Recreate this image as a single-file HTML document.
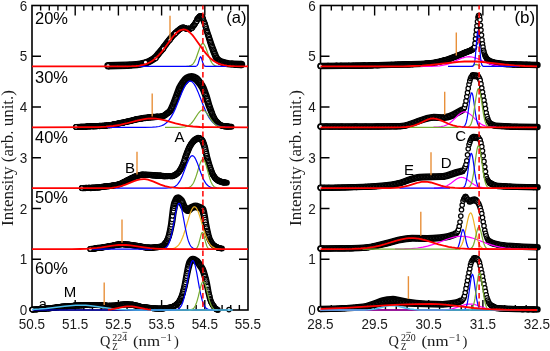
<!DOCTYPE html>
<html><head><meta charset="utf-8"><style>
html,body{margin:0;padding:0;background:#fff;width:550px;height:351px;overflow:hidden}
svg{display:block;will-change:transform}
</style></head><body>
<svg width="550" height="351" viewBox="0 0 550 351">
<rect width="550" height="351" fill="#fff"/>
<rect x="32.0" y="5.5" width="216.0" height="304.5" fill="none" stroke="#000" stroke-width="1.6"/>
<path d="M40.64 5.5v5M40.64 310.0v-5M49.28 5.5v5M49.28 310.0v-5M57.92 5.5v5M57.92 310.0v-5M66.56 5.5v5M66.56 310.0v-5M75.20 5.5v10M75.20 310.0v-10M83.84 5.5v5M83.84 310.0v-5M92.48 5.5v5M92.48 310.0v-5M101.12 5.5v5M101.12 310.0v-5M109.76 5.5v5M109.76 310.0v-5M118.40 5.5v10M118.40 310.0v-10M127.04 5.5v5M127.04 310.0v-5M135.68 5.5v5M135.68 310.0v-5M144.32 5.5v5M144.32 310.0v-5M152.96 5.5v5M152.96 310.0v-5M161.60 5.5v10M161.60 310.0v-10M170.24 5.5v5M170.24 310.0v-5M178.88 5.5v5M178.88 310.0v-5M187.52 5.5v5M187.52 310.0v-5M196.16 5.5v5M196.16 310.0v-5M204.80 5.5v10M204.80 310.0v-10M213.44 5.5v5M213.44 310.0v-5M222.08 5.5v5M222.08 310.0v-5M230.72 5.5v5M230.72 310.0v-5M239.36 5.5v5M239.36 310.0v-5M32.0 259.25h9M248.0 259.25h-9M32.0 208.50h9M248.0 208.50h-9M32.0 157.75h9M248.0 157.75h-9M32.0 107.00h9M248.0 107.00h-9M32.0 56.25h9M248.0 56.25h-9" stroke="#000" stroke-width="1.4" fill="none"/>
<rect x="320.5" y="5.5" width="216.5" height="304.5" fill="none" stroke="#000" stroke-width="1.6"/>
<path d="M331.32 5.5v5M331.32 310.0v-5M342.15 5.5v5M342.15 310.0v-5M352.98 5.5v5M352.98 310.0v-5M363.80 5.5v5M363.80 310.0v-5M374.62 5.5v10M374.62 310.0v-10M385.45 5.5v5M385.45 310.0v-5M396.27 5.5v5M396.27 310.0v-5M407.10 5.5v5M407.10 310.0v-5M417.93 5.5v5M417.93 310.0v-5M428.75 5.5v10M428.75 310.0v-10M439.57 5.5v5M439.57 310.0v-5M450.40 5.5v5M450.40 310.0v-5M461.23 5.5v5M461.23 310.0v-5M472.05 5.5v5M472.05 310.0v-5M482.88 5.5v10M482.88 310.0v-10M493.70 5.5v5M493.70 310.0v-5M504.52 5.5v5M504.52 310.0v-5M515.35 5.5v5M515.35 310.0v-5M526.17 5.5v5M526.17 310.0v-5M320.5 259.25h9M537.0 259.25h-9M320.5 208.50h9M537.0 208.50h-9M320.5 157.75h9M537.0 157.75h-9M320.5 107.00h9M537.0 107.00h-9M320.5 56.25h9M537.0 56.25h-9" stroke="#000" stroke-width="1.4" fill="none"/>
<text x="38.8" y="308.6" font-family="Liberation Sans, sans-serif" font-size="14.5" fill="#000">a</text>
<polygon points="107.9,62.1 126.4,61.6 136.1,61 139.8,60.4 144.1,59.5 146.2,58.8 148.5,57.7 151.8,55.7 153.9,53.8 159.8,46.7 166.5,38.1 171.1,32.8 174.2,29.7 178.8,26.2 180.1,25.4 181.8,24.8 183.8,24.6 185.2,24.9 187.4,25.8 189.8,25.7 189.2,25.9 190.8,24.4 191.5,23.5 193.4,20.5 195.3,17.2 196.7,15.3 197.4,14.5 198.5,13.7 199.4,13.3 200.5,13.1 201.6,13.3 203.1,14.1 204.5,15.6 205,16.3 205.7,17.7 207.4,22.1 210.5,32 215.2,45.8 217.2,51.1 219,55.2 219.6,56.4 221.1,57.7 222.6,58.5 224.3,59.1 227,59.8 229.4,60.2 233.3,60.5 241.5,60.8 241.5,68.2 236.3,68 229.9,67.6 227.2,67.2 224.4,66.7 221.4,65.8 219.1,64.9 216.9,63.5 215,61.9 213.9,60.6 213.1,59.3 210.3,52.3 208.5,47.3 205.9,38.7 201.4,23.2 200.1,19.5 199.4,18.6 199.9,18.8 200.5,18.9 201.1,18.8 201.6,18.6 200.2,20.3 198.6,23.5 196.5,26.9 195.6,28.2 193.9,30 192.3,31.3 191,31.8 188.6,32 186.5,31.9 185.2,31.6 183.2,30.8 182.4,31.2 181.2,32.1 177.9,34.9 175.2,37.8 170.6,43.5 164.7,51.6 158.9,58.8 156.2,61.4 152.2,63.9 149.4,65.3 146.7,66.3 142,67.5 137.4,68.2 133.5,68.6 127.4,68.9 108.1,69.5" fill="#000"/>
<circle cx="108.00" cy="65.80" r="3.69" fill="#000"/><circle cx="241.50" cy="64.50" r="3.67" fill="#000"/>
<g fill="#fff" stroke="#000" stroke-width="1.25"><circle cx="108" cy="65.7" r="2.2"/><circle cx="108.5" cy="65.7" r="2.2"/><circle cx="108.9" cy="65.8" r="2.2"/><circle cx="109.2" cy="66.2" r="2.2"/><circle cx="109.7" cy="65.9" r="2.2"/><circle cx="110.1" cy="65.7" r="2.2"/><circle cx="110.7" cy="65.6" r="2.2"/><circle cx="111.4" cy="65.6" r="2.2"/><circle cx="111.5" cy="66.2" r="2.2"/><circle cx="112" cy="65.9" r="2.2"/><circle cx="112.6" cy="65.7" r="2.2"/><circle cx="113" cy="65.6" r="2.2"/><circle cx="113.4" cy="65.4" r="2.2"/><circle cx="113.7" cy="65.7" r="2.2"/><circle cx="114.3" cy="65.9" r="2.2"/><circle cx="114.9" cy="65.5" r="2.2"/><circle cx="115" cy="65.6" r="2.2"/><circle cx="115.6" cy="65.6" r="2.2"/><circle cx="115.8" cy="65.7" r="2.2"/><circle cx="116.4" cy="65.1" r="2.2"/><circle cx="116.7" cy="65.5" r="2.2"/><circle cx="117.4" cy="65.3" r="2.2"/><circle cx="117.7" cy="65.8" r="2.2"/><circle cx="118.4" cy="65.3" r="2.2"/><circle cx="118.8" cy="65.7" r="2.2"/><circle cx="119.2" cy="66" r="2.2"/><circle cx="119.3" cy="65.4" r="2.2"/><circle cx="120.1" cy="65.3" r="2.2"/><circle cx="120.6" cy="65.5" r="2.2"/><circle cx="121.1" cy="65.5" r="2.2"/><circle cx="121.3" cy="65.2" r="2.2"/><circle cx="121.9" cy="65.6" r="2.2"/><circle cx="122.3" cy="66" r="2.2"/><circle cx="122.7" cy="65.3" r="2.2"/><circle cx="123.5" cy="65.3" r="2.2"/><circle cx="123.6" cy="65.1" r="2.2"/><circle cx="124.2" cy="65.5" r="2.2"/><circle cx="124.8" cy="65" r="2.2"/><circle cx="125" cy="65" r="2.2"/><circle cx="125.5" cy="65.7" r="2.2"/><circle cx="126" cy="65" r="2.2"/><circle cx="126.5" cy="65.6" r="2.2"/><circle cx="126.7" cy="65.7" r="2.2"/><circle cx="127.4" cy="65.3" r="2.2"/><circle cx="128" cy="65.4" r="2.2"/><circle cx="128" cy="65.8" r="2.2"/><circle cx="128.8" cy="65.1" r="2.2"/><circle cx="129.2" cy="65" r="2.2"/><circle cx="129.5" cy="64.7" r="2.2"/><circle cx="130.4" cy="65.1" r="2.2"/><circle cx="130.6" cy="65.5" r="2.2"/><circle cx="130.8" cy="65.4" r="2.2"/><circle cx="131.4" cy="64.8" r="2.2"/><circle cx="131.9" cy="64.8" r="2.2"/><circle cx="132.3" cy="64.8" r="2.2"/><circle cx="132.9" cy="65" r="2.2"/><circle cx="133.2" cy="64.9" r="2.2"/><circle cx="133.8" cy="65" r="2.2"/><circle cx="134.3" cy="65" r="2.2"/><circle cx="134.4" cy="64.7" r="2.2"/><circle cx="135" cy="64.8" r="2.2"/><circle cx="135.4" cy="64.8" r="2.2"/><circle cx="135.9" cy="64.7" r="2.2"/><circle cx="136.2" cy="64.8" r="2.2"/><circle cx="136.7" cy="65.2" r="2.2"/><circle cx="137.2" cy="64.7" r="2.2"/><circle cx="137.8" cy="64.5" r="2.2"/><circle cx="138.3" cy="63.9" r="2.2"/><circle cx="138.4" cy="64.5" r="2.2"/><circle cx="138.9" cy="63.7" r="2.2"/><circle cx="139.6" cy="63.8" r="2.2"/><circle cx="139.7" cy="64.4" r="2.2"/><circle cx="140.3" cy="64.3" r="2.2"/><circle cx="140.8" cy="63.9" r="2.2"/><circle cx="141.5" cy="63.4" r="2.2"/><circle cx="141.9" cy="63.7" r="2.2"/><circle cx="142.2" cy="63.5" r="2.2"/><circle cx="142.6" cy="63.8" r="2.2"/><circle cx="143.1" cy="64.2" r="2.2"/><circle cx="143.8" cy="63.4" r="2.2"/><circle cx="143.9" cy="63" r="2.2"/><circle cx="144.4" cy="62.8" r="2.2"/><circle cx="145" cy="63" r="2.2"/><circle cx="145.3" cy="62.8" r="2.2"/><circle cx="145.8" cy="62.4" r="2.2"/><circle cx="146.1" cy="62.7" r="2.2"/><circle cx="146.7" cy="62.1" r="2.2"/><circle cx="147.1" cy="62.7" r="2.2"/><circle cx="147.8" cy="62.5" r="2.2"/><circle cx="148.1" cy="62.3" r="2.2"/><circle cx="148.5" cy="61.6" r="2.2"/><circle cx="149.1" cy="61.7" r="2.2"/><circle cx="149.3" cy="61.3" r="2.2"/><circle cx="150" cy="61" r="2.2"/><circle cx="150.3" cy="60.8" r="2.2"/><circle cx="150.8" cy="60.2" r="2.2"/><circle cx="151" cy="59.9" r="2.2"/><circle cx="151.7" cy="60.3" r="2.2"/><circle cx="151.8" cy="59.8" r="2.2"/><circle cx="152.2" cy="59.6" r="2.2"/><circle cx="153" cy="59.5" r="2.2"/><circle cx="153.3" cy="58.4" r="2.2"/><circle cx="153.9" cy="58.4" r="2.2"/><circle cx="154.7" cy="58.3" r="2.2"/><circle cx="154.7" cy="58" r="2.2"/><circle cx="155.2" cy="57.3" r="2.2"/><circle cx="155.7" cy="57.3" r="2.2"/><circle cx="156.2" cy="56.6" r="2.2"/><circle cx="156.6" cy="55.7" r="2.2"/><circle cx="157" cy="55.2" r="2.2"/><circle cx="157.6" cy="55.2" r="2.2"/><circle cx="158" cy="54.6" r="2.2"/><circle cx="158.2" cy="53.3" r="2.2"/><circle cx="158.8" cy="53.7" r="2.2"/><circle cx="159.3" cy="52.9" r="2.2"/><circle cx="159.6" cy="52.6" r="2.2"/><circle cx="160.2" cy="51.5" r="2.2"/><circle cx="160.5" cy="51" r="2.2"/><circle cx="161.2" cy="50.2" r="2.2"/><circle cx="161.6" cy="50.8" r="2.2"/><circle cx="162" cy="49.4" r="2.2"/><circle cx="162.4" cy="49.4" r="2.2"/><circle cx="162.9" cy="48.1" r="2.2"/><circle cx="163.1" cy="47.8" r="2.2"/><circle cx="163.6" cy="46.6" r="2.2"/><circle cx="164.3" cy="46.4" r="2.2"/><circle cx="164.4" cy="46.2" r="2.2"/><circle cx="165.3" cy="44.9" r="2.2"/><circle cx="165.3" cy="45" r="2.2"/><circle cx="166.2" cy="44.2" r="2.2"/><circle cx="166.4" cy="43.1" r="2.2"/><circle cx="167.1" cy="42.7" r="2.2"/><circle cx="167.4" cy="42.1" r="2.2"/><circle cx="167.6" cy="41.7" r="2.2"/><circle cx="168.5" cy="40.9" r="2.2"/><circle cx="169" cy="40.3" r="2.2"/><circle cx="169.2" cy="39.9" r="2.2"/><circle cx="169.6" cy="39.2" r="2.2"/><circle cx="170.1" cy="38.5" r="2.2"/><circle cx="170.4" cy="38.4" r="2.2"/><circle cx="171.2" cy="38.1" r="2.2"/><circle cx="171.4" cy="36.8" r="2.2"/><circle cx="171.9" cy="36.8" r="2.2"/><circle cx="172.2" cy="36" r="2.2"/><circle cx="172.7" cy="35.4" r="2.2"/><circle cx="173.1" cy="35.4" r="2.2"/><circle cx="173.9" cy="34.5" r="2.2"/><circle cx="174.1" cy="34.6" r="2.2"/><circle cx="174.7" cy="33.5" r="2.2"/><circle cx="175.1" cy="33.4" r="2.2"/><circle cx="175.4" cy="32.7" r="2.2"/><circle cx="175.9" cy="32.2" r="2.2"/><circle cx="176.3" cy="32.2" r="2.2"/><circle cx="176.9" cy="31.6" r="2.2"/><circle cx="177.2" cy="31.4" r="2.2"/><circle cx="177.7" cy="30.9" r="2.2"/><circle cx="178" cy="30.2" r="2.2"/><circle cx="178.5" cy="30.1" r="2.2"/><circle cx="179.3" cy="29.8" r="2.2"/><circle cx="179.4" cy="29.7" r="2.2"/><circle cx="179.8" cy="28.8" r="2.2"/><circle cx="180.5" cy="28.8" r="2.2"/><circle cx="181.1" cy="28" r="2.2"/><circle cx="181.1" cy="28.4" r="2.2"/><circle cx="181.8" cy="27.7" r="2.2"/><circle cx="182.2" cy="27.3" r="2.2"/><circle cx="182.4" cy="27.7" r="2.2"/><circle cx="183.3" cy="28" r="2.2"/><circle cx="183.6" cy="27.3" r="2.2"/><circle cx="184.1" cy="27.5" r="2.2"/><circle cx="184.4" cy="27.7" r="2.2"/><circle cx="185" cy="27.8" r="2.2"/><circle cx="185.3" cy="28.4" r="2.2"/><circle cx="185.8" cy="28.3" r="2.2"/><circle cx="186.1" cy="28.5" r="2.2"/><circle cx="186.6" cy="29" r="2.2"/><circle cx="187.4" cy="28.7" r="2.2"/><circle cx="187.6" cy="29" r="2.2"/><circle cx="188.1" cy="28.6" r="2.2"/><circle cx="188.5" cy="28.5" r="2.2"/><circle cx="188.9" cy="28.3" r="2.2"/><circle cx="189.4" cy="29.4" r="2.2"/><circle cx="190" cy="28.7" r="2.2"/><circle cx="190.3" cy="28.8" r="2.2"/><circle cx="190.8" cy="28.5" r="2.2"/><circle cx="191.3" cy="28.3" r="2.2"/><circle cx="191.9" cy="27.8" r="2.2"/><circle cx="192.3" cy="28" r="2.2"/><circle cx="192.7" cy="26.6" r="2.2"/><circle cx="193" cy="26" r="2.2"/><circle cx="193.3" cy="25.6" r="2.2"/><circle cx="194.1" cy="24.9" r="2.2"/><circle cx="194.5" cy="24.8" r="2.2"/><circle cx="194.8" cy="24.1" r="2.2"/><circle cx="195.4" cy="22.9" r="2.2"/><circle cx="195.9" cy="22" r="2.2"/><circle cx="196.3" cy="21.5" r="2.2"/><circle cx="196.8" cy="21.2" r="2.2"/><circle cx="197" cy="19.1" r="2.2"/><circle cx="197.8" cy="19.3" r="2.2"/><circle cx="197.8" cy="18.1" r="2.2"/><circle cx="198.6" cy="18.1" r="2.2"/><circle cx="199" cy="16.9" r="2.2"/><circle cx="199.5" cy="16.6" r="2.2"/><circle cx="200.1" cy="15.8" r="2.2"/><circle cx="200.5" cy="15.7" r="2.2"/><circle cx="200.5" cy="16.4" r="2.2"/><circle cx="200.9" cy="16.5" r="2.2"/><circle cx="201.7" cy="16.6" r="2.2"/><circle cx="201.9" cy="16.9" r="2.2"/><circle cx="202.5" cy="17.2" r="2.2"/><circle cx="203.1" cy="18.6" r="2.2"/><circle cx="203.2" cy="19.8" r="2.2"/><circle cx="203.5" cy="21.1" r="2.2"/><circle cx="204.3" cy="22.3" r="2.2"/><circle cx="204.8" cy="23.5" r="2.2"/><circle cx="205.2" cy="25.3" r="2.2"/><circle cx="205.7" cy="26.9" r="2.2"/><circle cx="206" cy="28.8" r="2.2"/><circle cx="206.3" cy="30.5" r="2.2"/><circle cx="207" cy="31.3" r="2.2"/><circle cx="207.3" cy="32.6" r="2.2"/><circle cx="207.7" cy="34.2" r="2.2"/><circle cx="208.4" cy="35.5" r="2.2"/><circle cx="208.8" cy="36.8" r="2.2"/><circle cx="209.3" cy="38.5" r="2.2"/><circle cx="209.6" cy="39.6" r="2.2"/><circle cx="210.1" cy="41.4" r="2.2"/><circle cx="210.5" cy="42.6" r="2.2"/><circle cx="210.9" cy="44.1" r="2.2"/><circle cx="211.5" cy="45.4" r="2.2"/><circle cx="211.8" cy="46.6" r="2.2"/><circle cx="212.5" cy="47.8" r="2.2"/><circle cx="212.9" cy="49.3" r="2.2"/><circle cx="213.6" cy="50.4" r="2.2"/><circle cx="213.5" cy="51.8" r="2.2"/><circle cx="214.3" cy="52.9" r="2.2"/><circle cx="214.6" cy="53.5" r="2.2"/><circle cx="215.1" cy="55.1" r="2.2"/><circle cx="215.3" cy="55.8" r="2.2"/><circle cx="215.9" cy="57" r="2.2"/><circle cx="216.6" cy="57.9" r="2.2"/><circle cx="216.9" cy="58.1" r="2.2"/><circle cx="217.4" cy="59.2" r="2.2"/><circle cx="217.8" cy="59.6" r="2.2"/><circle cx="218.4" cy="59.9" r="2.2"/><circle cx="218.7" cy="60.2" r="2.2"/><circle cx="218.8" cy="60.6" r="2.2"/><circle cx="219.5" cy="60.7" r="2.2"/><circle cx="219.8" cy="61.2" r="2.2"/><circle cx="220" cy="61.4" r="2.2"/><circle cx="220.9" cy="61.8" r="2.2"/><circle cx="221.6" cy="61.6" r="2.2"/><circle cx="221.9" cy="62.2" r="2.2"/><circle cx="222.1" cy="62.3" r="2.2"/><circle cx="222.6" cy="62.4" r="2.2"/><circle cx="223.4" cy="62.5" r="2.2"/><circle cx="223.7" cy="62.9" r="2.2"/><circle cx="224.1" cy="62.3" r="2.2"/><circle cx="224.5" cy="63.1" r="2.2"/><circle cx="225" cy="63.1" r="2.2"/><circle cx="225.6" cy="63.3" r="2.2"/><circle cx="226" cy="63.4" r="2.2"/><circle cx="226.4" cy="63.2" r="2.2"/><circle cx="226.6" cy="63.4" r="2.2"/><circle cx="227.3" cy="63.7" r="2.2"/><circle cx="227.6" cy="63.7" r="2.2"/><circle cx="228.3" cy="63.7" r="2.2"/><circle cx="228.4" cy="63.3" r="2.2"/><circle cx="229" cy="64" r="2.2"/><circle cx="229.5" cy="64.2" r="2.2"/><circle cx="229.8" cy="64.2" r="2.2"/><circle cx="230.7" cy="64" r="2.2"/><circle cx="231.1" cy="63.5" r="2.2"/><circle cx="231.2" cy="64.3" r="2.2"/><circle cx="231.9" cy="64" r="2.2"/><circle cx="232.3" cy="63.3" r="2.2"/><circle cx="232.3" cy="64.2" r="2.2"/><circle cx="233.1" cy="63.7" r="2.2"/><circle cx="233.5" cy="63.8" r="2.2"/><circle cx="234" cy="64" r="2.2"/><circle cx="234.3" cy="64.6" r="2.2"/><circle cx="234.9" cy="64.2" r="2.2"/><circle cx="235.3" cy="64.4" r="2.2"/><circle cx="236" cy="64.9" r="2.2"/><circle cx="236.3" cy="64.8" r="2.2"/><circle cx="236.7" cy="64.3" r="2.2"/><circle cx="237.4" cy="64.3" r="2.2"/><circle cx="237.5" cy="64" r="2.2"/><circle cx="238" cy="64.2" r="2.2"/><circle cx="238.2" cy="64.6" r="2.2"/><circle cx="108.0" cy="65.8" r="2.2"/><circle cx="155.9" cy="58.3" r="2.2"/><circle cx="163.4" cy="48.9" r="2.2"/><circle cx="170" cy="40" r="2.2"/><circle cx="175.5" cy="33.6" r="2.2"/><circle cx="145.5" cy="62.3" r="2.2"/></g>
<circle cx="239.0" cy="64.5" r="2.9" fill="#000"/>
<polyline points="186.5,66.3 189,66.1 190.5,65.7 192,64.8 193,63.8 193.5,63.2 194.5,61.6 196,58.4 199.5,48.5 200.5,46.1 201.5,44.4 202,43.8 202.5,43.5 203,43.5 203.5,43.8 204,44.2 205,45.9 206,48.2 209.5,58.1 211,61.4 212,63 212.5,63.7 213.5,64.7 215,65.6 216.5,66.1 219,66.3" stroke="#77ac30" stroke-width="1.2" fill="none"/>
<polyline points="138.5,66.4 195.5,66.3 196.5,66 197,65.6 197.5,64.9 198,63.9 198.5,62.4 199.5,58.9 200,57.5 200.5,56.9 201,57.2 201.5,58.3 203,63.3 203.5,64.6 204,65.4 204.5,65.9 205,66.2 206,66.4 207,66.4 227,66.4" stroke="#0000ff" stroke-width="1.2" fill="none"/>
<polyline points="32,66.4 126,66.3 131.5,66.2 136,66 139.5,65.6 143,64.9 146.5,63.9 149.5,62.5 152.5,60.8 155.5,58.4 158.5,55.5 161.5,52.1 164.5,48.2 171.5,38.5 173.5,36 175.5,33.8 177.5,32 179.5,30.6 180.5,30.1 181.5,29.8 182.5,29.6 183.5,29.5 185,29.7 186,30 187,30.4 189,31.8 191,33.6 192.5,35.2 194.5,37.7 202.5,49 204.5,51.7 206.5,54.1 209,56.9 211,58.8 213,60.4 215.5,62 218,63.3 221,64.4 224,65.2 227,65.7 230.5,66 234.5,66.2 248,66.4" stroke="#ff0000" stroke-width="1.8" fill="none"/>
<line x1="170" y1="15.8" x2="170" y2="39.3" stroke="#e8903a" stroke-width="1.4"/>
<polygon points="75.9,123.9 97.8,123 104.3,122.6 108.4,122.2 112,121.7 116.4,120.8 125.8,118.7 135.8,116.3 140.5,115.3 145.6,114.6 158.9,113.4 162.3,112.9 163.3,112.2 166.7,109.6 167.4,108.8 167.8,108.2 170.7,101.5 176.2,86.6 177.9,83.4 179.8,80.5 182.5,77.1 183.6,76 184.5,75.3 186.4,74.3 188.3,73.6 189.8,73.2 191.6,73.1 193.3,73.3 195.2,73.8 197.7,75 198.8,75.7 199.9,76.8 201.1,78.2 203.4,81.2 205.1,83.8 206.5,86.4 208,90.4 209.8,95.5 212.3,104.5 215.3,112.9 216.8,116.5 218.4,119 219.9,120.6 222.1,122.7 225.6,123.3 231.5,123.7 231.5,129.7 224.7,129.3 222.5,129 220.4,128.5 218.9,127.9 217.8,127.1 214.4,123.9 213,122.2 211.5,120.1 209.5,116 205.7,106.8 202.7,97.8 201.7,95 200.5,91.8 199.3,89.3 197.3,86.2 194.1,82.4 193.7,82.1 192.7,81.7 191.4,81.3 190,81.7 189,82.1 188.7,82.4 185.9,85.6 183.9,88.6 182.5,91.4 176.7,105.4 174.3,110.5 173,112.7 171.9,113.9 170.5,115 166.6,117.9 164.7,118.9 163.4,119.3 160.6,119.7 147.8,120.8 141.5,121.6 137.2,122.5 127.2,124.8 117.4,126.9 112.8,127.7 109.1,128.3 105,128.7 98.4,129.1 76.1,129.9" fill="#000"/>
<circle cx="76.00" cy="126.90" r="3.01" fill="#000"/><circle cx="231.50" cy="126.70" r="3.01" fill="#000"/>
<g fill="#fff" stroke="#000" stroke-width="1.25"><circle cx="76.1" cy="127" r="2.2"/><circle cx="76.5" cy="127.1" r="2.2"/><circle cx="76.8" cy="126.8" r="2.2"/><circle cx="77.2" cy="127.1" r="2.2"/><circle cx="77.6" cy="126.9" r="2.2"/><circle cx="77.9" cy="126.8" r="2.2"/><circle cx="78.2" cy="126.9" r="2.2"/><circle cx="78.9" cy="127" r="2.2"/><circle cx="79.2" cy="126.7" r="2.2"/><circle cx="79.6" cy="126.7" r="2.2"/><circle cx="79.8" cy="126.7" r="2.2"/><circle cx="80.4" cy="126.8" r="2.2"/><circle cx="80.7" cy="126.6" r="2.2"/><circle cx="81.1" cy="126.9" r="2.2"/><circle cx="81.4" cy="126.6" r="2.2"/><circle cx="82" cy="126.8" r="2.2"/><circle cx="82.5" cy="126.5" r="2.2"/><circle cx="82.8" cy="126.8" r="2.2"/><circle cx="83.1" cy="126.7" r="2.2"/><circle cx="83.6" cy="126.6" r="2.2"/><circle cx="84.1" cy="127" r="2.2"/><circle cx="84.1" cy="126.7" r="2.2"/><circle cx="84.8" cy="127" r="2.2"/><circle cx="85.3" cy="126.8" r="2.2"/><circle cx="85.7" cy="126.4" r="2.2"/><circle cx="86.2" cy="126.5" r="2.2"/><circle cx="86.5" cy="126.6" r="2.2"/><circle cx="86.8" cy="126.5" r="2.2"/><circle cx="87.2" cy="126.5" r="2.2"/><circle cx="87.7" cy="126.4" r="2.2"/><circle cx="87.9" cy="126.1" r="2.2"/><circle cx="88.4" cy="126.4" r="2.2"/><circle cx="88.9" cy="126" r="2.2"/><circle cx="89.4" cy="126.5" r="2.2"/><circle cx="89.6" cy="126.3" r="2.2"/><circle cx="90" cy="126.3" r="2.2"/><circle cx="90.4" cy="126.3" r="2.2"/><circle cx="90.9" cy="126.4" r="2.2"/><circle cx="91.2" cy="126.1" r="2.2"/><circle cx="91.7" cy="126" r="2.2"/><circle cx="91.9" cy="126.1" r="2.2"/><circle cx="92.4" cy="125.9" r="2.2"/><circle cx="92.8" cy="126.1" r="2.2"/><circle cx="93.3" cy="126.6" r="2.2"/><circle cx="93.7" cy="126" r="2.2"/><circle cx="93.8" cy="126.4" r="2.2"/><circle cx="94.3" cy="125.9" r="2.2"/><circle cx="94.8" cy="126.3" r="2.2"/><circle cx="95.1" cy="126.1" r="2.2"/><circle cx="95.4" cy="126.1" r="2.2"/><circle cx="96.1" cy="126.3" r="2.2"/><circle cx="96.4" cy="126.5" r="2.2"/><circle cx="96.8" cy="126.1" r="2.2"/><circle cx="97.2" cy="126.1" r="2.2"/><circle cx="97.7" cy="125.9" r="2.2"/><circle cx="98" cy="126.2" r="2.2"/><circle cx="98.5" cy="126" r="2.2"/><circle cx="98.7" cy="126.2" r="2.2"/><circle cx="99.1" cy="126" r="2.2"/><circle cx="99.6" cy="126.3" r="2.2"/><circle cx="99.9" cy="125.5" r="2.2"/><circle cx="100.5" cy="125.9" r="2.2"/><circle cx="100.8" cy="126.1" r="2.2"/><circle cx="101.1" cy="125.8" r="2.2"/><circle cx="101.6" cy="125.7" r="2.2"/><circle cx="102" cy="125.8" r="2.2"/><circle cx="102.5" cy="125.5" r="2.2"/><circle cx="102.7" cy="125.8" r="2.2"/><circle cx="103.2" cy="126.2" r="2.2"/><circle cx="103.7" cy="125.9" r="2.2"/><circle cx="104.2" cy="125.5" r="2.2"/><circle cx="104.6" cy="125.5" r="2.2"/><circle cx="104.8" cy="125.5" r="2.2"/><circle cx="105.2" cy="125.8" r="2.2"/><circle cx="105.8" cy="125.4" r="2.2"/><circle cx="106" cy="125.4" r="2.2"/><circle cx="106.3" cy="125.7" r="2.2"/><circle cx="106.8" cy="125.6" r="2.2"/><circle cx="107.2" cy="125.4" r="2.2"/><circle cx="107.5" cy="125.2" r="2.2"/><circle cx="107.8" cy="125" r="2.2"/><circle cx="108.3" cy="125.2" r="2.2"/><circle cx="108.9" cy="124.8" r="2.2"/><circle cx="109.1" cy="125.3" r="2.2"/><circle cx="109.6" cy="125" r="2.2"/><circle cx="110" cy="125.2" r="2.2"/><circle cx="110.5" cy="125.4" r="2.2"/><circle cx="110.8" cy="125.2" r="2.2"/><circle cx="111.2" cy="124.7" r="2.2"/><circle cx="111.5" cy="125" r="2.2"/><circle cx="112" cy="125" r="2.2"/><circle cx="112.3" cy="124.5" r="2.2"/><circle cx="112.9" cy="124.4" r="2.2"/><circle cx="113.2" cy="124.5" r="2.2"/><circle cx="113.5" cy="124.2" r="2.2"/><circle cx="114" cy="124.7" r="2.2"/><circle cx="114.4" cy="123.8" r="2.2"/><circle cx="114.9" cy="124" r="2.2"/><circle cx="115" cy="124.1" r="2.2"/><circle cx="115.5" cy="124" r="2.2"/><circle cx="116" cy="124" r="2.2"/><circle cx="116.7" cy="124" r="2.2"/><circle cx="116.9" cy="123.8" r="2.2"/><circle cx="117.2" cy="124" r="2.2"/><circle cx="117.7" cy="123.2" r="2.2"/><circle cx="118.2" cy="123.6" r="2.2"/><circle cx="118.4" cy="123.3" r="2.2"/><circle cx="118.8" cy="123.4" r="2.2"/><circle cx="119.3" cy="123.4" r="2.2"/><circle cx="119.6" cy="123.1" r="2.2"/><circle cx="120.1" cy="123" r="2.2"/><circle cx="120.3" cy="123.2" r="2.2"/><circle cx="121" cy="123" r="2.2"/><circle cx="121.4" cy="122.8" r="2.2"/><circle cx="121.7" cy="123.2" r="2.2"/><circle cx="122.1" cy="123.2" r="2.2"/><circle cx="122.2" cy="122.3" r="2.2"/><circle cx="122.9" cy="122.6" r="2.2"/><circle cx="123.2" cy="123" r="2.2"/><circle cx="123.6" cy="122.5" r="2.2"/><circle cx="124.1" cy="122.3" r="2.2"/><circle cx="124.4" cy="122.2" r="2.2"/><circle cx="124.6" cy="122" r="2.2"/><circle cx="125.2" cy="122" r="2.2"/><circle cx="125.5" cy="121.9" r="2.2"/><circle cx="126" cy="122" r="2.2"/><circle cx="126.3" cy="121.7" r="2.2"/><circle cx="126.8" cy="121.6" r="2.2"/><circle cx="127" cy="121.4" r="2.2"/><circle cx="127.7" cy="121.5" r="2.2"/><circle cx="128" cy="121.3" r="2.2"/><circle cx="128.5" cy="121.3" r="2.2"/><circle cx="129" cy="121.5" r="2.2"/><circle cx="129.2" cy="121.2" r="2.2"/><circle cx="129.4" cy="121.2" r="2.2"/><circle cx="129.9" cy="121" r="2.2"/><circle cx="130.3" cy="120.9" r="2.2"/><circle cx="130.7" cy="120.7" r="2.2"/><circle cx="131.2" cy="120.6" r="2.2"/><circle cx="131.4" cy="120.7" r="2.2"/><circle cx="132" cy="120.2" r="2.2"/><circle cx="132.2" cy="120.6" r="2.2"/><circle cx="132.8" cy="120.3" r="2.2"/><circle cx="133.2" cy="120" r="2.2"/><circle cx="133.6" cy="120" r="2.2"/><circle cx="134" cy="119.8" r="2.2"/><circle cx="134.3" cy="119.9" r="2.2"/><circle cx="134.7" cy="119.6" r="2.2"/><circle cx="135" cy="119.9" r="2.2"/><circle cx="135.6" cy="119.4" r="2.2"/><circle cx="136.2" cy="119" r="2.2"/><circle cx="136.6" cy="119.3" r="2.2"/><circle cx="136.9" cy="118.9" r="2.2"/><circle cx="137.3" cy="119.2" r="2.2"/><circle cx="137.5" cy="119.3" r="2.2"/><circle cx="138.1" cy="119.2" r="2.2"/><circle cx="138.4" cy="118.7" r="2.2"/><circle cx="138.8" cy="118.7" r="2.2"/><circle cx="139.2" cy="119.2" r="2.2"/><circle cx="139.6" cy="118.8" r="2.2"/><circle cx="140" cy="118.6" r="2.2"/><circle cx="140.4" cy="118.8" r="2.2"/><circle cx="140.7" cy="119" r="2.2"/><circle cx="141.2" cy="118.7" r="2.2"/><circle cx="141.8" cy="118.4" r="2.2"/><circle cx="142" cy="118.4" r="2.2"/><circle cx="142.4" cy="118.4" r="2.2"/><circle cx="142.9" cy="118.1" r="2.2"/><circle cx="143.3" cy="117.9" r="2.2"/><circle cx="143.5" cy="118.1" r="2.2"/><circle cx="144" cy="117.8" r="2.2"/><circle cx="144.5" cy="118" r="2.2"/><circle cx="144.8" cy="117.9" r="2.2"/><circle cx="145.2" cy="118.3" r="2.2"/><circle cx="145.8" cy="117.7" r="2.2"/><circle cx="145.9" cy="117.8" r="2.2"/><circle cx="146.4" cy="117.7" r="2.2"/><circle cx="146.7" cy="117.8" r="2.2"/><circle cx="147.3" cy="117.9" r="2.2"/><circle cx="147.4" cy="117.5" r="2.2"/><circle cx="147.9" cy="117.4" r="2.2"/><circle cx="148.3" cy="117.2" r="2.2"/><circle cx="148.9" cy="117.3" r="2.2"/><circle cx="149.3" cy="117.6" r="2.2"/><circle cx="149.7" cy="117.4" r="2.2"/><circle cx="149.8" cy="117.2" r="2.2"/><circle cx="150.5" cy="117.3" r="2.2"/><circle cx="150.8" cy="117.3" r="2.2"/><circle cx="151.1" cy="117.4" r="2.2"/><circle cx="151.7" cy="117.1" r="2.2"/><circle cx="151.9" cy="117.1" r="2.2"/><circle cx="152.2" cy="116.8" r="2.2"/><circle cx="152.8" cy="116.9" r="2.2"/><circle cx="153.1" cy="117.4" r="2.2"/><circle cx="153.5" cy="116.6" r="2.2"/><circle cx="154" cy="116.9" r="2.2"/><circle cx="154.4" cy="117" r="2.2"/><circle cx="155" cy="116.9" r="2.2"/><circle cx="155.2" cy="116.8" r="2.2"/><circle cx="155.4" cy="116.9" r="2.2"/><circle cx="155.9" cy="116.9" r="2.2"/><circle cx="156.3" cy="116.8" r="2.2"/><circle cx="156.7" cy="116.4" r="2.2"/><circle cx="157.2" cy="116.7" r="2.2"/><circle cx="157.5" cy="116.6" r="2.2"/><circle cx="157.8" cy="116.6" r="2.2"/><circle cx="158.5" cy="116.7" r="2.2"/><circle cx="158.8" cy="116.8" r="2.2"/><circle cx="159.2" cy="116.8" r="2.2"/><circle cx="159.6" cy="116.5" r="2.2"/><circle cx="160.1" cy="116.7" r="2.2"/><circle cx="160.4" cy="116.7" r="2.2"/><circle cx="160.9" cy="116.6" r="2.2"/><circle cx="161.2" cy="116.6" r="2.2"/><circle cx="161.6" cy="116.3" r="2.2"/><circle cx="162" cy="116.2" r="2.2"/><circle cx="162.3" cy="116.3" r="2.2"/><circle cx="162.8" cy="115.8" r="2.2"/><circle cx="163.2" cy="116" r="2.2"/><circle cx="163.6" cy="115.7" r="2.2"/><circle cx="163.9" cy="115.6" r="2.2"/><circle cx="164.6" cy="115.1" r="2.2"/><circle cx="164.8" cy="115" r="2.2"/><circle cx="165.1" cy="114.9" r="2.2"/><circle cx="165.4" cy="114.8" r="2.2"/><circle cx="166" cy="114.5" r="2.2"/><circle cx="166.4" cy="114" r="2.2"/><circle cx="166.7" cy="113.6" r="2.2"/><circle cx="167.2" cy="113.2" r="2.2"/><circle cx="167.5" cy="113.1" r="2.2"/><circle cx="168.1" cy="112.7" r="2.2"/><circle cx="168.3" cy="112.6" r="2.2"/><circle cx="168.8" cy="112.5" r="2.2"/><circle cx="169.3" cy="111.8" r="2.2"/><circle cx="169.9" cy="111.1" r="2.2"/><circle cx="169.9" cy="110.8" r="2.2"/><circle cx="170.4" cy="110.2" r="2.2"/><circle cx="170.7" cy="109.6" r="2.2"/><circle cx="171.3" cy="109.3" r="2.2"/><circle cx="171.5" cy="108.3" r="2.2"/><circle cx="172" cy="107.1" r="2.2"/><circle cx="172.4" cy="106.6" r="2.2"/><circle cx="172.7" cy="105.8" r="2.2"/><circle cx="173.1" cy="104.6" r="2.2"/><circle cx="173.6" cy="103.6" r="2.2"/><circle cx="173.8" cy="102.7" r="2.2"/><circle cx="174.3" cy="101.9" r="2.2"/><circle cx="174.8" cy="100.9" r="2.2"/><circle cx="175.2" cy="100" r="2.2"/><circle cx="175.6" cy="98.9" r="2.2"/><circle cx="175.8" cy="97.9" r="2.2"/><circle cx="176.4" cy="96.9" r="2.2"/><circle cx="176.9" cy="95.7" r="2.2"/><circle cx="177.3" cy="94.3" r="2.2"/><circle cx="177.6" cy="93.5" r="2.2"/><circle cx="177.9" cy="92.6" r="2.2"/><circle cx="178.5" cy="91.4" r="2.2"/><circle cx="178.7" cy="90.6" r="2.2"/><circle cx="179.1" cy="89.4" r="2.2"/><circle cx="179.5" cy="88.4" r="2.2"/><circle cx="180.1" cy="88" r="2.2"/><circle cx="180.4" cy="87" r="2.2"/><circle cx="180.9" cy="86.2" r="2.2"/><circle cx="181.2" cy="85.7" r="2.2"/><circle cx="181.7" cy="85.1" r="2.2"/><circle cx="181.9" cy="84.3" r="2.2"/><circle cx="182.4" cy="83.2" r="2.2"/><circle cx="183" cy="83" r="2.2"/><circle cx="183.3" cy="82.5" r="2.2"/><circle cx="183.5" cy="81.9" r="2.2"/><circle cx="184" cy="81.7" r="2.2"/><circle cx="184.4" cy="81.4" r="2.2"/><circle cx="184.9" cy="80.5" r="2.2"/><circle cx="185.2" cy="79.9" r="2.2"/><circle cx="185.4" cy="80.1" r="2.2"/><circle cx="186" cy="79.2" r="2.2"/><circle cx="186.4" cy="78.7" r="2.2"/><circle cx="186.8" cy="78.7" r="2.2"/><circle cx="187.3" cy="78.5" r="2.2"/><circle cx="187.6" cy="78.1" r="2.2"/><circle cx="188.1" cy="78.2" r="2.2"/><circle cx="188.3" cy="77.8" r="2.2"/><circle cx="188.9" cy="77.6" r="2.2"/><circle cx="189.4" cy="77.6" r="2.2"/><circle cx="189.7" cy="77.6" r="2.2"/><circle cx="190" cy="77.3" r="2.2"/><circle cx="190.4" cy="77.4" r="2.2"/><circle cx="191" cy="77.2" r="2.2"/><circle cx="191.1" cy="77.8" r="2.2"/><circle cx="191.6" cy="77.1" r="2.2"/><circle cx="192" cy="77.5" r="2.2"/><circle cx="192.5" cy="77.3" r="2.2"/><circle cx="192.8" cy="77.4" r="2.2"/><circle cx="193.2" cy="77.6" r="2.2"/><circle cx="193.6" cy="77.8" r="2.2"/><circle cx="194" cy="78" r="2.2"/><circle cx="194.4" cy="78" r="2.2"/><circle cx="194.7" cy="78" r="2.2"/><circle cx="195.2" cy="78.2" r="2.2"/><circle cx="195.7" cy="78.6" r="2.2"/><circle cx="195.9" cy="78.9" r="2.2"/><circle cx="196.4" cy="79.3" r="2.2"/><circle cx="196.9" cy="79.5" r="2.2"/><circle cx="197.1" cy="80" r="2.2"/><circle cx="197.6" cy="80.6" r="2.2"/><circle cx="197.9" cy="80.8" r="2.2"/><circle cx="198.5" cy="81" r="2.2"/><circle cx="199" cy="81.5" r="2.2"/><circle cx="199.4" cy="82" r="2.2"/><circle cx="199.6" cy="83.1" r="2.2"/><circle cx="200.1" cy="83.1" r="2.2"/><circle cx="200.4" cy="84" r="2.2"/><circle cx="200.8" cy="84.5" r="2.2"/><circle cx="201.4" cy="85.3" r="2.2"/><circle cx="201.5" cy="85.8" r="2.2"/><circle cx="202.1" cy="86.2" r="2.2"/><circle cx="202.4" cy="86.9" r="2.2"/><circle cx="202.9" cy="87.7" r="2.2"/><circle cx="203.2" cy="88.6" r="2.2"/><circle cx="203.5" cy="89.3" r="2.2"/><circle cx="204" cy="90.4" r="2.2"/><circle cx="204.5" cy="91.8" r="2.2"/><circle cx="204.8" cy="92.2" r="2.2"/><circle cx="205.2" cy="93.7" r="2.2"/><circle cx="205.5" cy="94.6" r="2.2"/><circle cx="205.8" cy="95.9" r="2.2"/><circle cx="206.5" cy="97.3" r="2.2"/><circle cx="206.9" cy="98.5" r="2.2"/><circle cx="207.2" cy="100" r="2.2"/><circle cx="207.6" cy="100.9" r="2.2"/><circle cx="208.1" cy="102.8" r="2.2"/><circle cx="208.4" cy="103.8" r="2.2"/><circle cx="208.7" cy="105.2" r="2.2"/><circle cx="209.2" cy="106.3" r="2.2"/><circle cx="209.7" cy="106.8" r="2.2"/><circle cx="209.9" cy="108.3" r="2.2"/><circle cx="210.5" cy="109.5" r="2.2"/><circle cx="210.7" cy="110.8" r="2.2"/><circle cx="211.1" cy="111.6" r="2.2"/><circle cx="211.7" cy="112.6" r="2.2"/><circle cx="212" cy="113.2" r="2.2"/><circle cx="212.3" cy="114.8" r="2.2"/><circle cx="212.8" cy="115.8" r="2.2"/><circle cx="213.3" cy="116.4" r="2.2"/><circle cx="213.7" cy="117.2" r="2.2"/><circle cx="214" cy="117.7" r="2.2"/><circle cx="214.4" cy="118.9" r="2.2"/><circle cx="214.9" cy="119.9" r="2.2"/><circle cx="215.1" cy="120" r="2.2"/><circle cx="215.6" cy="120.7" r="2.2"/><circle cx="216" cy="121.1" r="2.2"/><circle cx="216.3" cy="121.2" r="2.2"/><circle cx="216.8" cy="122.2" r="2.2"/><circle cx="217.2" cy="122.1" r="2.2"/><circle cx="217.6" cy="122.7" r="2.2"/><circle cx="217.9" cy="123.2" r="2.2"/><circle cx="218.4" cy="123.7" r="2.2"/><circle cx="218.9" cy="123.9" r="2.2"/><circle cx="219.2" cy="124.3" r="2.2"/><circle cx="219.7" cy="124.4" r="2.2"/><circle cx="220.1" cy="124.6" r="2.2"/><circle cx="220.5" cy="125.2" r="2.2"/><circle cx="221" cy="125.3" r="2.2"/><circle cx="221.1" cy="125.3" r="2.2"/><circle cx="221.7" cy="125.4" r="2.2"/><circle cx="222" cy="125.7" r="2.2"/><circle cx="222.6" cy="125.5" r="2.2"/><circle cx="223" cy="125.7" r="2.2"/><circle cx="223" cy="125.7" r="2.2"/><circle cx="223.5" cy="126.1" r="2.2"/><circle cx="224.1" cy="126.2" r="2.2"/><circle cx="224.5" cy="126.6" r="2.2"/><circle cx="224.9" cy="125.9" r="2.2"/><circle cx="225.2" cy="126.2" r="2.2"/><circle cx="225.6" cy="126.5" r="2.2"/><circle cx="226.1" cy="126.3" r="2.2"/><circle cx="226.4" cy="126.3" r="2.2"/><circle cx="226.9" cy="126.8" r="2.2"/><circle cx="227" cy="126.4" r="2.2"/><circle cx="227.7" cy="126.3" r="2.2"/><circle cx="227.9" cy="126.3" r="2.2"/><circle cx="228.5" cy="126.6" r="2.2"/><circle cx="228.8" cy="126.6" r="2.2"/><circle cx="76.0" cy="126.9" r="2.2"/></g>
<circle cx="229.0" cy="126.6" r="2.9" fill="#000"/>
<polyline points="107,127.3 144.5,127.3 152.5,127.2 156,126.9 159,126.5 161.5,125.8 163.5,124.9 165.5,123.6 167.5,121.8 169.5,119.4 171.5,116.4 173.5,112.7 175.5,108.4 182,92.3 183.5,88.9 184.5,86.9 186,84.3 187.5,82.5 188.5,81.6 189,81.4 190,81.1 191,81.2 191.5,81.4 192.5,82.2 194,83.9 195.5,86.4 196.5,88.5 198,91.9 203.5,106 206,111.8 207.5,114.8 209,117.4 210,119 211.5,120.9 213,122.5 215,124.2 216.5,125 218.5,125.9 220.5,126.5 223,126.9 226,127.1 229.5,127.2" stroke="#0000ff" stroke-width="1.2" fill="none"/>
<polyline points="165,127.3 177.5,127.3 181.5,127.2 183.5,127 185,126.8 186.5,126.4 187.5,126 189,125.2 190,124.5 191,123.6 192,122.5 194,119.9 197.5,114.5 198.5,113 199.5,111.8 200.5,110.9 201,110.5 202,110.1 202.5,110 203,110 204,110.4 205,111.1 206,112.1 207.5,114.2 212,121 214,123.4 215.5,124.7 216.5,125.4 217.5,125.9 219.5,126.6 222,127.1 225,127.2" stroke="#77ac30" stroke-width="1.2" fill="none"/>
<polyline points="32,127.3 88,127.2 98,127.1 106,126.7 113,126 120,124.9 126,123.5 138,120.4 143,119.3 147.5,118.7 152,118.5 156,118.7 160.5,119.4 165,120.4 175.5,123.4 181,124.7 187,125.8 193,126.5 200,127 208.5,127.2 248,127.3" stroke="#ff0000" stroke-width="1.8" fill="none"/>
<line x1="152.2" y1="93.6" x2="152.2" y2="116.4" stroke="#e8903a" stroke-width="1.4"/>
<polygon points="81.8,185 90.4,184.8 98.8,184.3 110.6,182.8 116.6,181.7 118.7,181.2 119.8,180.8 128.2,176.3 134.1,173.6 136.5,172.8 141.4,171.7 143.2,171.5 146.7,171.6 159.8,172.5 164.7,173.1 171.2,173 172.6,172.8 174.2,171.8 176.4,169.9 177.2,168.9 178.3,167 180.3,162.7 183.2,153.8 185.5,147.9 186.9,144.9 189,141.4 191.1,138.7 193.1,137.1 195.6,135.5 197,135 198,134.8 199.2,134.9 200.4,135.1 202.2,136 203.2,136.8 204.5,138.1 205.1,138.8 205.9,140.2 206.7,142.4 208,146.6 210.2,156.6 212.3,164.1 214.7,171.1 215.6,172.9 216.9,175.3 218,176.6 219.1,177.5 220.5,178.2 221.9,178.7 224,179.3 227,179.8 226.6,185.8 224.8,185.6 222.6,185.2 220.2,184.6 218.1,183.8 216.3,182.9 214.5,181.7 213.3,180.7 212.3,179.5 210,175.8 209.2,174.1 208.4,172.1 206,165.3 204.4,160.1 203.4,156 201.8,149.2 200.9,146.1 199.6,142.6 198.2,141.6 198.6,141.6 196.4,143 195.4,144 194.1,145.8 192.5,148.5 189.6,155.3 186.3,165 184.6,168.5 183,171.5 181.4,173.6 179.6,175.4 177,177.4 175,178.5 173.8,178.9 172.5,179.1 164.7,179.3 159,178.7 146.8,177.8 143.8,177.7 142.2,177.8 138.1,178.7 136.5,179.3 130.9,181.8 122.3,186.3 120.7,186.9 118,187.6 111.7,188.7 99.3,190.3 90.7,190.8 81.8,191" fill="#000"/>
<circle cx="81.80" cy="188.00" r="3.00" fill="#000"/><circle cx="226.80" cy="182.79" r="3.04" fill="#000"/>
<g fill="#fff" stroke="#000" stroke-width="1.25"><circle cx="81.9" cy="188.2" r="2.2"/><circle cx="82" cy="187.8" r="2.2"/><circle cx="82.6" cy="187.9" r="2.2"/><circle cx="83" cy="188.4" r="2.2"/><circle cx="83.3" cy="187.8" r="2.2"/><circle cx="83.6" cy="187.8" r="2.2"/><circle cx="84.2" cy="187.9" r="2.2"/><circle cx="84.7" cy="187.8" r="2.2"/><circle cx="85.2" cy="188.2" r="2.2"/><circle cx="85.2" cy="188.3" r="2.2"/><circle cx="86.1" cy="187.8" r="2.2"/><circle cx="86.1" cy="187.6" r="2.2"/><circle cx="86.7" cy="188.2" r="2.2"/><circle cx="87.1" cy="188.1" r="2.2"/><circle cx="87.5" cy="188.1" r="2.2"/><circle cx="87.8" cy="188.1" r="2.2"/><circle cx="88.1" cy="187.7" r="2.2"/><circle cx="88.7" cy="187.8" r="2.2"/><circle cx="88.9" cy="187.6" r="2.2"/><circle cx="89.1" cy="187.6" r="2.2"/><circle cx="90.1" cy="188" r="2.2"/><circle cx="90.3" cy="187.7" r="2.2"/><circle cx="90.8" cy="188.3" r="2.2"/><circle cx="90.9" cy="187.8" r="2.2"/><circle cx="91.5" cy="187.6" r="2.2"/><circle cx="92" cy="187.9" r="2.2"/><circle cx="92.4" cy="188.1" r="2.2"/><circle cx="92.6" cy="187.8" r="2.2"/><circle cx="92.9" cy="187.4" r="2.2"/><circle cx="93.4" cy="187.7" r="2.2"/><circle cx="93.6" cy="187.9" r="2.2"/><circle cx="94" cy="187.5" r="2.2"/><circle cx="94.6" cy="187.5" r="2.2"/><circle cx="94.9" cy="187.8" r="2.2"/><circle cx="95.4" cy="187.6" r="2.2"/><circle cx="95.8" cy="187.3" r="2.2"/><circle cx="96.4" cy="187.5" r="2.2"/><circle cx="96.7" cy="187.4" r="2.2"/><circle cx="97" cy="187.5" r="2.2"/><circle cx="97.5" cy="187.5" r="2.2"/><circle cx="97.7" cy="187.6" r="2.2"/><circle cx="98.2" cy="187.5" r="2.2"/><circle cx="98.7" cy="187" r="2.2"/><circle cx="98.9" cy="187.4" r="2.2"/><circle cx="99.4" cy="187.5" r="2.2"/><circle cx="99.7" cy="187.3" r="2.2"/><circle cx="100.2" cy="187.4" r="2.2"/><circle cx="100.8" cy="187" r="2.2"/><circle cx="100.9" cy="186.9" r="2.2"/><circle cx="101.4" cy="187.2" r="2.2"/><circle cx="101.7" cy="186.8" r="2.2"/><circle cx="102.1" cy="186.5" r="2.2"/><circle cx="102.5" cy="187.1" r="2.2"/><circle cx="103.1" cy="186.7" r="2.2"/><circle cx="103.6" cy="186.8" r="2.2"/><circle cx="103.8" cy="186.5" r="2.2"/><circle cx="104.1" cy="186.4" r="2.2"/><circle cx="104.7" cy="186.4" r="2.2"/><circle cx="105" cy="186.5" r="2.2"/><circle cx="105.5" cy="186.6" r="2.2"/><circle cx="105.8" cy="186" r="2.2"/><circle cx="106.2" cy="186.6" r="2.2"/><circle cx="106.7" cy="186.2" r="2.2"/><circle cx="106.9" cy="186.1" r="2.2"/><circle cx="107.4" cy="186.4" r="2.2"/><circle cx="107.6" cy="186.2" r="2.2"/><circle cx="108.2" cy="185.9" r="2.2"/><circle cx="108.5" cy="186.5" r="2.2"/><circle cx="109" cy="185.9" r="2.2"/><circle cx="109.3" cy="186" r="2.2"/><circle cx="109.8" cy="186" r="2.2"/><circle cx="110.2" cy="186.2" r="2.2"/><circle cx="110.5" cy="185.7" r="2.2"/><circle cx="110.9" cy="186" r="2.2"/><circle cx="111.3" cy="185.6" r="2.2"/><circle cx="111.9" cy="185.9" r="2.2"/><circle cx="112.4" cy="185.4" r="2.2"/><circle cx="112.7" cy="185.4" r="2.2"/><circle cx="113" cy="185.8" r="2.2"/><circle cx="113.5" cy="185.5" r="2.2"/><circle cx="113.6" cy="185.4" r="2.2"/><circle cx="114.3" cy="185.7" r="2.2"/><circle cx="114.5" cy="185.3" r="2.2"/><circle cx="114.7" cy="185" r="2.2"/><circle cx="115.7" cy="185.2" r="2.2"/><circle cx="116" cy="184.7" r="2.2"/><circle cx="116.1" cy="185.1" r="2.2"/><circle cx="116.6" cy="185.1" r="2.2"/><circle cx="117" cy="184.6" r="2.2"/><circle cx="117.4" cy="184.5" r="2.2"/><circle cx="117.7" cy="184.6" r="2.2"/><circle cx="118.1" cy="184.5" r="2.2"/><circle cx="118.6" cy="184.2" r="2.2"/><circle cx="119" cy="184.4" r="2.2"/><circle cx="119.5" cy="183.7" r="2.2"/><circle cx="119.8" cy="184" r="2.2"/><circle cx="120.4" cy="183.8" r="2.2"/><circle cx="120.5" cy="183.7" r="2.2"/><circle cx="121" cy="183.6" r="2.2"/><circle cx="121.2" cy="183.1" r="2.2"/><circle cx="121.7" cy="183.3" r="2.2"/><circle cx="122.3" cy="182.9" r="2.2"/><circle cx="122.5" cy="182.6" r="2.2"/><circle cx="123.1" cy="182.3" r="2.2"/><circle cx="123.4" cy="182.1" r="2.2"/><circle cx="123.7" cy="182.2" r="2.2"/><circle cx="124.2" cy="181.7" r="2.2"/><circle cx="124.5" cy="181.6" r="2.2"/><circle cx="125" cy="181.6" r="2.2"/><circle cx="125.5" cy="181.4" r="2.2"/><circle cx="125.9" cy="181.3" r="2.2"/><circle cx="126.1" cy="180.7" r="2.2"/><circle cx="126.5" cy="180.4" r="2.2"/><circle cx="127" cy="180.6" r="2.2"/><circle cx="127.4" cy="180.2" r="2.2"/><circle cx="127.9" cy="180.2" r="2.2"/><circle cx="128.5" cy="179.8" r="2.2"/><circle cx="128.7" cy="179.8" r="2.2"/><circle cx="129" cy="179.5" r="2.2"/><circle cx="129.4" cy="179.3" r="2.2"/><circle cx="129.7" cy="179.1" r="2.2"/><circle cx="130.1" cy="178.8" r="2.2"/><circle cx="130.5" cy="178.6" r="2.2"/><circle cx="131" cy="178.4" r="2.2"/><circle cx="131.4" cy="178.4" r="2.2"/><circle cx="131.9" cy="177.9" r="2.2"/><circle cx="132.2" cy="178.2" r="2.2"/><circle cx="132.6" cy="177.6" r="2.2"/><circle cx="132.9" cy="177.7" r="2.2"/><circle cx="133.6" cy="177.3" r="2.2"/><circle cx="133.9" cy="177" r="2.2"/><circle cx="134.4" cy="177.3" r="2.2"/><circle cx="134.7" cy="176.7" r="2.2"/><circle cx="135.1" cy="176.3" r="2.2"/><circle cx="135.4" cy="176.3" r="2.2"/><circle cx="135.9" cy="176.2" r="2.2"/><circle cx="136.5" cy="176.5" r="2.2"/><circle cx="136.5" cy="176" r="2.2"/><circle cx="137.1" cy="176" r="2.2"/><circle cx="137.6" cy="175.5" r="2.2"/><circle cx="137.8" cy="175.7" r="2.2"/><circle cx="138.3" cy="175.7" r="2.2"/><circle cx="138.7" cy="175.8" r="2.2"/><circle cx="138.9" cy="175.2" r="2.2"/><circle cx="139.4" cy="175.3" r="2.2"/><circle cx="139.7" cy="175.2" r="2.2"/><circle cx="140.1" cy="174.8" r="2.2"/><circle cx="140.5" cy="174.9" r="2.2"/><circle cx="141" cy="174.8" r="2.2"/><circle cx="141.4" cy="174.3" r="2.2"/><circle cx="141.8" cy="174.8" r="2.2"/><circle cx="142.1" cy="174.8" r="2.2"/><circle cx="142.8" cy="174.6" r="2.2"/><circle cx="143.1" cy="174.3" r="2.2"/><circle cx="143.5" cy="174.9" r="2.2"/><circle cx="143.8" cy="174.7" r="2.2"/><circle cx="144.2" cy="174.8" r="2.2"/><circle cx="144.7" cy="174.9" r="2.2"/><circle cx="145" cy="174.5" r="2.2"/><circle cx="145.2" cy="174.8" r="2.2"/><circle cx="145.9" cy="174.6" r="2.2"/><circle cx="146.5" cy="174.7" r="2.2"/><circle cx="146.4" cy="174.7" r="2.2"/><circle cx="147.1" cy="174.7" r="2.2"/><circle cx="147.4" cy="175" r="2.2"/><circle cx="147.8" cy="174.8" r="2.2"/><circle cx="148.3" cy="174.8" r="2.2"/><circle cx="148.5" cy="174.8" r="2.2"/><circle cx="149" cy="174.9" r="2.2"/><circle cx="149.6" cy="174.7" r="2.2"/><circle cx="149.8" cy="174.8" r="2.2"/><circle cx="150.2" cy="175" r="2.2"/><circle cx="150.6" cy="174.9" r="2.2"/><circle cx="151" cy="175" r="2.2"/><circle cx="151.6" cy="174.9" r="2.2"/><circle cx="151.7" cy="175.5" r="2.2"/><circle cx="152.3" cy="175.4" r="2.2"/><circle cx="152.5" cy="175.2" r="2.2"/><circle cx="153.1" cy="175.2" r="2.2"/><circle cx="153.4" cy="175.6" r="2.2"/><circle cx="153.5" cy="175.3" r="2.2"/><circle cx="154.2" cy="175.2" r="2.2"/><circle cx="154.5" cy="175.3" r="2.2"/><circle cx="155" cy="175.4" r="2.2"/><circle cx="155.6" cy="175.6" r="2.2"/><circle cx="155.7" cy="175.4" r="2.2"/><circle cx="156.1" cy="175.8" r="2.2"/><circle cx="156.7" cy="175.2" r="2.2"/><circle cx="157" cy="175.6" r="2.2"/><circle cx="157.6" cy="175.3" r="2.2"/><circle cx="157.8" cy="175.9" r="2.2"/><circle cx="158.1" cy="175.5" r="2.2"/><circle cx="158.6" cy="175.5" r="2.2"/><circle cx="159.1" cy="175.8" r="2.2"/><circle cx="159.5" cy="175.9" r="2.2"/><circle cx="159.8" cy="175.4" r="2.2"/><circle cx="160.2" cy="175.6" r="2.2"/><circle cx="160.6" cy="175.4" r="2.2"/><circle cx="160.9" cy="175.8" r="2.2"/><circle cx="161.6" cy="175.8" r="2.2"/><circle cx="161.8" cy="175.8" r="2.2"/><circle cx="162.1" cy="175.8" r="2.2"/><circle cx="162.6" cy="175.9" r="2.2"/><circle cx="163.1" cy="175.9" r="2.2"/><circle cx="163.5" cy="176.2" r="2.2"/><circle cx="163.8" cy="176.4" r="2.2"/><circle cx="164.1" cy="175.8" r="2.2"/><circle cx="164.6" cy="176.2" r="2.2"/><circle cx="164.8" cy="176.1" r="2.2"/><circle cx="165.3" cy="176.3" r="2.2"/><circle cx="165.9" cy="176" r="2.2"/><circle cx="166.2" cy="176.2" r="2.2"/><circle cx="166.6" cy="176" r="2.2"/><circle cx="167.1" cy="176.3" r="2.2"/><circle cx="167.5" cy="176.2" r="2.2"/><circle cx="167.8" cy="176.1" r="2.2"/><circle cx="168.4" cy="176.2" r="2.2"/><circle cx="168.7" cy="176.1" r="2.2"/><circle cx="169" cy="175.8" r="2.2"/><circle cx="169.5" cy="176.2" r="2.2"/><circle cx="169.8" cy="176.2" r="2.2"/><circle cx="170.1" cy="176.1" r="2.2"/><circle cx="170.6" cy="176.3" r="2.2"/><circle cx="171" cy="176.3" r="2.2"/><circle cx="171.2" cy="175.8" r="2.2"/><circle cx="171.8" cy="175.9" r="2.2"/><circle cx="172.2" cy="176.3" r="2.2"/><circle cx="172.6" cy="176.3" r="2.2"/><circle cx="172.8" cy="175.7" r="2.2"/><circle cx="173.4" cy="175.5" r="2.2"/><circle cx="173.8" cy="175.5" r="2.2"/><circle cx="174.2" cy="175.4" r="2.2"/><circle cx="174.5" cy="174.9" r="2.2"/><circle cx="175.1" cy="175" r="2.2"/><circle cx="175.3" cy="174.5" r="2.2"/><circle cx="175.8" cy="174.2" r="2.2"/><circle cx="176.3" cy="174.4" r="2.2"/><circle cx="176.5" cy="173.7" r="2.2"/><circle cx="176.9" cy="173.5" r="2.2"/><circle cx="177.5" cy="173.3" r="2.2"/><circle cx="177.8" cy="173" r="2.2"/><circle cx="178.2" cy="172.4" r="2.2"/><circle cx="178.6" cy="172.1" r="2.2"/><circle cx="179.1" cy="171.5" r="2.2"/><circle cx="179.2" cy="171.5" r="2.2"/><circle cx="179.7" cy="170.8" r="2.2"/><circle cx="180.1" cy="169.8" r="2.2"/><circle cx="180.5" cy="169.3" r="2.2"/><circle cx="180.9" cy="168.8" r="2.2"/><circle cx="181.3" cy="168" r="2.2"/><circle cx="181.8" cy="167.4" r="2.2"/><circle cx="182.1" cy="166.5" r="2.2"/><circle cx="182.6" cy="165.3" r="2.2"/><circle cx="183" cy="164.5" r="2.2"/><circle cx="183.3" cy="163.3" r="2.2"/><circle cx="183.8" cy="162.5" r="2.2"/><circle cx="184.4" cy="161.3" r="2.2"/><circle cx="184.6" cy="160.6" r="2.2"/><circle cx="184.9" cy="158.8" r="2.2"/><circle cx="185.4" cy="157.1" r="2.2"/><circle cx="185.7" cy="156.2" r="2.2"/><circle cx="186.2" cy="155.2" r="2.2"/><circle cx="186.7" cy="153.8" r="2.2"/><circle cx="186.9" cy="152.9" r="2.2"/><circle cx="187.4" cy="151.9" r="2.2"/><circle cx="187.9" cy="151.1" r="2.2"/><circle cx="188.1" cy="150" r="2.2"/><circle cx="188.6" cy="148.9" r="2.2"/><circle cx="188.9" cy="148.3" r="2.2"/><circle cx="189.3" cy="147.2" r="2.2"/><circle cx="189.7" cy="146.4" r="2.2"/><circle cx="190.4" cy="145.5" r="2.2"/><circle cx="190.6" cy="145" r="2.2"/><circle cx="190.9" cy="144.6" r="2.2"/><circle cx="191.3" cy="143.5" r="2.2"/><circle cx="191.8" cy="143.2" r="2.2"/><circle cx="192.3" cy="142.8" r="2.2"/><circle cx="192.6" cy="142.1" r="2.2"/><circle cx="193.2" cy="141.7" r="2.2"/><circle cx="193.4" cy="141" r="2.2"/><circle cx="193.9" cy="141.1" r="2.2"/><circle cx="194.2" cy="140.7" r="2.2"/><circle cx="194.7" cy="140.2" r="2.2"/><circle cx="194.9" cy="139.5" r="2.2"/><circle cx="195.4" cy="139.3" r="2.2"/><circle cx="195.8" cy="139.5" r="2.2"/><circle cx="196.2" cy="139.4" r="2.2"/><circle cx="196.4" cy="138.8" r="2.2"/><circle cx="197.1" cy="138.8" r="2.2"/><circle cx="197.4" cy="138.3" r="2.2"/><circle cx="197.8" cy="138.3" r="2.2"/><circle cx="198.2" cy="138.2" r="2.2"/><circle cx="198.6" cy="138.3" r="2.2"/><circle cx="199" cy="137.9" r="2.2"/><circle cx="199.3" cy="138.6" r="2.2"/><circle cx="199.7" cy="138.8" r="2.2"/><circle cx="200.2" cy="138.6" r="2.2"/><circle cx="200.6" cy="138.8" r="2.2"/><circle cx="201" cy="139.4" r="2.2"/><circle cx="201.3" cy="139.6" r="2.2"/><circle cx="201.7" cy="139.6" r="2.2"/><circle cx="202.2" cy="140.7" r="2.2"/><circle cx="202.7" cy="141.2" r="2.2"/><circle cx="202.9" cy="142" r="2.2"/><circle cx="203.6" cy="143.5" r="2.2"/><circle cx="203.9" cy="144.3" r="2.2"/><circle cx="204.2" cy="145.4" r="2.2"/><circle cx="204.7" cy="146.8" r="2.2"/><circle cx="204.9" cy="148" r="2.2"/><circle cx="205.2" cy="149.8" r="2.2"/><circle cx="205.7" cy="151.9" r="2.2"/><circle cx="206.2" cy="153.6" r="2.2"/><circle cx="206.6" cy="155.5" r="2.2"/><circle cx="206.9" cy="157.5" r="2.2"/><circle cx="207.4" cy="158.9" r="2.2"/><circle cx="207.6" cy="160.3" r="2.2"/><circle cx="208.2" cy="161.6" r="2.2"/><circle cx="208.5" cy="162.9" r="2.2"/><circle cx="208.9" cy="164.4" r="2.2"/><circle cx="209.4" cy="165.4" r="2.2"/><circle cx="209.7" cy="167" r="2.2"/><circle cx="210.1" cy="167.6" r="2.2"/><circle cx="210.5" cy="169" r="2.2"/><circle cx="211" cy="169.9" r="2.2"/><circle cx="211.5" cy="171.2" r="2.2"/><circle cx="211.9" cy="172.4" r="2.2"/><circle cx="212.1" cy="173.5" r="2.2"/><circle cx="212.5" cy="173.9" r="2.2"/><circle cx="212.9" cy="174.7" r="2.2"/><circle cx="213.4" cy="175.4" r="2.2"/><circle cx="213.6" cy="176" r="2.2"/><circle cx="214.3" cy="176.6" r="2.2"/><circle cx="214.6" cy="177.4" r="2.2"/><circle cx="214.9" cy="177.6" r="2.2"/><circle cx="215.4" cy="178.5" r="2.2"/><circle cx="215.9" cy="178.9" r="2.2"/><circle cx="216.2" cy="179" r="2.2"/><circle cx="216.7" cy="179.3" r="2.2"/><circle cx="217" cy="179.5" r="2.2"/><circle cx="217.5" cy="180.4" r="2.2"/><circle cx="217.9" cy="180" r="2.2"/><circle cx="218.2" cy="180.8" r="2.2"/><circle cx="218.7" cy="180.8" r="2.2"/><circle cx="219" cy="180.8" r="2.2"/><circle cx="219.4" cy="180.8" r="2.2"/><circle cx="219.7" cy="181.4" r="2.2"/><circle cx="220.2" cy="181.7" r="2.2"/><circle cx="220.7" cy="181.3" r="2.2"/><circle cx="220.9" cy="181.6" r="2.2"/><circle cx="221.5" cy="182" r="2.2"/><circle cx="221.8" cy="181.9" r="2.2"/><circle cx="222.2" cy="182.4" r="2.2"/><circle cx="222.4" cy="181.9" r="2.2"/><circle cx="223" cy="182.3" r="2.2"/><circle cx="223.5" cy="182" r="2.2"/><circle cx="223.7" cy="182.8" r="2.2"/><circle cx="224.2" cy="182.3" r="2.2"/><circle cx="224.4" cy="182.1" r="2.2"/><circle cx="81.8" cy="188.0" r="2.2"/></g>
<circle cx="224.5" cy="182.5" r="2.9" fill="#000"/>
<polyline points="184.8,188.1 186.3,188 187.8,187.8 188.8,187.5 189.8,187.1 191.3,185.9 192.3,184.7 192.8,184 193.8,182.2 195.3,178.6 196.8,174.1 199.3,165.8 200.3,163 201.3,160.9 201.8,160.2 202.3,159.7 202.8,159.4 203.3,159.5 203.8,159.8 204.3,160.5 205.3,162.8 206.3,165.9 208.8,175.2 209.8,178.5 210.8,181.4 211.3,182.5 212.3,184.5 212.8,185.2 213.8,186.4 214.3,186.8 215.3,187.4 216.8,187.9 219.3,188.1" stroke="#77ac30" stroke-width="1.2" fill="none"/>
<polyline points="114.3,188.2 165.8,188.2 168.8,188 170.8,187.8 172.3,187.5 173.8,187 175.3,186.3 176.8,185.1 178.3,183.4 179.8,181.2 180.8,179.3 182.3,176 187.3,162.9 188.8,159.5 189.8,157.8 190.8,156.5 191.3,156.1 191.8,155.8 192.3,155.7 192.8,155.8 193.3,156 193.8,156.4 194.8,157.6 195.8,159.4 197.3,162.9 200.8,172.7 202.3,176.6 203.3,178.9 204.3,180.9 205.8,183.3 206.8,184.5 207.8,185.5 208.8,186.3 210.3,187.1 211.3,187.4 212.8,187.8 214.8,188 216.8,188.1" stroke="#0000ff" stroke-width="1.2" fill="none"/>
<polyline points="32,188.2 98,188.2 106,188.1 111.5,187.8 116.5,187.1 121,186.2 125.5,184.7 134,181.2 137,180.2 139,179.6 140.5,179.3 143.5,179.1 145,179.2 146.5,179.4 148,179.7 150,180.3 153,181.4 160.5,184.6 165,186.1 167,186.6 169.5,187.2 174,187.7 179.5,188.1 187,188.2 248,188.2" stroke="#ff0000" stroke-width="1.8" fill="none"/>
<line x1="137" y1="151.8" x2="137" y2="174.5" stroke="#e8903a" stroke-width="1.4"/>
<polygon points="89.8,246 104.7,244 115.9,241.7 118.6,241.3 121.1,241.1 124.6,241.2 128.8,241.6 137.2,242.7 145.6,244.2 148.6,244.5 151.6,244.5 154.9,244.3 158.5,243.9 160.7,243.4 162.2,242.1 163.8,240.1 165,237.4 166,234.1 167.1,228.9 168,223.7 169.3,212.7 169.9,208 170.7,204 171.3,201.8 173,197.7 173.8,196.4 174.4,195.7 175.4,194.9 177,194.4 178.4,194.3 180,194.8 181.2,195.4 182.7,196.7 184.2,198.3 185.3,200.2 187.2,204.7 188.9,206.6 188.1,206.4 186.9,206.7 188.9,204.8 191,203.7 193.5,202.7 195.5,202.4 197.7,202.8 202.2,204.5 203.9,205.4 205.4,206.7 206.2,208 207.1,211.2 208,215.9 209.1,223.1 210.3,229.1 211.6,234.8 212.6,238 213.5,239.9 214.5,241.6 215,242.3 216.1,243.2 217.5,244.1 218.7,244.7 220.6,245.2 222,245.4 221.9,251.4 218.8,251 217,250.5 215.7,250 212.9,248.5 210.5,246.5 209.1,244.8 207.9,242.9 206.5,240 205.6,237.5 204.2,232.7 203.1,228.2 200.9,217.3 199.8,213 199.2,211.1 199.7,211.8 199.1,211.4 195.4,210.2 193.3,211.1 191.5,212.7 189.7,213.7 188.8,213.9 187.8,214 187,213.9 185.5,213.4 183.6,212.1 181.2,209.5 180,207.6 177.8,203 176.7,202 177.5,202.3 178.4,202.3 179.5,201.9 180.1,201.3 178.6,204.5 178,206.8 176.6,213.7 175.5,221.7 174.6,226.3 173.2,232.6 171.8,237.6 170.1,241.7 168.5,244.3 165.8,247.2 163.7,248.8 161.9,249.5 157.6,250.2 153.4,250.5 149.1,250.6 145,250.3 136.2,248.8 127.8,247.7 124,247.3 121.1,247.3 116.5,247.9 105.9,249.9 90.6,252" fill="#000"/>
<circle cx="90.20" cy="249.00" r="3.00" fill="#000"/><circle cx="221.95" cy="248.40" r="3.01" fill="#000"/>
<g fill="#fff" stroke="#000" stroke-width="1.25"><circle cx="90.4" cy="249" r="2.2"/><circle cx="90.6" cy="248.7" r="2.2"/><circle cx="91.1" cy="248.9" r="2.2"/><circle cx="91.5" cy="249" r="2.2"/><circle cx="91.8" cy="249.2" r="2.2"/><circle cx="92.2" cy="248.9" r="2.2"/><circle cx="92.6" cy="248.8" r="2.2"/><circle cx="92.9" cy="248.9" r="2.2"/><circle cx="93.5" cy="248.8" r="2.2"/><circle cx="93.7" cy="248.9" r="2.2"/><circle cx="94.3" cy="248.7" r="2.2"/><circle cx="94.7" cy="248.4" r="2.2"/><circle cx="95" cy="248.4" r="2.2"/><circle cx="95.3" cy="248.4" r="2.2"/><circle cx="95.8" cy="248.3" r="2.2"/><circle cx="96.2" cy="248.3" r="2.2"/><circle cx="96.7" cy="248" r="2.2"/><circle cx="97" cy="247.7" r="2.2"/><circle cx="97.5" cy="247.9" r="2.2"/><circle cx="97.7" cy="247.6" r="2.2"/><circle cx="98.2" cy="248" r="2.2"/><circle cx="98.4" cy="247.9" r="2.2"/><circle cx="99.1" cy="247.5" r="2.2"/><circle cx="99.4" cy="247.9" r="2.2"/><circle cx="99.8" cy="247.9" r="2.2"/><circle cx="100.3" cy="247.7" r="2.2"/><circle cx="100.7" cy="248" r="2.2"/><circle cx="100.7" cy="248" r="2.2"/><circle cx="101.4" cy="247.3" r="2.2"/><circle cx="101.7" cy="247.7" r="2.2"/><circle cx="102.3" cy="247.5" r="2.2"/><circle cx="102.8" cy="247.4" r="2.2"/><circle cx="102.9" cy="247.5" r="2.2"/><circle cx="103.4" cy="247.1" r="2.2"/><circle cx="103.8" cy="247.1" r="2.2"/><circle cx="104.2" cy="247" r="2.2"/><circle cx="104.7" cy="246.9" r="2.2"/><circle cx="105.1" cy="247" r="2.2"/><circle cx="105.3" cy="246.6" r="2.2"/><circle cx="106" cy="246.7" r="2.2"/><circle cx="106.1" cy="246.9" r="2.2"/><circle cx="106.6" cy="246.7" r="2.2"/><circle cx="107.1" cy="246.7" r="2.2"/><circle cx="107.5" cy="246.2" r="2.2"/><circle cx="107.7" cy="246.4" r="2.2"/><circle cx="108.1" cy="246.3" r="2.2"/><circle cx="108.6" cy="246.4" r="2.2"/><circle cx="109" cy="246.2" r="2.2"/><circle cx="109.5" cy="246.4" r="2.2"/><circle cx="109.7" cy="246.1" r="2.2"/><circle cx="110.2" cy="246" r="2.2"/><circle cx="110.7" cy="245.9" r="2.2"/><circle cx="111.1" cy="246" r="2.2"/><circle cx="111.4" cy="245.7" r="2.2"/><circle cx="112" cy="245.9" r="2.2"/><circle cx="112.2" cy="245.7" r="2.2"/><circle cx="112.7" cy="245.5" r="2.2"/><circle cx="113.1" cy="245.4" r="2.2"/><circle cx="113.6" cy="245.4" r="2.2"/><circle cx="113.6" cy="245.4" r="2.2"/><circle cx="114.3" cy="245.3" r="2.2"/><circle cx="114.6" cy="245.2" r="2.2"/><circle cx="115" cy="245.2" r="2.2"/><circle cx="115.3" cy="245" r="2.2"/><circle cx="115.6" cy="245.1" r="2.2"/><circle cx="116.2" cy="244.8" r="2.2"/><circle cx="116.5" cy="244.3" r="2.2"/><circle cx="117" cy="244.9" r="2.2"/><circle cx="117.3" cy="244.6" r="2.2"/><circle cx="117.9" cy="244.3" r="2.2"/><circle cx="118.2" cy="244.4" r="2.2"/><circle cx="118.6" cy="244.3" r="2.2"/><circle cx="118.9" cy="244.8" r="2.2"/><circle cx="119.3" cy="244.4" r="2.2"/><circle cx="119.7" cy="244" r="2.2"/><circle cx="120.1" cy="244.4" r="2.2"/><circle cx="120.6" cy="244.2" r="2.2"/><circle cx="121" cy="244.6" r="2.2"/><circle cx="121.3" cy="244" r="2.2"/><circle cx="121.8" cy="243.8" r="2.2"/><circle cx="122.1" cy="244.2" r="2.2"/><circle cx="122.6" cy="244.1" r="2.2"/><circle cx="123.2" cy="244.1" r="2.2"/><circle cx="123.5" cy="243.8" r="2.2"/><circle cx="123.8" cy="244.3" r="2.2"/><circle cx="124" cy="244.6" r="2.2"/><circle cx="124.5" cy="243.9" r="2.2"/><circle cx="124.8" cy="244.5" r="2.2"/><circle cx="125.5" cy="244.2" r="2.2"/><circle cx="125.7" cy="244.8" r="2.2"/><circle cx="126.2" cy="244.5" r="2.2"/><circle cx="126.5" cy="244.4" r="2.2"/><circle cx="127" cy="244.7" r="2.2"/><circle cx="127.5" cy="244.6" r="2.2"/><circle cx="127.7" cy="244.4" r="2.2"/><circle cx="128.2" cy="244.8" r="2.2"/><circle cx="128.5" cy="244.6" r="2.2"/><circle cx="129.1" cy="244.4" r="2.2"/><circle cx="129.3" cy="245.2" r="2.2"/><circle cx="129.7" cy="244.7" r="2.2"/><circle cx="130.1" cy="244.7" r="2.2"/><circle cx="130.5" cy="245" r="2.2"/><circle cx="131" cy="244.7" r="2.2"/><circle cx="131.7" cy="244.8" r="2.2"/><circle cx="131.7" cy="245" r="2.2"/><circle cx="132.3" cy="245" r="2.2"/><circle cx="132.6" cy="245.2" r="2.2"/><circle cx="132.9" cy="245.5" r="2.2"/><circle cx="133.4" cy="245.2" r="2.2"/><circle cx="133.8" cy="245.5" r="2.2"/><circle cx="134.1" cy="245.5" r="2.2"/><circle cx="134.8" cy="245.2" r="2.2"/><circle cx="134.8" cy="245.5" r="2.2"/><circle cx="135.4" cy="245.4" r="2.2"/><circle cx="135.8" cy="245.8" r="2.2"/><circle cx="136.1" cy="245.7" r="2.2"/><circle cx="136.6" cy="245.7" r="2.2"/><circle cx="137.1" cy="245.5" r="2.2"/><circle cx="137.4" cy="245.9" r="2.2"/><circle cx="137.8" cy="245.8" r="2.2"/><circle cx="138.3" cy="246.1" r="2.2"/><circle cx="138.4" cy="246" r="2.2"/><circle cx="139.1" cy="246" r="2.2"/><circle cx="139.6" cy="246.4" r="2.2"/><circle cx="139.9" cy="246.4" r="2.2"/><circle cx="140.3" cy="246.2" r="2.2"/><circle cx="140.5" cy="246.6" r="2.2"/><circle cx="141" cy="246.4" r="2.2"/><circle cx="141.3" cy="246.5" r="2.2"/><circle cx="141.7" cy="246.7" r="2.2"/><circle cx="142.3" cy="246.6" r="2.2"/><circle cx="142.5" cy="246.7" r="2.2"/><circle cx="143" cy="246.8" r="2.2"/><circle cx="143.2" cy="247.2" r="2.2"/><circle cx="143.8" cy="247.3" r="2.2"/><circle cx="144.2" cy="247" r="2.2"/><circle cx="144.5" cy="247.4" r="2.2"/><circle cx="144.9" cy="247.2" r="2.2"/><circle cx="145.6" cy="247.3" r="2.2"/><circle cx="145.7" cy="247.5" r="2.2"/><circle cx="146.1" cy="247.4" r="2.2"/><circle cx="146.5" cy="247.9" r="2.2"/><circle cx="147.1" cy="247.5" r="2.2"/><circle cx="147.6" cy="247.2" r="2.2"/><circle cx="147.8" cy="247.8" r="2.2"/><circle cx="148.1" cy="247.5" r="2.2"/><circle cx="148.6" cy="247.5" r="2.2"/><circle cx="149.1" cy="247" r="2.2"/><circle cx="149.3" cy="247.8" r="2.2"/><circle cx="149.9" cy="247.8" r="2.2"/><circle cx="150.3" cy="247.8" r="2.2"/><circle cx="150.6" cy="247.8" r="2.2"/><circle cx="151.1" cy="247.9" r="2.2"/><circle cx="151.5" cy="247.6" r="2.2"/><circle cx="152" cy="247.8" r="2.2"/><circle cx="152.1" cy="247.4" r="2.2"/><circle cx="152.7" cy="247.5" r="2.2"/><circle cx="153" cy="247.7" r="2.2"/><circle cx="153.3" cy="247.6" r="2.2"/><circle cx="153.8" cy="247.2" r="2.2"/><circle cx="154.2" cy="247.5" r="2.2"/><circle cx="154.5" cy="247.4" r="2.2"/><circle cx="154.8" cy="247.2" r="2.2"/><circle cx="155.3" cy="247.4" r="2.2"/><circle cx="155.9" cy="247.2" r="2.2"/><circle cx="156.4" cy="246.9" r="2.2"/><circle cx="156.7" cy="247" r="2.2"/><circle cx="157.1" cy="247.5" r="2.2"/><circle cx="157.3" cy="246.8" r="2.2"/><circle cx="157.8" cy="247.1" r="2.2"/><circle cx="158.2" cy="247.1" r="2.2"/><circle cx="158.5" cy="247.1" r="2.2"/><circle cx="158.9" cy="246.6" r="2.2"/><circle cx="159.4" cy="246.7" r="2.2"/><circle cx="159.8" cy="246.8" r="2.2"/><circle cx="160.1" cy="246.8" r="2.2"/><circle cx="160.6" cy="246.5" r="2.2"/><circle cx="161" cy="246.3" r="2.2"/><circle cx="161.5" cy="246.6" r="2.2"/><circle cx="161.8" cy="246.5" r="2.2"/><circle cx="162.2" cy="246.2" r="2.2"/><circle cx="162.6" cy="245.7" r="2.2"/><circle cx="163" cy="245.6" r="2.2"/><circle cx="163.3" cy="245.2" r="2.2"/><circle cx="163.8" cy="245" r="2.2"/><circle cx="164.3" cy="244.2" r="2.2"/><circle cx="164.7" cy="244.1" r="2.2"/><circle cx="165.1" cy="243.6" r="2.2"/><circle cx="165.2" cy="242.9" r="2.2"/><circle cx="165.8" cy="242.7" r="2.2"/><circle cx="166.2" cy="242.1" r="2.2"/><circle cx="166.6" cy="241.4" r="2.2"/><circle cx="167" cy="240.8" r="2.2"/><circle cx="167.3" cy="239.6" r="2.2"/><circle cx="167.9" cy="239" r="2.2"/><circle cx="168.2" cy="238.1" r="2.2"/><circle cx="168.5" cy="237" r="2.2"/><circle cx="169.1" cy="235.9" r="2.2"/><circle cx="169.5" cy="233.9" r="2.2"/><circle cx="169.7" cy="232.2" r="2.2"/><circle cx="170.3" cy="230.8" r="2.2"/><circle cx="170.5" cy="228.9" r="2.2"/><circle cx="171.1" cy="227.2" r="2.2"/><circle cx="171.4" cy="224.7" r="2.2"/><circle cx="171.7" cy="222" r="2.2"/><circle cx="172.2" cy="219.5" r="2.2"/><circle cx="172.5" cy="215.8" r="2.2"/><circle cx="173" cy="212.5" r="2.2"/><circle cx="173.4" cy="210.9" r="2.2"/><circle cx="173.8" cy="208.2" r="2.2"/><circle cx="174.1" cy="206.2" r="2.2"/><circle cx="174.2" cy="204.4" r="2.2"/><circle cx="175" cy="203.4" r="2.2"/><circle cx="175.2" cy="202" r="2.2"/><circle cx="175.8" cy="201.3" r="2.2"/><circle cx="176.3" cy="199.9" r="2.2"/><circle cx="176.6" cy="199.1" r="2.2"/><circle cx="177" cy="199.1" r="2.2"/><circle cx="177.4" cy="198.7" r="2.2"/><circle cx="177.8" cy="198.4" r="2.2"/><circle cx="178.1" cy="198.4" r="2.2"/><circle cx="178.5" cy="198.6" r="2.2"/><circle cx="178.9" cy="198.6" r="2.2"/><circle cx="179.5" cy="199.4" r="2.2"/><circle cx="179.8" cy="199.6" r="2.2"/><circle cx="180.3" cy="199.9" r="2.2"/><circle cx="180.6" cy="200.3" r="2.2"/><circle cx="181" cy="200.9" r="2.2"/><circle cx="181.4" cy="201.5" r="2.2"/><circle cx="181.8" cy="202.3" r="2.2"/><circle cx="182.3" cy="202.8" r="2.2"/><circle cx="182.6" cy="204.1" r="2.2"/><circle cx="182.9" cy="205.3" r="2.2"/><circle cx="183.3" cy="205.6" r="2.2"/><circle cx="184" cy="206.5" r="2.2"/><circle cx="184.2" cy="207.3" r="2.2"/><circle cx="184.6" cy="207.7" r="2.2"/><circle cx="185.1" cy="208.1" r="2.2"/><circle cx="185.5" cy="208.1" r="2.2"/><circle cx="185.9" cy="209" r="2.2"/><circle cx="186.2" cy="209" r="2.2"/><circle cx="186.8" cy="209.4" r="2.2"/><circle cx="187" cy="210" r="2.2"/><circle cx="187.5" cy="210" r="2.2"/><circle cx="187.8" cy="210.3" r="2.2"/><circle cx="188.1" cy="210.8" r="2.2"/><circle cx="188.5" cy="210.2" r="2.2"/><circle cx="189" cy="210" r="2.2"/><circle cx="189.4" cy="209.3" r="2.2"/><circle cx="189.8" cy="209" r="2.2"/><circle cx="190.1" cy="208.6" r="2.2"/><circle cx="190.5" cy="208.3" r="2.2"/><circle cx="191" cy="207.8" r="2.2"/><circle cx="191.3" cy="207.6" r="2.2"/><circle cx="191.9" cy="207.5" r="2.2"/><circle cx="192.3" cy="207.2" r="2.2"/><circle cx="192.9" cy="206.9" r="2.2"/><circle cx="193.1" cy="206.7" r="2.2"/><circle cx="193.3" cy="206.9" r="2.2"/><circle cx="193.7" cy="206.6" r="2.2"/><circle cx="193.9" cy="206.7" r="2.2"/><circle cx="194.5" cy="206.6" r="2.2"/><circle cx="195" cy="206.3" r="2.2"/><circle cx="195.5" cy="206.4" r="2.2"/><circle cx="195.9" cy="206" r="2.2"/><circle cx="196.3" cy="206.8" r="2.2"/><circle cx="196.6" cy="206.7" r="2.2"/><circle cx="197.1" cy="206.5" r="2.2"/><circle cx="197.5" cy="206.5" r="2.2"/><circle cx="197.7" cy="207" r="2.2"/><circle cx="198.2" cy="206.7" r="2.2"/><circle cx="198.5" cy="207" r="2.2"/><circle cx="199.2" cy="207.5" r="2.2"/><circle cx="199.5" cy="207.5" r="2.2"/><circle cx="199.9" cy="207.6" r="2.2"/><circle cx="200.1" cy="208" r="2.2"/><circle cx="200.6" cy="207.7" r="2.2"/><circle cx="201" cy="208.2" r="2.2"/><circle cx="201.4" cy="208.2" r="2.2"/><circle cx="201.8" cy="208.4" r="2.2"/><circle cx="202.3" cy="209" r="2.2"/><circle cx="202.6" cy="209.2" r="2.2"/><circle cx="203.1" cy="210.8" r="2.2"/><circle cx="203.4" cy="211.8" r="2.2"/><circle cx="203.8" cy="214" r="2.2"/><circle cx="204.2" cy="215.2" r="2.2"/><circle cx="204.6" cy="217.5" r="2.2"/><circle cx="205.1" cy="219.6" r="2.2"/><circle cx="205.4" cy="221.9" r="2.2"/><circle cx="205.8" cy="224.4" r="2.2"/><circle cx="206.2" cy="226.5" r="2.2"/><circle cx="206.5" cy="228" r="2.2"/><circle cx="207.1" cy="230.3" r="2.2"/><circle cx="207.3" cy="231.5" r="2.2"/><circle cx="207.9" cy="233.3" r="2.2"/><circle cx="208.2" cy="234.9" r="2.2"/><circle cx="208.4" cy="236.3" r="2.2"/><circle cx="208.9" cy="237.1" r="2.2"/><circle cx="209.3" cy="238.9" r="2.2"/><circle cx="209.7" cy="239.7" r="2.2"/><circle cx="210.1" cy="240.3" r="2.2"/><circle cx="210.7" cy="241" r="2.2"/><circle cx="211" cy="241.6" r="2.2"/><circle cx="211.4" cy="242.3" r="2.2"/><circle cx="211.8" cy="243.3" r="2.2"/><circle cx="212.2" cy="243.7" r="2.2"/><circle cx="212.5" cy="244" r="2.2"/><circle cx="213" cy="244.5" r="2.2"/><circle cx="213.5" cy="245.3" r="2.2"/><circle cx="213.8" cy="245.2" r="2.2"/><circle cx="214.2" cy="245.5" r="2.2"/><circle cx="214.5" cy="246.2" r="2.2"/><circle cx="215" cy="246.3" r="2.2"/><circle cx="215.4" cy="246.4" r="2.2"/><circle cx="215.8" cy="246.6" r="2.2"/><circle cx="216.1" cy="246.6" r="2.2"/><circle cx="216.7" cy="246.9" r="2.2"/><circle cx="217.2" cy="247.2" r="2.2"/><circle cx="217.4" cy="247.4" r="2.2"/><circle cx="217.8" cy="247.7" r="2.2"/><circle cx="218.2" cy="247.8" r="2.2"/><circle cx="218.3" cy="247.9" r="2.2"/><circle cx="219" cy="248" r="2.2"/><circle cx="219.3" cy="247.8" r="2.2"/><circle cx="90.2" cy="249.0" r="2.2"/></g>
<circle cx="219.5" cy="248.0" r="2.9" fill="#000"/>
<polyline points="167.7,249 170.2,248.9 172.2,248.6 173.7,248.3 175.2,247.7 176.7,246.8 177.7,245.9 178.7,244.8 179.7,243.4 180.7,241.7 181.7,239.6 182.7,237.2 183.7,234.5 185.2,229.9 189.2,216.4 190.2,213.4 191.2,210.8 192.2,208.8 193.2,207.4 193.7,207 194.2,206.8 194.7,206.8 195.2,207 195.7,207.4 196.2,207.9 197.2,209.5 198.2,211.8 199.7,216.1 203.7,229.6 205.2,234.2 207.2,239.4 208.2,241.5 209.2,243.2 210.2,244.6 211.2,245.8 212.2,246.7 213.7,247.6 215.2,248.3 216.7,248.6 218.7,248.9 221.2,249" stroke="#edb120" stroke-width="1.2" fill="none"/>
<polyline points="194.7,249 195.7,248.8 196.2,248.5 196.7,248.1 197.2,247.5 197.7,246.6 198.7,244 201.2,234.4 201.7,233.1 202.2,232.5 202.7,232.5 203.2,233.3 203.7,234.7 205.7,242.6 206.7,245.7 207.2,246.8 207.7,247.6 208.2,248.2 208.7,248.6 209.2,248.8 210.2,249" stroke="#77ac30" stroke-width="1.2" fill="none"/>
<polyline points="92.2,249.1 152.2,249.1" stroke="#0000ff" stroke-width="1.2" fill="none"/>
<polyline points="160.7,249 162.2,248.9 163.7,248.7 164.7,248.4 165.7,247.8 166.7,247 167.7,245.7 168.7,243.8 169.2,242.6 170.2,239.7 171.7,233.8 172.7,228.9 175.7,212.8 176.7,208.3 177.7,205.1 178.2,204 178.7,203.4 179.2,203.3 179.7,203.6 180.2,204.4 180.7,205.6 181.7,209.1 182.7,213.8 185.2,227.3 186.7,234.7 187.7,238.7 188.2,240.4 189.2,243.1 189.7,244.3 190.7,246 191.2,246.7 192.2,247.6 193.2,248.2 194.2,248.6 195.7,248.9 197.2,249" stroke="#0000ff" stroke-width="1.2" fill="none"/>
<polyline points="32,249.1 72,249.1 80,249 86,248.8 91.5,248.4 97,247.9 101.5,247.3 111,245.8 115,245.3 118.5,245 122,244.9 126,245 130.5,245.4 144,247.4 150,248.2 155.5,248.6 161,248.9 167.5,249 177,249.1 248,249.1" stroke="#ff0000" stroke-width="1.8" fill="none"/>
<line x1="122" y1="219.5" x2="122" y2="242.7" stroke="#e8903a" stroke-width="1.4"/>
<polygon points="32,306.7 47.2,305.5 52.1,305 63.7,303.6 77.8,302.4 86.1,302.1 95.5,302 109.1,302.7 112.1,302.7 115.6,302.5 123.7,301.5 127.2,301.3 129.7,301.4 132.4,301.8 141.1,303.7 143.6,304.2 151.5,305.1 156.1,305.5 160.2,305.7 162.9,305.6 167.7,304.9 170.8,304.2 172.6,303.5 173.4,303.1 174.7,302.1 175.9,300.8 176.6,299.8 177.5,298.2 179,294.6 180.1,290.8 181.3,286 184.5,268.4 185.5,264.1 186.4,261.2 186.8,260.3 187.8,258.8 189.3,257.1 190.5,256.2 191.3,255.9 192.4,255.7 193.2,255.7 194.8,256 196.1,256.5 198.5,258.1 199.8,259.1 201.9,261.8 204.4,265.6 205.6,267.6 206.4,269.6 207,271.2 209,278.3 210.2,283.8 211.8,292.8 212.7,296.9 213.3,299.1 214.4,301.9 215.6,304 217.5,306.3 218.3,306.9 218.9,307.2 217,312.7 215.1,311.8 213.1,310.2 211.1,307.8 209.6,305.6 207.9,301.9 206.7,298.5 205.4,293.1 203.2,283 201.9,278.2 200.4,273.3 199.8,271.7 198.9,270.1 195.6,265.3 194.5,264.2 192.6,262.9 193.6,262.8 194.1,262.6 193,264 192.4,265.9 191.1,271 187.6,287.6 185.7,294.3 184.9,296.8 184,298.7 182.9,301 181.8,303 180.8,304.3 179.6,305.7 177.8,307.3 176.2,308.3 174.8,309 172.6,309.8 169,310.7 164,311.3 160.7,311.5 156.5,311.4 151.1,311 142.8,310 139.8,309.5 131.7,307.7 129.2,307.3 127,307.3 123.5,307.5 115.5,308.5 112.3,308.7 108.8,308.6 95.4,308 86.3,308.1 78.1,308.4 64.2,309.4 52.8,310.8 47.7,311.4 32.4,312.5" fill="#000"/>
<circle cx="32.20" cy="309.60" r="2.91" fill="#000"/><circle cx="217.95" cy="309.98" r="2.90" fill="#000"/>
<g fill="#fff" stroke="#000" stroke-width="1.25"><circle cx="32.1" cy="309.2" r="2.2"/><circle cx="32.6" cy="309.6" r="2.2"/><circle cx="33" cy="309.7" r="2.2"/><circle cx="33.3" cy="309.6" r="2.2"/><circle cx="33.8" cy="309.3" r="2.2"/><circle cx="34.2" cy="309.7" r="2.2"/><circle cx="34.5" cy="309.3" r="2.2"/><circle cx="35" cy="309.2" r="2.2"/><circle cx="35.6" cy="309.2" r="2.2"/><circle cx="35.7" cy="309.4" r="2.2"/><circle cx="36.3" cy="309.5" r="2.2"/><circle cx="36.7" cy="309.6" r="2.2"/><circle cx="37.1" cy="309.3" r="2.2"/><circle cx="37.3" cy="309" r="2.2"/><circle cx="38" cy="309.1" r="2.2"/><circle cx="38.2" cy="309" r="2.2"/><circle cx="38.6" cy="309.1" r="2.2"/><circle cx="39" cy="308.8" r="2.2"/><circle cx="39.5" cy="309.1" r="2.2"/><circle cx="39.8" cy="309.2" r="2.2"/><circle cx="40.2" cy="309" r="2.2"/><circle cx="40.7" cy="309.1" r="2.2"/><circle cx="40.9" cy="308.8" r="2.2"/><circle cx="41.3" cy="308.7" r="2.2"/><circle cx="41.9" cy="308.8" r="2.2"/><circle cx="42.3" cy="309.1" r="2.2"/><circle cx="42.7" cy="309.1" r="2.2"/><circle cx="42.9" cy="308.7" r="2.2"/><circle cx="43.5" cy="309" r="2.2"/><circle cx="43.8" cy="308.7" r="2.2"/><circle cx="44.4" cy="309" r="2.2"/><circle cx="44.5" cy="308.8" r="2.2"/><circle cx="45" cy="308.6" r="2.2"/><circle cx="45.4" cy="308.8" r="2.2"/><circle cx="45.6" cy="308.4" r="2.2"/><circle cx="46.1" cy="308.4" r="2.2"/><circle cx="46.7" cy="308.2" r="2.2"/><circle cx="47" cy="308.5" r="2.2"/><circle cx="47.3" cy="308.4" r="2.2"/><circle cx="47.9" cy="308.4" r="2.2"/><circle cx="48.3" cy="308.3" r="2.2"/><circle cx="48.7" cy="308.6" r="2.2"/><circle cx="48.9" cy="308.2" r="2.2"/><circle cx="49.4" cy="308.1" r="2.2"/><circle cx="49.9" cy="308.5" r="2.2"/><circle cx="50.1" cy="308.5" r="2.2"/><circle cx="50.5" cy="308.2" r="2.2"/><circle cx="51.1" cy="307.8" r="2.2"/><circle cx="51.6" cy="307.9" r="2.2"/><circle cx="51.7" cy="308.1" r="2.2"/><circle cx="51.9" cy="308" r="2.2"/><circle cx="52.5" cy="308.2" r="2.2"/><circle cx="52.9" cy="307.6" r="2.2"/><circle cx="53.4" cy="308" r="2.2"/><circle cx="53.9" cy="307.6" r="2.2"/><circle cx="54.2" cy="308" r="2.2"/><circle cx="54.5" cy="307.7" r="2.2"/><circle cx="55" cy="307.8" r="2.2"/><circle cx="55.3" cy="307.4" r="2.2"/><circle cx="55.8" cy="307.2" r="2.2"/><circle cx="56.1" cy="307.2" r="2.2"/><circle cx="56.9" cy="307.3" r="2.2"/><circle cx="57.1" cy="307.1" r="2.2"/><circle cx="57.3" cy="307.5" r="2.2"/><circle cx="57.7" cy="307.5" r="2.2"/><circle cx="58.2" cy="307.2" r="2.2"/><circle cx="58.4" cy="306.9" r="2.2"/><circle cx="58.9" cy="307.1" r="2.2"/><circle cx="59.3" cy="306.9" r="2.2"/><circle cx="59.9" cy="307.3" r="2.2"/><circle cx="60.2" cy="307" r="2.2"/><circle cx="60.5" cy="307" r="2.2"/><circle cx="60.9" cy="306.7" r="2.2"/><circle cx="61.3" cy="306.4" r="2.2"/><circle cx="61.8" cy="306.6" r="2.2"/><circle cx="62.2" cy="306.5" r="2.2"/><circle cx="62.7" cy="306.7" r="2.2"/><circle cx="62.9" cy="306.6" r="2.2"/><circle cx="63.5" cy="306.4" r="2.2"/><circle cx="63.8" cy="306.4" r="2.2"/><circle cx="64.2" cy="306.8" r="2.2"/><circle cx="64.4" cy="306.2" r="2.2"/><circle cx="64.9" cy="306.2" r="2.2"/><circle cx="65.5" cy="306.3" r="2.2"/><circle cx="65.9" cy="306.2" r="2.2"/><circle cx="66.2" cy="306.2" r="2.2"/><circle cx="66.7" cy="306.4" r="2.2"/><circle cx="67" cy="306.6" r="2.2"/><circle cx="67.4" cy="305.8" r="2.2"/><circle cx="67.7" cy="306.2" r="2.2"/><circle cx="68.3" cy="306.1" r="2.2"/><circle cx="68.6" cy="306.1" r="2.2"/><circle cx="69" cy="306" r="2.2"/><circle cx="69.4" cy="306" r="2.2"/><circle cx="69.9" cy="306.2" r="2.2"/><circle cx="70.2" cy="305.9" r="2.2"/><circle cx="70.5" cy="305.9" r="2.2"/><circle cx="71.2" cy="305.9" r="2.2"/><circle cx="71.4" cy="305.9" r="2.2"/><circle cx="71.8" cy="305.8" r="2.2"/><circle cx="72.3" cy="306" r="2.2"/><circle cx="72.7" cy="305.8" r="2.2"/><circle cx="73" cy="305.8" r="2.2"/><circle cx="73.5" cy="305.7" r="2.2"/><circle cx="73.7" cy="305.5" r="2.2"/><circle cx="74.1" cy="305.5" r="2.2"/><circle cx="74.4" cy="305.4" r="2.2"/><circle cx="75.1" cy="305.6" r="2.2"/><circle cx="75.2" cy="305.4" r="2.2"/><circle cx="75.9" cy="305.3" r="2.2"/><circle cx="76.1" cy="305.5" r="2.2"/><circle cx="76.5" cy="305.6" r="2.2"/><circle cx="77" cy="305.1" r="2.2"/><circle cx="77.4" cy="305.8" r="2.2"/><circle cx="77.9" cy="305.4" r="2.2"/><circle cx="78.4" cy="305.4" r="2.2"/><circle cx="78.6" cy="305.6" r="2.2"/><circle cx="79.1" cy="305.4" r="2.2"/><circle cx="79.3" cy="305.2" r="2.2"/><circle cx="79.9" cy="305.7" r="2.2"/><circle cx="80.2" cy="305.1" r="2.2"/><circle cx="80.6" cy="305.2" r="2.2"/><circle cx="81" cy="305.4" r="2.2"/><circle cx="81.4" cy="305" r="2.2"/><circle cx="81.8" cy="305.2" r="2.2"/><circle cx="82.2" cy="305.3" r="2.2"/><circle cx="82.5" cy="305.7" r="2.2"/><circle cx="82.9" cy="305" r="2.2"/><circle cx="83.5" cy="305.2" r="2.2"/><circle cx="83.6" cy="305.3" r="2.2"/><circle cx="84.1" cy="305.2" r="2.2"/><circle cx="84.8" cy="304.9" r="2.2"/><circle cx="84.7" cy="305.2" r="2.2"/><circle cx="85.3" cy="305.2" r="2.2"/><circle cx="85.9" cy="305.2" r="2.2"/><circle cx="86" cy="305.3" r="2.2"/><circle cx="86.9" cy="305.3" r="2.2"/><circle cx="86.7" cy="305.2" r="2.2"/><circle cx="87.5" cy="305.2" r="2.2"/><circle cx="88" cy="304.9" r="2.2"/><circle cx="88.3" cy="305" r="2.2"/><circle cx="88.6" cy="305.1" r="2.2"/><circle cx="89" cy="305" r="2.2"/><circle cx="89.3" cy="305.1" r="2.2"/><circle cx="89.9" cy="304.9" r="2.2"/><circle cx="90.1" cy="305.3" r="2.2"/><circle cx="90.6" cy="305.5" r="2.2"/><circle cx="91.1" cy="304.9" r="2.2"/><circle cx="91.3" cy="305.1" r="2.2"/><circle cx="91.8" cy="305" r="2.2"/><circle cx="92.2" cy="305.3" r="2.2"/><circle cx="92.5" cy="305.1" r="2.2"/><circle cx="93.1" cy="305" r="2.2"/><circle cx="93.4" cy="305" r="2.2"/><circle cx="93.6" cy="305" r="2.2"/><circle cx="94.2" cy="304.8" r="2.2"/><circle cx="94.5" cy="305.1" r="2.2"/><circle cx="94.9" cy="304.9" r="2.2"/><circle cx="95.4" cy="305.1" r="2.2"/><circle cx="95.7" cy="305" r="2.2"/><circle cx="96.3" cy="305.2" r="2.2"/><circle cx="96.5" cy="305" r="2.2"/><circle cx="97.1" cy="305.2" r="2.2"/><circle cx="97.4" cy="304.9" r="2.2"/><circle cx="97.9" cy="305.2" r="2.2"/><circle cx="98.1" cy="305" r="2.2"/><circle cx="98.5" cy="305.1" r="2.2"/><circle cx="98.9" cy="305.1" r="2.2"/><circle cx="99.5" cy="305.3" r="2.2"/><circle cx="99.9" cy="304.8" r="2.2"/><circle cx="100.4" cy="305.2" r="2.2"/><circle cx="100.7" cy="304.9" r="2.2"/><circle cx="101" cy="305.5" r="2.2"/><circle cx="101.4" cy="304.8" r="2.2"/><circle cx="101.8" cy="305.1" r="2.2"/><circle cx="102.2" cy="304.9" r="2.2"/><circle cx="102.7" cy="305.6" r="2.2"/><circle cx="103.1" cy="305.1" r="2.2"/><circle cx="103.3" cy="305.4" r="2.2"/><circle cx="103.7" cy="305.2" r="2.2"/><circle cx="104.3" cy="305" r="2.2"/><circle cx="104.6" cy="305.3" r="2.2"/><circle cx="105" cy="305.6" r="2.2"/><circle cx="105.5" cy="305.4" r="2.2"/><circle cx="105.8" cy="305.7" r="2.2"/><circle cx="106.2" cy="305.4" r="2.2"/><circle cx="106.6" cy="305.5" r="2.2"/><circle cx="106.8" cy="305.5" r="2.2"/><circle cx="107.5" cy="305.6" r="2.2"/><circle cx="107.7" cy="306" r="2.2"/><circle cx="108.1" cy="305.7" r="2.2"/><circle cx="108.5" cy="305.7" r="2.2"/><circle cx="109.1" cy="305.5" r="2.2"/><circle cx="109.4" cy="305.5" r="2.2"/><circle cx="109.8" cy="306" r="2.2"/><circle cx="110" cy="305.5" r="2.2"/><circle cx="110.6" cy="305.5" r="2.2"/><circle cx="110.9" cy="305.7" r="2.2"/><circle cx="111.4" cy="305.6" r="2.2"/><circle cx="111.8" cy="306.1" r="2.2"/><circle cx="112.2" cy="305.2" r="2.2"/><circle cx="112.8" cy="305.8" r="2.2"/><circle cx="113.1" cy="305.8" r="2.2"/><circle cx="113.5" cy="305.4" r="2.2"/><circle cx="113.8" cy="305.5" r="2.2"/><circle cx="114.2" cy="305.7" r="2.2"/><circle cx="114.7" cy="305.9" r="2.2"/><circle cx="115.1" cy="305.3" r="2.2"/><circle cx="115.3" cy="305.2" r="2.2"/><circle cx="115.9" cy="305.6" r="2.2"/><circle cx="116.3" cy="305.7" r="2.2"/><circle cx="116.7" cy="305.3" r="2.2"/><circle cx="117" cy="304.9" r="2.2"/><circle cx="117.3" cy="305.6" r="2.2"/><circle cx="117.7" cy="305.2" r="2.2"/><circle cx="118.4" cy="305.4" r="2.2"/><circle cx="118.6" cy="305.1" r="2.2"/><circle cx="118.9" cy="305" r="2.2"/><circle cx="119.4" cy="304.9" r="2.2"/><circle cx="119.8" cy="305.3" r="2.2"/><circle cx="120" cy="305.2" r="2.2"/><circle cx="120.4" cy="304.4" r="2.2"/><circle cx="120.8" cy="304.6" r="2.2"/><circle cx="121.4" cy="305.1" r="2.2"/><circle cx="121.8" cy="304.6" r="2.2"/><circle cx="122.2" cy="304.4" r="2.2"/><circle cx="122.6" cy="304.6" r="2.2"/><circle cx="123.1" cy="304.6" r="2.2"/><circle cx="123.2" cy="304.5" r="2.2"/><circle cx="123.8" cy="304.4" r="2.2"/><circle cx="124.1" cy="304.4" r="2.2"/><circle cx="124.5" cy="304.3" r="2.2"/><circle cx="124.9" cy="304.5" r="2.2"/><circle cx="125.4" cy="304.2" r="2.2"/><circle cx="125.8" cy="304.3" r="2.2"/><circle cx="126.1" cy="304.3" r="2.2"/><circle cx="126.6" cy="304.6" r="2.2"/><circle cx="127.2" cy="304.4" r="2.2"/><circle cx="127.3" cy="304.3" r="2.2"/><circle cx="127.6" cy="304.4" r="2.2"/><circle cx="128.2" cy="304.4" r="2.2"/><circle cx="128.7" cy="304.5" r="2.2"/><circle cx="129" cy="304.4" r="2.2"/><circle cx="129.3" cy="304.7" r="2.2"/><circle cx="129.9" cy="304.7" r="2.2"/><circle cx="130.1" cy="304.4" r="2.2"/><circle cx="130.5" cy="304.4" r="2.2"/><circle cx="130.9" cy="304.7" r="2.2"/><circle cx="131.4" cy="304.7" r="2.2"/><circle cx="131.9" cy="304.7" r="2.2"/><circle cx="132.3" cy="304.4" r="2.2"/><circle cx="132.6" cy="304.4" r="2.2"/><circle cx="133.1" cy="305" r="2.2"/><circle cx="133.4" cy="305.1" r="2.2"/><circle cx="133.9" cy="305.2" r="2.2"/><circle cx="134.1" cy="304.9" r="2.2"/><circle cx="134.4" cy="305.4" r="2.2"/><circle cx="135.1" cy="305.2" r="2.2"/><circle cx="135.3" cy="305.5" r="2.2"/><circle cx="135.8" cy="305.6" r="2.2"/><circle cx="136.2" cy="305.4" r="2.2"/><circle cx="136.6" cy="305.6" r="2.2"/><circle cx="137" cy="305.4" r="2.2"/><circle cx="137.5" cy="305.7" r="2.2"/><circle cx="137.5" cy="305.6" r="2.2"/><circle cx="138.3" cy="306.2" r="2.2"/><circle cx="138.8" cy="306.2" r="2.2"/><circle cx="139" cy="306.5" r="2.2"/><circle cx="139.4" cy="306.4" r="2.2"/><circle cx="139.9" cy="306.3" r="2.2"/><circle cx="140.4" cy="306.6" r="2.2"/><circle cx="140.5" cy="306.6" r="2.2"/><circle cx="141" cy="306.8" r="2.2"/><circle cx="141.4" cy="306.9" r="2.2"/><circle cx="141.9" cy="306.7" r="2.2"/><circle cx="142.2" cy="306.9" r="2.2"/><circle cx="142.7" cy="307" r="2.2"/><circle cx="143" cy="307" r="2.2"/><circle cx="143.4" cy="307.3" r="2.2"/><circle cx="143.7" cy="307.5" r="2.2"/><circle cx="144.1" cy="307.1" r="2.2"/><circle cx="144.6" cy="307.2" r="2.2"/><circle cx="145" cy="306.9" r="2.2"/><circle cx="145.3" cy="307.3" r="2.2"/><circle cx="146" cy="307.3" r="2.2"/><circle cx="146.2" cy="307" r="2.2"/><circle cx="146.5" cy="307.6" r="2.2"/><circle cx="147.1" cy="307.7" r="2.2"/><circle cx="147.3" cy="307.5" r="2.2"/><circle cx="147.9" cy="307.6" r="2.2"/><circle cx="148.2" cy="307.5" r="2.2"/><circle cx="148.6" cy="307.9" r="2.2"/><circle cx="149" cy="307.5" r="2.2"/><circle cx="149.3" cy="307.8" r="2.2"/><circle cx="149.8" cy="308.3" r="2.2"/><circle cx="150.4" cy="307.9" r="2.2"/><circle cx="150.4" cy="308.1" r="2.2"/><circle cx="151" cy="308" r="2.2"/><circle cx="151.4" cy="307.8" r="2.2"/><circle cx="151.7" cy="308.1" r="2.2"/><circle cx="152.1" cy="308.2" r="2.2"/><circle cx="152.8" cy="308" r="2.2"/><circle cx="153" cy="308.3" r="2.2"/><circle cx="153.6" cy="308.5" r="2.2"/><circle cx="153.9" cy="308.5" r="2.2"/><circle cx="154.2" cy="308" r="2.2"/><circle cx="154.6" cy="308.2" r="2.2"/><circle cx="155.1" cy="308.1" r="2.2"/><circle cx="155.5" cy="308.6" r="2.2"/><circle cx="155.8" cy="308.6" r="2.2"/><circle cx="156.2" cy="308.6" r="2.2"/><circle cx="156.6" cy="308.3" r="2.2"/><circle cx="157.1" cy="308.3" r="2.2"/><circle cx="157.5" cy="308.5" r="2.2"/><circle cx="157.7" cy="308.6" r="2.2"/><circle cx="158.1" cy="308.4" r="2.2"/><circle cx="158.6" cy="308.6" r="2.2"/><circle cx="158.9" cy="308.7" r="2.2"/><circle cx="159.4" cy="308.6" r="2.2"/><circle cx="159.7" cy="308.4" r="2.2"/><circle cx="160.2" cy="308.2" r="2.2"/><circle cx="160.6" cy="308.5" r="2.2"/><circle cx="161.1" cy="308.6" r="2.2"/><circle cx="161.4" cy="308.5" r="2.2"/><circle cx="162" cy="308.5" r="2.2"/><circle cx="162.2" cy="308.4" r="2.2"/><circle cx="162.9" cy="308.7" r="2.2"/><circle cx="163.1" cy="308.5" r="2.2"/><circle cx="163.4" cy="308.5" r="2.2"/><circle cx="163.8" cy="308.2" r="2.2"/><circle cx="163.9" cy="308.2" r="2.2"/><circle cx="164.6" cy="308.3" r="2.2"/><circle cx="165" cy="308.1" r="2.2"/><circle cx="165.6" cy="308" r="2.2"/><circle cx="165.7" cy="308.1" r="2.2"/><circle cx="166.4" cy="308.3" r="2.2"/><circle cx="166.6" cy="308.1" r="2.2"/><circle cx="167.1" cy="308.3" r="2.2"/><circle cx="167.1" cy="307.9" r="2.2"/><circle cx="167.8" cy="307.8" r="2.2"/><circle cx="168.2" cy="307.5" r="2.2"/><circle cx="168.7" cy="307.6" r="2.2"/><circle cx="169" cy="307.9" r="2.2"/><circle cx="169.3" cy="307.6" r="2.2"/><circle cx="169.9" cy="307.6" r="2.2"/><circle cx="170.3" cy="307.5" r="2.2"/><circle cx="170.7" cy="307.3" r="2.2"/><circle cx="171.1" cy="307.1" r="2.2"/><circle cx="171.5" cy="307.1" r="2.2"/><circle cx="171.8" cy="307.1" r="2.2"/><circle cx="172.1" cy="306.9" r="2.2"/><circle cx="172.5" cy="306.8" r="2.2"/><circle cx="173.1" cy="306.6" r="2.2"/><circle cx="173.5" cy="306.2" r="2.2"/><circle cx="173.8" cy="306.2" r="2.2"/><circle cx="174.2" cy="305.8" r="2.2"/><circle cx="174.6" cy="306" r="2.2"/><circle cx="175" cy="305.2" r="2.2"/><circle cx="175.4" cy="305.3" r="2.2"/><circle cx="175.7" cy="305.5" r="2.2"/><circle cx="176.4" cy="304.6" r="2.2"/><circle cx="176.6" cy="304.1" r="2.2"/><circle cx="176.9" cy="304" r="2.2"/><circle cx="177.3" cy="303.9" r="2.2"/><circle cx="177.7" cy="303.2" r="2.2"/><circle cx="178.3" cy="302.9" r="2.2"/><circle cx="178.7" cy="302.3" r="2.2"/><circle cx="179" cy="301.6" r="2.2"/><circle cx="179.4" cy="301.7" r="2.2"/><circle cx="179.8" cy="300.4" r="2.2"/><circle cx="180.1" cy="299.5" r="2.2"/><circle cx="180.7" cy="298.7" r="2.2"/><circle cx="181" cy="298" r="2.2"/><circle cx="181.6" cy="297.1" r="2.2"/><circle cx="181.7" cy="296.2" r="2.2"/><circle cx="182.2" cy="295" r="2.2"/><circle cx="182.7" cy="293.5" r="2.2"/><circle cx="183" cy="292.5" r="2.2"/><circle cx="183.3" cy="290.9" r="2.2"/><circle cx="183.7" cy="289.3" r="2.2"/><circle cx="184.2" cy="287.5" r="2.2"/><circle cx="184.6" cy="286" r="2.2"/><circle cx="185" cy="284.2" r="2.2"/><circle cx="185.5" cy="282.4" r="2.2"/><circle cx="185.9" cy="280" r="2.2"/><circle cx="186.2" cy="278.3" r="2.2"/><circle cx="186.6" cy="276.3" r="2.2"/><circle cx="187" cy="273.8" r="2.2"/><circle cx="187.5" cy="271.7" r="2.2"/><circle cx="187.9" cy="269.7" r="2.2"/><circle cx="188.2" cy="268.3" r="2.2"/><circle cx="188.6" cy="265.9" r="2.2"/><circle cx="189" cy="264.8" r="2.2"/><circle cx="189.3" cy="263.1" r="2.2"/><circle cx="189.7" cy="262.3" r="2.2"/><circle cx="190.3" cy="261.9" r="2.2"/><circle cx="190.6" cy="261" r="2.2"/><circle cx="191.2" cy="260.6" r="2.2"/><circle cx="191.4" cy="259.9" r="2.2"/><circle cx="191.9" cy="260.1" r="2.2"/><circle cx="192.3" cy="259.6" r="2.2"/><circle cx="192.7" cy="259.5" r="2.2"/><circle cx="192.9" cy="259" r="2.2"/><circle cx="193.4" cy="259.1" r="2.2"/><circle cx="193.8" cy="259.7" r="2.2"/><circle cx="194.1" cy="259.6" r="2.2"/><circle cx="194.6" cy="259.8" r="2.2"/><circle cx="195.1" cy="260.1" r="2.2"/><circle cx="195.4" cy="260.1" r="2.2"/><circle cx="196" cy="260.8" r="2.2"/><circle cx="196.2" cy="260.9" r="2.2"/><circle cx="196.6" cy="261.3" r="2.2"/><circle cx="197" cy="261.4" r="2.2"/><circle cx="197.3" cy="262" r="2.2"/><circle cx="197.8" cy="262.2" r="2.2"/><circle cx="198.2" cy="263.1" r="2.2"/><circle cx="198.8" cy="263.6" r="2.2"/><circle cx="199.1" cy="264.1" r="2.2"/><circle cx="199.5" cy="264.6" r="2.2"/><circle cx="199.8" cy="265.2" r="2.2"/><circle cx="200.1" cy="265.2" r="2.2"/><circle cx="200.6" cy="266.4" r="2.2"/><circle cx="200.9" cy="266.8" r="2.2"/><circle cx="201.5" cy="267.5" r="2.2"/><circle cx="201.8" cy="268" r="2.2"/><circle cx="202.4" cy="268.5" r="2.2"/><circle cx="202.7" cy="269.5" r="2.2"/><circle cx="203.1" cy="270.5" r="2.2"/><circle cx="203.4" cy="271.7" r="2.2"/><circle cx="203.8" cy="272.4" r="2.2"/><circle cx="204.3" cy="273.7" r="2.2"/><circle cx="204.7" cy="275.5" r="2.2"/><circle cx="204.9" cy="276.4" r="2.2"/><circle cx="205.4" cy="278.4" r="2.2"/><circle cx="206.1" cy="279.6" r="2.2"/><circle cx="206.2" cy="281" r="2.2"/><circle cx="206.6" cy="283.1" r="2.2"/><circle cx="206.9" cy="285.1" r="2.2"/><circle cx="207.3" cy="286.6" r="2.2"/><circle cx="207.9" cy="289.4" r="2.2"/><circle cx="208.2" cy="291.1" r="2.2"/><circle cx="208.6" cy="293.3" r="2.2"/><circle cx="209.2" cy="294.7" r="2.2"/><circle cx="209.7" cy="296.2" r="2.2"/><circle cx="209.7" cy="298.2" r="2.2"/><circle cx="210.3" cy="299.6" r="2.2"/><circle cx="210.7" cy="301" r="2.2"/><circle cx="211" cy="301.9" r="2.2"/><circle cx="211.4" cy="302.6" r="2.2"/><circle cx="211.8" cy="303.3" r="2.2"/><circle cx="212.4" cy="304" r="2.2"/><circle cx="212.7" cy="304.8" r="2.2"/><circle cx="213" cy="305.3" r="2.2"/><circle cx="213.5" cy="306" r="2.2"/><circle cx="213.9" cy="306" r="2.2"/><circle cx="214.2" cy="307.1" r="2.2"/><circle cx="214.6" cy="307.5" r="2.2"/><circle cx="215.2" cy="308.4" r="2.2"/><circle cx="215.5" cy="308.5" r="2.2"/><circle cx="215.8" cy="308.6" r="2.2"/><circle cx="216.1" cy="309.1" r="2.2"/><circle cx="216.6" cy="309.1" r="2.2"/><circle cx="32.2" cy="309.6" r="2.2"/><circle cx="229" cy="309.6" r="2.2"/></g>
<circle cx="216.8" cy="309.4" r="2.9" fill="#000"/>
<polyline points="32.2,310 170.2,310 174.7,309.9 176.2,309.7 177.2,309.5 178.2,309 179.2,308.4 180.2,307.4 180.7,306.7 181.7,304.9 182.2,303.8 183.2,301 184.2,297.4 185.7,290.6 188.7,273.8 190.2,266.4 191.2,262.9 191.7,261.7 192.2,260.9 192.7,260.6 193.2,260.7 193.7,261.3 194.2,262.4 195.2,265.6 196.7,272.7 199.2,286.8 200.7,294.4 202.2,300.4 203.2,303.3 204.2,305.5 205.2,307.1 206.2,308.2 207.2,308.9 208.2,309.4 209.7,309.7 211.2,309.9 217.7,310" stroke="#0000ff" stroke-width="1.2" fill="none"/>
<polyline points="188.7,309.9 190.2,309.8 191.2,309.6 192.7,309 193.7,308.2 194.2,307.6 195.2,306 196.2,303.6 197.2,300.6 198.2,296.9 200.2,288.6 201.2,285 201.7,283.6 202.2,282.5 202.7,281.8 203.2,281.5 203.7,281.6 204.2,282.2 204.7,283.1 205.2,284.4 206.2,287.8 209.2,299.9 210.2,303.1 211.2,305.5 212.2,307.3 212.7,307.9 213.7,308.9 214.2,309.2 215.2,309.6 216.2,309.8 217.7,309.9" stroke="#77ac30" stroke-width="1.2" fill="none"/>
<polyline points="32.2,309.5 39.2,309.1 46.2,308.5 64.7,306.3 70.2,305.7 75.7,305.3 81.2,305.2 85.7,305.3 90.7,305.8 107.2,308.1 113.7,308.9 120.2,309.4 127.2,309.8 135.2,309.9 146.2,310 232.7,310" stroke="#4dbeee" stroke-width="1.5" fill="none"/>
<polyline points="108,309.6 111,309.3 114,308.9 124.5,306.7 127,306.4 129.5,306.3 131.5,306.4 134,306.7 145,308.9 148,309.3 151,309.6" stroke="#ff0000" stroke-width="1.8" fill="none"/>
<line x1="104.2" y1="282.4" x2="104.2" y2="305" stroke="#e8903a" stroke-width="1.4"/>
<polygon points="320.5,62.8 343.2,62.6 370.4,62.2 392.4,61.6 420.1,60.7 428.8,60.2 432.5,59.8 437.5,58.8 444.8,56.9 449.7,55.3 456.6,52.8 464.8,49.3 468.5,47.9 471,46.5 471.8,46.9 473.1,47.2 474,47.2 474.5,46.8 474.8,45.5 477.2,23.4 478,17.6 478.2,16.4 478.8,15.5 479,15.4 479.2,15.8 479.8,17.8 481.8,37.5 483,47.2 483.5,50 484.2,53.2 484.8,54.9 485.5,56.6 486.6,57.2 487.7,57.5 488.7,57.6 489.5,57.3 490,57.4 491.8,58.5 495,59.5 498,60 502.1,60.6 506.7,60.9 513.6,61.2 537.5,61.8 537.5,68.2 512.4,67.6 504.8,67.2 500.4,66.8 495.2,66.1 491.8,65.3 488.6,64.1 487.3,63.3 486,62.4 485.5,61.7 485.3,60.4 485.5,56.6 484.8,54.9 484,52.2 483.2,48.7 482.8,45.5 481.8,37.5 479.8,17.8 479.2,15.8 479,15.4 478.8,15.5 478.2,16.4 478,17.6 477.2,23.4 474.8,45.5 474.5,46.8 474.5,47.4 474.9,48.3 475.2,50 475,51.4 473.2,52.7 471,53.7 467.2,55.2 458.2,59 450.3,61.9 444.3,63.7 435.3,65.8 431.1,66.4 423.9,66.9 410.6,67.5 372.6,68.6 344.8,69 320.5,69.2" fill="#000"/>
<circle cx="320.50" cy="66.00" r="3.20" fill="#000"/><circle cx="537.50" cy="65.00" r="3.20" fill="#000"/>
<g fill="#fff" stroke="#000" stroke-width="1.25"><circle cx="320.5" cy="66.2" r="2.2"/><circle cx="321" cy="66" r="2.2"/><circle cx="321.5" cy="66.2" r="2.2"/><circle cx="322" cy="66" r="2.2"/><circle cx="322.5" cy="66.1" r="2.2"/><circle cx="323" cy="66.2" r="2.2"/><circle cx="323.5" cy="66" r="2.2"/><circle cx="324" cy="66.2" r="2.2"/><circle cx="324.5" cy="65.8" r="2.2"/><circle cx="325" cy="66.1" r="2.2"/><circle cx="325.5" cy="66" r="2.2"/><circle cx="326" cy="66" r="2.2"/><circle cx="326.5" cy="66" r="2.2"/><circle cx="327" cy="66" r="2.2"/><circle cx="327.5" cy="66.2" r="2.2"/><circle cx="328" cy="65.7" r="2.2"/><circle cx="328.5" cy="66" r="2.2"/><circle cx="329" cy="65.9" r="2.2"/><circle cx="329.5" cy="66.1" r="2.2"/><circle cx="330" cy="65.9" r="2.2"/><circle cx="330.5" cy="66" r="2.2"/><circle cx="331" cy="65.9" r="2.2"/><circle cx="331.5" cy="66" r="2.2"/><circle cx="332" cy="66.1" r="2.2"/><circle cx="332.5" cy="65.9" r="2.2"/><circle cx="333" cy="65.9" r="2.2"/><circle cx="333.5" cy="65.8" r="2.2"/><circle cx="334" cy="66" r="2.2"/><circle cx="334.5" cy="66" r="2.2"/><circle cx="335" cy="65.8" r="2.2"/><circle cx="335.5" cy="66" r="2.2"/><circle cx="336" cy="65.7" r="2.2"/><circle cx="336.5" cy="65.7" r="2.2"/><circle cx="337" cy="65.7" r="2.2"/><circle cx="337.5" cy="65.8" r="2.2"/><circle cx="338" cy="65.9" r="2.2"/><circle cx="338.5" cy="65.9" r="2.2"/><circle cx="339" cy="65.9" r="2.2"/><circle cx="339.5" cy="66" r="2.2"/><circle cx="340" cy="65.8" r="2.2"/><circle cx="340.5" cy="65.7" r="2.2"/><circle cx="341" cy="65.7" r="2.2"/><circle cx="341.5" cy="66.1" r="2.2"/><circle cx="342" cy="65.6" r="2.2"/><circle cx="342.5" cy="65.8" r="2.2"/><circle cx="343" cy="66" r="2.2"/><circle cx="343.5" cy="65.9" r="2.2"/><circle cx="344" cy="65.7" r="2.2"/><circle cx="344.5" cy="65.8" r="2.2"/><circle cx="345" cy="65.9" r="2.2"/><circle cx="345.5" cy="65.9" r="2.2"/><circle cx="346" cy="65.7" r="2.2"/><circle cx="346.5" cy="65.9" r="2.2"/><circle cx="347" cy="65.8" r="2.2"/><circle cx="347.5" cy="65.9" r="2.2"/><circle cx="348" cy="65.9" r="2.2"/><circle cx="348.5" cy="65.7" r="2.2"/><circle cx="349" cy="65.6" r="2.2"/><circle cx="349.5" cy="65.8" r="2.2"/><circle cx="350" cy="66" r="2.2"/><circle cx="350.5" cy="65.8" r="2.2"/><circle cx="351" cy="65.8" r="2.2"/><circle cx="351.5" cy="66" r="2.2"/><circle cx="352" cy="65.6" r="2.2"/><circle cx="352.5" cy="65.8" r="2.2"/><circle cx="353" cy="65.6" r="2.2"/><circle cx="353.5" cy="65.7" r="2.2"/><circle cx="354" cy="65.7" r="2.2"/><circle cx="354.5" cy="65.9" r="2.2"/><circle cx="355" cy="65.6" r="2.2"/><circle cx="355.5" cy="65.6" r="2.2"/><circle cx="356" cy="65.5" r="2.2"/><circle cx="356.5" cy="65.7" r="2.2"/><circle cx="357" cy="65.6" r="2.2"/><circle cx="357.5" cy="65.7" r="2.2"/><circle cx="358" cy="65.5" r="2.2"/><circle cx="358.5" cy="65.6" r="2.2"/><circle cx="359" cy="65.7" r="2.2"/><circle cx="359.5" cy="65.6" r="2.2"/><circle cx="360" cy="65.7" r="2.2"/><circle cx="360.5" cy="65.7" r="2.2"/><circle cx="361" cy="65.5" r="2.2"/><circle cx="361.5" cy="65.4" r="2.2"/><circle cx="362" cy="65.7" r="2.2"/><circle cx="362.5" cy="65.6" r="2.2"/><circle cx="363" cy="65.7" r="2.2"/><circle cx="363.5" cy="65.3" r="2.2"/><circle cx="364" cy="65.3" r="2.2"/><circle cx="364.5" cy="65.3" r="2.2"/><circle cx="365" cy="65.4" r="2.2"/><circle cx="365.5" cy="65.6" r="2.2"/><circle cx="366" cy="65.6" r="2.2"/><circle cx="366.5" cy="65.5" r="2.2"/><circle cx="367" cy="65.5" r="2.2"/><circle cx="367.5" cy="65.6" r="2.2"/><circle cx="368" cy="65.4" r="2.2"/><circle cx="368.5" cy="65.5" r="2.2"/><circle cx="369" cy="65.5" r="2.2"/><circle cx="369.5" cy="65.2" r="2.2"/><circle cx="370" cy="65.4" r="2.2"/><circle cx="370.5" cy="65.6" r="2.2"/><circle cx="371" cy="65.4" r="2.2"/><circle cx="371.5" cy="65.4" r="2.2"/><circle cx="372" cy="65.3" r="2.2"/><circle cx="372.5" cy="65.3" r="2.2"/><circle cx="373" cy="65.5" r="2.2"/><circle cx="373.5" cy="65.3" r="2.2"/><circle cx="374" cy="65.2" r="2.2"/><circle cx="374.5" cy="65" r="2.2"/><circle cx="375" cy="65.2" r="2.2"/><circle cx="375.5" cy="65.1" r="2.2"/><circle cx="376" cy="65.1" r="2.2"/><circle cx="376.5" cy="65.4" r="2.2"/><circle cx="377" cy="65.3" r="2.2"/><circle cx="377.5" cy="65" r="2.2"/><circle cx="378" cy="65.3" r="2.2"/><circle cx="378.5" cy="65.3" r="2.2"/><circle cx="379" cy="65.1" r="2.2"/><circle cx="379.5" cy="65.3" r="2.2"/><circle cx="380" cy="65" r="2.2"/><circle cx="380.5" cy="65" r="2.2"/><circle cx="381" cy="65" r="2.2"/><circle cx="381.5" cy="65" r="2.2"/><circle cx="382" cy="65.2" r="2.2"/><circle cx="382.5" cy="65" r="2.2"/><circle cx="383" cy="65" r="2.2"/><circle cx="383.5" cy="65" r="2.2"/><circle cx="384" cy="65.1" r="2.2"/><circle cx="384.5" cy="65" r="2.2"/><circle cx="385" cy="65.2" r="2.2"/><circle cx="385.5" cy="65" r="2.2"/><circle cx="386" cy="64.9" r="2.2"/><circle cx="386.5" cy="65" r="2.2"/><circle cx="387" cy="65" r="2.2"/><circle cx="387.5" cy="64.9" r="2.2"/><circle cx="388" cy="65" r="2.2"/><circle cx="388.5" cy="65.2" r="2.2"/><circle cx="389" cy="64.9" r="2.2"/><circle cx="389.5" cy="64.9" r="2.2"/><circle cx="390" cy="65.1" r="2.2"/><circle cx="390.5" cy="64.8" r="2.2"/><circle cx="391" cy="64.8" r="2.2"/><circle cx="391.5" cy="64.7" r="2.2"/><circle cx="392" cy="64.9" r="2.2"/><circle cx="392.5" cy="64.9" r="2.2"/><circle cx="393" cy="64.8" r="2.2"/><circle cx="393.5" cy="64.8" r="2.2"/><circle cx="394" cy="64.9" r="2.2"/><circle cx="394.5" cy="64.9" r="2.2"/><circle cx="395" cy="64.6" r="2.2"/><circle cx="395.5" cy="64.7" r="2.2"/><circle cx="396" cy="64.7" r="2.2"/><circle cx="396.5" cy="64.8" r="2.2"/><circle cx="397" cy="64.7" r="2.2"/><circle cx="397.5" cy="64.6" r="2.2"/><circle cx="398" cy="64.6" r="2.2"/><circle cx="398.5" cy="64.4" r="2.2"/><circle cx="399" cy="64.6" r="2.2"/><circle cx="399.5" cy="64.5" r="2.2"/><circle cx="400" cy="64.7" r="2.2"/><circle cx="400.5" cy="64.5" r="2.2"/><circle cx="401" cy="64.5" r="2.2"/><circle cx="401.5" cy="64.4" r="2.2"/><circle cx="402" cy="64.4" r="2.2"/><circle cx="402.5" cy="64.6" r="2.2"/><circle cx="403" cy="64.4" r="2.2"/><circle cx="403.5" cy="64.5" r="2.2"/><circle cx="404" cy="64.3" r="2.2"/><circle cx="404.5" cy="64.5" r="2.2"/><circle cx="405" cy="64.2" r="2.2"/><circle cx="405.5" cy="64.4" r="2.2"/><circle cx="406" cy="64.4" r="2.2"/><circle cx="406.5" cy="64.5" r="2.2"/><circle cx="407" cy="64.4" r="2.2"/><circle cx="407.5" cy="64.3" r="2.2"/><circle cx="408" cy="64.5" r="2.2"/><circle cx="408.5" cy="64.4" r="2.2"/><circle cx="409" cy="64.4" r="2.2"/><circle cx="409.5" cy="64.4" r="2.2"/><circle cx="410" cy="64.3" r="2.2"/><circle cx="410.5" cy="64.2" r="2.2"/><circle cx="411" cy="64.3" r="2.2"/><circle cx="411.5" cy="64.2" r="2.2"/><circle cx="412" cy="64.3" r="2.2"/><circle cx="412.5" cy="64.3" r="2.2"/><circle cx="413" cy="64.3" r="2.2"/><circle cx="413.5" cy="64.1" r="2.2"/><circle cx="414" cy="64" r="2.2"/><circle cx="414.5" cy="64.1" r="2.2"/><circle cx="415" cy="64.1" r="2.2"/><circle cx="415.5" cy="64.2" r="2.2"/><circle cx="416" cy="64" r="2.2"/><circle cx="416.5" cy="64" r="2.2"/><circle cx="417" cy="64.1" r="2.2"/><circle cx="417.5" cy="64" r="2.2"/><circle cx="418" cy="64" r="2.2"/><circle cx="418.5" cy="64.2" r="2.2"/><circle cx="419" cy="64.1" r="2.2"/><circle cx="419.5" cy="64" r="2.2"/><circle cx="420" cy="63.9" r="2.2"/><circle cx="420.5" cy="63.8" r="2.2"/><circle cx="421" cy="63.9" r="2.2"/><circle cx="421.5" cy="63.8" r="2.2"/><circle cx="422" cy="63.8" r="2.2"/><circle cx="422.5" cy="63.7" r="2.2"/><circle cx="423" cy="63.8" r="2.2"/><circle cx="423.5" cy="63.7" r="2.2"/><circle cx="424" cy="63.7" r="2.2"/><circle cx="424.5" cy="63.8" r="2.2"/><circle cx="425" cy="63.7" r="2.2"/><circle cx="425.5" cy="63.4" r="2.2"/><circle cx="426" cy="63.5" r="2.2"/><circle cx="426.5" cy="63.4" r="2.2"/><circle cx="427" cy="63.4" r="2.2"/><circle cx="427.5" cy="63.5" r="2.2"/><circle cx="428" cy="63.5" r="2.2"/><circle cx="428.5" cy="63.3" r="2.2"/><circle cx="429" cy="63.4" r="2.2"/><circle cx="429.5" cy="63.2" r="2.2"/><circle cx="430" cy="63.1" r="2.2"/><circle cx="430.5" cy="63.1" r="2.2"/><circle cx="431" cy="63.1" r="2.2"/><circle cx="431.5" cy="63.3" r="2.2"/><circle cx="432" cy="62.9" r="2.2"/><circle cx="432.5" cy="63.2" r="2.2"/><circle cx="433" cy="63.1" r="2.2"/><circle cx="433.5" cy="62.8" r="2.2"/><circle cx="434" cy="62.8" r="2.2"/><circle cx="434.5" cy="62.6" r="2.2"/><circle cx="435" cy="62.6" r="2.2"/><circle cx="435.5" cy="62.6" r="2.2"/><circle cx="436" cy="62.4" r="2.2"/><circle cx="436.5" cy="62.4" r="2.2"/><circle cx="437" cy="62.3" r="2.2"/><circle cx="437.5" cy="62.1" r="2.2"/><circle cx="438" cy="62" r="2.2"/><circle cx="438.5" cy="61.8" r="2.2"/><circle cx="439" cy="61.7" r="2.2"/><circle cx="439.5" cy="61.5" r="2.2"/><circle cx="440" cy="61.5" r="2.2"/><circle cx="440.5" cy="61.4" r="2.2"/><circle cx="441" cy="61.1" r="2.2"/><circle cx="441.5" cy="61.3" r="2.2"/><circle cx="442" cy="60.9" r="2.2"/><circle cx="442.5" cy="60.7" r="2.2"/><circle cx="443" cy="60.8" r="2.2"/><circle cx="443.5" cy="60.4" r="2.2"/><circle cx="444" cy="60.4" r="2.2"/><circle cx="444.5" cy="60.1" r="2.2"/><circle cx="445" cy="60.1" r="2.2"/><circle cx="445.5" cy="60" r="2.2"/><circle cx="446" cy="59.9" r="2.2"/><circle cx="446.5" cy="59.9" r="2.2"/><circle cx="447" cy="59.7" r="2.2"/><circle cx="447.5" cy="59.6" r="2.2"/><circle cx="448" cy="59.3" r="2.2"/><circle cx="448.5" cy="59" r="2.2"/><circle cx="449" cy="59.1" r="2.2"/><circle cx="449.5" cy="58.7" r="2.2"/><circle cx="450" cy="58.5" r="2.2"/><circle cx="450.5" cy="58.6" r="2.2"/><circle cx="451" cy="58.3" r="2.2"/><circle cx="451.5" cy="58.1" r="2.2"/><circle cx="452" cy="58" r="2.2"/><circle cx="452.5" cy="57.8" r="2.2"/><circle cx="453" cy="57.3" r="2.2"/><circle cx="453.5" cy="57.3" r="2.2"/><circle cx="454" cy="57" r="2.2"/><circle cx="454.5" cy="57" r="2.2"/><circle cx="455" cy="56.7" r="2.2"/><circle cx="455.5" cy="56.8" r="2.2"/><circle cx="456" cy="56.5" r="2.2"/><circle cx="456.5" cy="56.1" r="2.2"/><circle cx="457" cy="56" r="2.2"/><circle cx="457.5" cy="55.7" r="2.2"/><circle cx="458" cy="55.6" r="2.2"/><circle cx="458.5" cy="55.5" r="2.2"/><circle cx="459" cy="55.2" r="2.2"/><circle cx="459.5" cy="54.8" r="2.2"/><circle cx="460" cy="54.8" r="2.2"/><circle cx="460.5" cy="54.6" r="2.2"/><circle cx="461" cy="54.4" r="2.2"/><circle cx="461.5" cy="54.3" r="2.2"/><circle cx="462" cy="53.8" r="2.2"/><circle cx="462.5" cy="53.8" r="2.2"/><circle cx="463" cy="53.4" r="2.2"/><circle cx="463.5" cy="53.3" r="2.2"/><circle cx="464" cy="53.1" r="2.2"/><circle cx="464.5" cy="52.9" r="2.2"/><circle cx="465" cy="52.6" r="2.2"/><circle cx="465.5" cy="52.5" r="2.2"/><circle cx="466" cy="52.1" r="2.2"/><circle cx="466.5" cy="51.9" r="2.2"/><circle cx="467" cy="51.9" r="2.2"/><circle cx="467.5" cy="51.7" r="2.2"/><circle cx="468" cy="51.3" r="2.2"/><circle cx="468.5" cy="51.2" r="2.2"/><circle cx="469" cy="51.1" r="2.2"/><circle cx="469.5" cy="51.1" r="2.2"/><circle cx="470" cy="50.8" r="2.2"/><circle cx="470.5" cy="50.6" r="2.2"/><circle cx="471" cy="50" r="2.2"/><circle cx="471.5" cy="49.9" r="2.2"/><circle cx="472" cy="49.7" r="2.2"/><circle cx="472.5" cy="49.3" r="2.2"/><circle cx="473" cy="49" r="2.2"/><circle cx="473.5" cy="48.4" r="2.2"/><circle cx="474" cy="48" r="2.2"/><circle cx="474.5" cy="47" r="2.2"/><circle cx="475" cy="43.3" r="2.2"/><circle cx="475.5" cy="38.7" r="2.2"/><circle cx="476" cy="34.6" r="2.2"/><circle cx="476.5" cy="29.9" r="2.2"/><circle cx="477" cy="25.8" r="2.2"/><circle cx="477.5" cy="21.5" r="2.2"/><circle cx="478" cy="17.5" r="2.2"/><circle cx="478.5" cy="15.9" r="2.2"/><circle cx="479" cy="15.4" r="2.2"/><circle cx="479.5" cy="16.7" r="2.2"/><circle cx="480" cy="19.8" r="2.2"/><circle cx="480.5" cy="25.2" r="2.2"/><circle cx="481" cy="30.1" r="2.2"/><circle cx="481.5" cy="35.1" r="2.2"/><circle cx="482" cy="39.9" r="2.2"/><circle cx="482.5" cy="43.7" r="2.2"/><circle cx="483" cy="47.1" r="2.2"/><circle cx="483.5" cy="50.3" r="2.2"/><circle cx="484" cy="52.1" r="2.2"/><circle cx="484.5" cy="54" r="2.2"/><circle cx="485" cy="55.5" r="2.2"/><circle cx="485.5" cy="56.4" r="2.2"/><circle cx="486" cy="57.3" r="2.2"/><circle cx="486.5" cy="58.4" r="2.2"/><circle cx="487" cy="58.9" r="2.2"/><circle cx="487.5" cy="59.4" r="2.2"/><circle cx="488" cy="59.9" r="2.2"/><circle cx="488.5" cy="60.2" r="2.2"/><circle cx="489" cy="60.5" r="2.2"/><circle cx="489.5" cy="60.9" r="2.2"/><circle cx="490" cy="61.5" r="2.2"/><circle cx="490.5" cy="61.5" r="2.2"/><circle cx="491" cy="61.7" r="2.2"/><circle cx="491.5" cy="61.6" r="2.2"/><circle cx="492" cy="61.9" r="2.2"/><circle cx="492.5" cy="62" r="2.2"/><circle cx="493" cy="62.4" r="2.2"/><circle cx="493.5" cy="62.4" r="2.2"/><circle cx="494" cy="62.5" r="2.2"/><circle cx="494.5" cy="62.6" r="2.2"/><circle cx="495" cy="62.7" r="2.2"/><circle cx="495.5" cy="62.7" r="2.2"/><circle cx="496" cy="63" r="2.2"/><circle cx="496.5" cy="62.9" r="2.2"/><circle cx="497" cy="63" r="2.2"/><circle cx="497.5" cy="63.2" r="2.2"/><circle cx="498" cy="63.2" r="2.2"/><circle cx="498.5" cy="63.4" r="2.2"/><circle cx="499" cy="63.5" r="2.2"/><circle cx="499.5" cy="63.5" r="2.2"/><circle cx="500" cy="63.6" r="2.2"/><circle cx="500.5" cy="63.6" r="2.2"/><circle cx="501" cy="63.8" r="2.2"/><circle cx="501.5" cy="63.5" r="2.2"/><circle cx="502" cy="63.8" r="2.2"/><circle cx="502.5" cy="63.7" r="2.2"/><circle cx="503" cy="63.7" r="2.2"/><circle cx="503.5" cy="63.9" r="2.2"/><circle cx="504" cy="63.9" r="2.2"/><circle cx="504.5" cy="64" r="2.2"/><circle cx="505" cy="64.1" r="2.2"/><circle cx="505.5" cy="63.7" r="2.2"/><circle cx="506" cy="64" r="2.2"/><circle cx="506.5" cy="64.3" r="2.2"/><circle cx="507" cy="64.2" r="2.2"/><circle cx="507.5" cy="64.3" r="2.2"/><circle cx="508" cy="64.2" r="2.2"/><circle cx="508.5" cy="64" r="2.2"/><circle cx="509" cy="64.1" r="2.2"/><circle cx="509.5" cy="64.3" r="2.2"/><circle cx="510" cy="64.4" r="2.2"/><circle cx="510.5" cy="64.2" r="2.2"/><circle cx="511" cy="64.3" r="2.2"/><circle cx="511.5" cy="64.3" r="2.2"/><circle cx="512" cy="64.1" r="2.2"/><circle cx="512.5" cy="64.3" r="2.2"/><circle cx="513" cy="64.6" r="2.2"/><circle cx="513.5" cy="64.7" r="2.2"/><circle cx="514" cy="64.4" r="2.2"/><circle cx="514.5" cy="64.6" r="2.2"/><circle cx="515" cy="64.4" r="2.2"/><circle cx="515.5" cy="64.4" r="2.2"/><circle cx="516" cy="64.2" r="2.2"/><circle cx="516.5" cy="64.6" r="2.2"/><circle cx="517" cy="64.5" r="2.2"/><circle cx="517.5" cy="64.8" r="2.2"/><circle cx="518" cy="64.6" r="2.2"/><circle cx="518.5" cy="64.6" r="2.2"/><circle cx="519" cy="64.3" r="2.2"/><circle cx="519.5" cy="64.8" r="2.2"/><circle cx="520" cy="64.5" r="2.2"/><circle cx="520.5" cy="64.6" r="2.2"/><circle cx="521" cy="64.4" r="2.2"/><circle cx="521.5" cy="64.7" r="2.2"/><circle cx="522" cy="64.8" r="2.2"/><circle cx="522.5" cy="64.6" r="2.2"/><circle cx="523" cy="64.7" r="2.2"/><circle cx="523.5" cy="64.7" r="2.2"/><circle cx="524" cy="64.8" r="2.2"/><circle cx="524.5" cy="64.7" r="2.2"/><circle cx="525" cy="64.9" r="2.2"/><circle cx="525.5" cy="64.7" r="2.2"/><circle cx="526" cy="64.7" r="2.2"/><circle cx="526.5" cy="64.7" r="2.2"/><circle cx="527" cy="64.5" r="2.2"/><circle cx="527.5" cy="64.7" r="2.2"/><circle cx="528" cy="64.9" r="2.2"/><circle cx="528.5" cy="64.9" r="2.2"/><circle cx="529" cy="64.7" r="2.2"/><circle cx="529.5" cy="64.9" r="2.2"/><circle cx="530" cy="64.6" r="2.2"/><circle cx="530.5" cy="64.8" r="2.2"/><circle cx="531" cy="64.9" r="2.2"/><circle cx="531.5" cy="65" r="2.2"/><circle cx="532" cy="64.8" r="2.2"/><circle cx="532.5" cy="65" r="2.2"/><circle cx="533" cy="65.1" r="2.2"/><circle cx="533.5" cy="64.9" r="2.2"/><circle cx="534" cy="65" r="2.2"/><circle cx="320.5" cy="66.0" r="2.2"/></g>
<circle cx="534.3" cy="64.9" r="2.9" fill="#000"/>
<polyline points="420.5,66.4 429.5,66.3 435,66.2 439.5,65.8 443.5,65.2 447,64.3 450.5,63.2 453.5,61.9 460,58.9 463,57.8 466,57 467.5,56.8 469,56.7 470.5,56.8 472,57 475,57.8 478,58.9 484.5,61.9 487.5,63.2 491,64.3 494.5,65.2 498.5,65.8 503.5,66.2 509.5,66.3 519.5,66.4" stroke="#ff00ff" stroke-width="1.2" fill="none"/>
<polyline points="471,66.3 472.5,66 475,64.6 476,64.4 477,64.6 479.5,66 481,66.3" stroke="#77ac30" stroke-width="1.2" fill="none"/>
<polyline points="448,66.4 471.5,66.4 472.5,66.3 473,66.1 473.5,65.6 474,64.6 474.5,62.7 475,59.6 475.5,54.9 477,36.2 477.5,32.1 478,31.1 478.5,33.4 479,38.5 480,51.4 480.5,56.9 481,61 481.5,63.6 482,65.1 482.5,65.8 483,66.2 483.5,66.3 484.5,66.4 519.5,66.4" stroke="#0000ff" stroke-width="1.2" fill="none"/>
<polyline points="320.5,66.4 390.5,66.4 403,66.3 413,66 422,65.6 430.5,65 438,64.2 452.5,62.5 459,61.9 464.5,61.5 470,61.4 476,61.5 482.5,62 488.5,62.6 504.5,64.5 514.5,65.4 525,66 537,66.3" stroke="#ff0000" stroke-width="1.8" fill="none"/>
<line x1="456.3" y1="32.5" x2="456.3" y2="55.5" stroke="#e8903a" stroke-width="1.4"/>
<polygon points="320.5,123.3 375.2,123.3 399.8,123 404,122.5 406.1,122 411.9,120 417.9,117.7 422.5,116.2 426.1,115.1 430.1,114.2 432.1,113.9 433.8,113.8 438.4,113.9 443.1,114.2 445.3,113.8 448.4,113.1 451.9,111.6 460.5,106.8 462.7,107.3 464.5,107.3 465,105.7 465.8,102.3 469.2,82.9 470.5,78.4 470,77.4 469.7,76.7 470,73.3 470.6,72.8 471.5,72.3 472.6,72.1 473.3,72 476.4,72.3 478.1,72.7 479,73.2 480.2,74 480.9,75.3 480.8,76.2 480.3,77.4 479.6,78.4 480.2,80.4 480.8,82.5 486.5,113.9 487.8,118.8 488.5,120.8 488.9,121.3 490.2,121 491.9,121.4 492.8,121.2 494.5,122.1 496,122.5 504.2,123 519.6,123.6 537.5,123.8 537.5,130.2 515.2,129.9 505.1,129.6 495.8,129 494.3,128.8 492.7,128.4 490.5,127.5 489.1,126.7 488.7,126.4 488,124.3 487.8,122.6 488.6,121.5 488.5,120.8 487.2,117.1 486.2,112.8 480.8,82.5 480.2,80.4 479.8,79 479.4,78.6 478.2,78.7 476.6,79.6 475.8,79.5 475.4,79.3 473.2,79.2 474,79 474.4,78.8 474.5,78.6 474.1,78.3 473.1,78 472.3,78.3 470.5,78.4 469.5,81.8 465.8,102.3 465,105.7 464.5,107.3 465.3,109 465.5,109.9 465.4,111.2 465,112.2 463.3,113.4 455.4,117.8 453.6,118.7 451.4,119.5 448.2,120.4 443.8,121.1 441.9,121.2 438.1,120.9 433.7,120.8 431.2,121.1 427.9,121.8 424.3,122.8 407.9,128.3 405.5,128.8 400.5,129.4 397.3,129.5 376.8,129.7 320.5,129.7" fill="#000"/>
<circle cx="320.50" cy="126.50" r="3.22" fill="#000"/><circle cx="537.50" cy="127.00" r="3.21" fill="#000"/>
<g fill="#fff" stroke="#000" stroke-width="1.25"><circle cx="320.5" cy="126.6" r="2.2"/><circle cx="321.2" cy="126.6" r="2.2"/><circle cx="322" cy="126.6" r="2.2"/><circle cx="322.8" cy="126.7" r="2.2"/><circle cx="323.5" cy="126.5" r="2.2"/><circle cx="324.2" cy="126.5" r="2.2"/><circle cx="325" cy="126.5" r="2.2"/><circle cx="325.8" cy="126.2" r="2.2"/><circle cx="326.5" cy="126.4" r="2.2"/><circle cx="327.2" cy="126.5" r="2.2"/><circle cx="328" cy="126.5" r="2.2"/><circle cx="328.8" cy="126.5" r="2.2"/><circle cx="329.5" cy="126.6" r="2.2"/><circle cx="330.2" cy="126.6" r="2.2"/><circle cx="331" cy="126.5" r="2.2"/><circle cx="331.8" cy="126.6" r="2.2"/><circle cx="332.5" cy="126.6" r="2.2"/><circle cx="333.2" cy="126.5" r="2.2"/><circle cx="334" cy="126.4" r="2.2"/><circle cx="334.8" cy="126.6" r="2.2"/><circle cx="335.5" cy="126.5" r="2.2"/><circle cx="336.2" cy="126.5" r="2.2"/><circle cx="337" cy="126.5" r="2.2"/><circle cx="337.8" cy="126.5" r="2.2"/><circle cx="338.5" cy="126.6" r="2.2"/><circle cx="339.2" cy="126.6" r="2.2"/><circle cx="340" cy="126.6" r="2.2"/><circle cx="340.8" cy="126.5" r="2.2"/><circle cx="341.5" cy="126.4" r="2.2"/><circle cx="342.2" cy="126.5" r="2.2"/><circle cx="343" cy="126.6" r="2.2"/><circle cx="343.8" cy="126.5" r="2.2"/><circle cx="344.5" cy="126.7" r="2.2"/><circle cx="345.2" cy="126.5" r="2.2"/><circle cx="346" cy="126.5" r="2.2"/><circle cx="346.8" cy="126.6" r="2.2"/><circle cx="347.5" cy="126.6" r="2.2"/><circle cx="348.2" cy="126.5" r="2.2"/><circle cx="349" cy="126.5" r="2.2"/><circle cx="349.8" cy="126.5" r="2.2"/><circle cx="350.5" cy="126.6" r="2.2"/><circle cx="351.2" cy="126.6" r="2.2"/><circle cx="352" cy="126.5" r="2.2"/><circle cx="352.8" cy="126.5" r="2.2"/><circle cx="353.5" cy="126.6" r="2.2"/><circle cx="354.2" cy="126.6" r="2.2"/><circle cx="355" cy="126.3" r="2.2"/><circle cx="355.8" cy="126.4" r="2.2"/><circle cx="356.5" cy="126.4" r="2.2"/><circle cx="357.2" cy="126.5" r="2.2"/><circle cx="358" cy="126.5" r="2.2"/><circle cx="358.8" cy="126.6" r="2.2"/><circle cx="359.5" cy="126.5" r="2.2"/><circle cx="360.2" cy="126.5" r="2.2"/><circle cx="361" cy="126.5" r="2.2"/><circle cx="361.8" cy="126.6" r="2.2"/><circle cx="362.5" cy="126.5" r="2.2"/><circle cx="363.2" cy="126.5" r="2.2"/><circle cx="364" cy="126.6" r="2.2"/><circle cx="364.8" cy="126.5" r="2.2"/><circle cx="365.5" cy="126.3" r="2.2"/><circle cx="366.2" cy="126.5" r="2.2"/><circle cx="367" cy="126.5" r="2.2"/><circle cx="367.8" cy="126.5" r="2.2"/><circle cx="368.5" cy="126.6" r="2.2"/><circle cx="369.2" cy="126.5" r="2.2"/><circle cx="370" cy="126.5" r="2.2"/><circle cx="370.8" cy="126.6" r="2.2"/><circle cx="371.5" cy="126.5" r="2.2"/><circle cx="372.2" cy="126.5" r="2.2"/><circle cx="373" cy="126.5" r="2.2"/><circle cx="373.8" cy="126.5" r="2.2"/><circle cx="374.5" cy="126.5" r="2.2"/><circle cx="375.2" cy="126.4" r="2.2"/><circle cx="376" cy="126.5" r="2.2"/><circle cx="376.8" cy="126.4" r="2.2"/><circle cx="377.5" cy="126.4" r="2.2"/><circle cx="378.2" cy="126.6" r="2.2"/><circle cx="379" cy="126.4" r="2.2"/><circle cx="379.8" cy="126.5" r="2.2"/><circle cx="380.5" cy="126.4" r="2.2"/><circle cx="381.2" cy="126.5" r="2.2"/><circle cx="382" cy="126.4" r="2.2"/><circle cx="382.8" cy="126.4" r="2.2"/><circle cx="383.5" cy="126.4" r="2.2"/><circle cx="384.2" cy="126.5" r="2.2"/><circle cx="385" cy="126.4" r="2.2"/><circle cx="385.8" cy="126.5" r="2.2"/><circle cx="386.5" cy="126.3" r="2.2"/><circle cx="387.2" cy="126.3" r="2.2"/><circle cx="388" cy="126.5" r="2.2"/><circle cx="388.8" cy="126.4" r="2.2"/><circle cx="389.5" cy="126.3" r="2.2"/><circle cx="390.2" cy="126.4" r="2.2"/><circle cx="391" cy="126.3" r="2.2"/><circle cx="391.8" cy="126.4" r="2.2"/><circle cx="392.5" cy="126.2" r="2.2"/><circle cx="393.2" cy="126.3" r="2.2"/><circle cx="394" cy="126.3" r="2.2"/><circle cx="394.8" cy="126.4" r="2.2"/><circle cx="395.5" cy="126.4" r="2.2"/><circle cx="396.2" cy="126.3" r="2.2"/><circle cx="397" cy="126.4" r="2.2"/><circle cx="397.8" cy="126.3" r="2.2"/><circle cx="398.5" cy="126.1" r="2.2"/><circle cx="399.2" cy="126.1" r="2.2"/><circle cx="400" cy="126.3" r="2.2"/><circle cx="400.8" cy="126.1" r="2.2"/><circle cx="401.5" cy="126" r="2.2"/><circle cx="402.2" cy="125.9" r="2.2"/><circle cx="403" cy="125.8" r="2.2"/><circle cx="403.8" cy="125.9" r="2.2"/><circle cx="404.5" cy="125.7" r="2.2"/><circle cx="405.2" cy="125.7" r="2.2"/><circle cx="406" cy="125.4" r="2.2"/><circle cx="406.8" cy="125" r="2.2"/><circle cx="407.5" cy="125.1" r="2.2"/><circle cx="408.2" cy="124.8" r="2.2"/><circle cx="409" cy="124.5" r="2.2"/><circle cx="409.8" cy="124.4" r="2.2"/><circle cx="410.5" cy="124" r="2.2"/><circle cx="411.2" cy="123.8" r="2.2"/><circle cx="412" cy="123.5" r="2.2"/><circle cx="412.8" cy="123.2" r="2.2"/><circle cx="413.5" cy="123" r="2.2"/><circle cx="414.2" cy="122.7" r="2.2"/><circle cx="415" cy="122.5" r="2.2"/><circle cx="415.8" cy="122.2" r="2.2"/><circle cx="416.5" cy="121.9" r="2.2"/><circle cx="417.2" cy="121.6" r="2.2"/><circle cx="418" cy="121.3" r="2.2"/><circle cx="418.8" cy="121" r="2.2"/><circle cx="419.5" cy="120.8" r="2.2"/><circle cx="420.2" cy="120.5" r="2.2"/><circle cx="421" cy="120.3" r="2.2"/><circle cx="421.8" cy="120" r="2.2"/><circle cx="422.5" cy="119.8" r="2.2"/><circle cx="423.2" cy="119.6" r="2.2"/><circle cx="424" cy="119.2" r="2.2"/><circle cx="424.8" cy="119" r="2.2"/><circle cx="425.5" cy="118.8" r="2.2"/><circle cx="426.2" cy="118.7" r="2.2"/><circle cx="427" cy="118.4" r="2.2"/><circle cx="427.8" cy="118.3" r="2.2"/><circle cx="428.5" cy="118.2" r="2.2"/><circle cx="429.2" cy="118" r="2.2"/><circle cx="430" cy="117.7" r="2.2"/><circle cx="430.8" cy="117.7" r="2.2"/><circle cx="431.5" cy="117.6" r="2.2"/><circle cx="432.2" cy="117.4" r="2.2"/><circle cx="433" cy="117.4" r="2.2"/><circle cx="433.8" cy="117.4" r="2.2"/><circle cx="434.5" cy="117.3" r="2.2"/><circle cx="435.2" cy="117.3" r="2.2"/><circle cx="436" cy="117.3" r="2.2"/><circle cx="436.8" cy="117.3" r="2.2"/><circle cx="437.5" cy="117.4" r="2.2"/><circle cx="438.2" cy="117.5" r="2.2"/><circle cx="439" cy="117.5" r="2.2"/><circle cx="439.8" cy="117.5" r="2.2"/><circle cx="440.5" cy="117.6" r="2.2"/><circle cx="441.2" cy="117.7" r="2.2"/><circle cx="442" cy="117.6" r="2.2"/><circle cx="442.8" cy="117.6" r="2.2"/><circle cx="443.5" cy="117.6" r="2.2"/><circle cx="444.2" cy="117.6" r="2.2"/><circle cx="445" cy="117.4" r="2.2"/><circle cx="445.8" cy="117.3" r="2.2"/><circle cx="446.5" cy="117.1" r="2.2"/><circle cx="447.2" cy="117.1" r="2.2"/><circle cx="448" cy="116.9" r="2.2"/><circle cx="448.8" cy="116.5" r="2.2"/><circle cx="449.5" cy="116.4" r="2.2"/><circle cx="450.2" cy="116.1" r="2.2"/><circle cx="451" cy="116" r="2.2"/><circle cx="451.8" cy="115.6" r="2.2"/><circle cx="452.5" cy="115.3" r="2.2"/><circle cx="453.2" cy="114.9" r="2.2"/><circle cx="454" cy="114.5" r="2.2"/><circle cx="454.8" cy="114.1" r="2.2"/><circle cx="455.5" cy="113.8" r="2.2"/><circle cx="456.2" cy="113.3" r="2.2"/><circle cx="457" cy="112.9" r="2.2"/><circle cx="457.8" cy="112.6" r="2.2"/><circle cx="458.5" cy="112" r="2.2"/><circle cx="459.2" cy="111.8" r="2.2"/><circle cx="460" cy="111.3" r="2.2"/><circle cx="460.8" cy="110.9" r="2.2"/><circle cx="461.5" cy="110.3" r="2.2"/><circle cx="462.2" cy="110" r="2.2"/><circle cx="463" cy="109.3" r="2.2"/><circle cx="463.8" cy="108.5" r="2.2"/><circle cx="464.5" cy="107.5" r="2.2"/><circle cx="465.2" cy="104.7" r="2.2"/><circle cx="466" cy="100.9" r="2.2"/><circle cx="466.8" cy="96.6" r="2.2"/><circle cx="467.5" cy="92.6" r="2.2"/><circle cx="468.2" cy="88.4" r="2.2"/><circle cx="469" cy="84.3" r="2.2"/><circle cx="469.8" cy="80.9" r="2.2"/><circle cx="470.5" cy="78.5" r="2.2"/><circle cx="471.2" cy="77" r="2.2"/><circle cx="472" cy="76.2" r="2.2"/><circle cx="472.8" cy="75.6" r="2.2"/><circle cx="473.5" cy="75.6" r="2.2"/><circle cx="474.2" cy="75.8" r="2.2"/><circle cx="475" cy="75.7" r="2.2"/><circle cx="475.8" cy="75.7" r="2.2"/><circle cx="476.5" cy="75.9" r="2.2"/><circle cx="477.2" cy="76.3" r="2.2"/><circle cx="478" cy="76.7" r="2.2"/><circle cx="478.8" cy="77.4" r="2.2"/><circle cx="479.5" cy="78.5" r="2.2"/><circle cx="480.2" cy="80.2" r="2.2"/><circle cx="481" cy="83.9" r="2.2"/><circle cx="481.8" cy="88" r="2.2"/><circle cx="482.5" cy="92.1" r="2.2"/><circle cx="483.2" cy="96.1" r="2.2"/><circle cx="484" cy="100.3" r="2.2"/><circle cx="484.8" cy="104.4" r="2.2"/><circle cx="485.5" cy="108.6" r="2.2"/><circle cx="486.2" cy="112.8" r="2.2"/><circle cx="487" cy="116.2" r="2.2"/><circle cx="487.8" cy="118.9" r="2.2"/><circle cx="488.5" cy="120.9" r="2.2"/><circle cx="489.2" cy="122.1" r="2.2"/><circle cx="490" cy="123" r="2.2"/><circle cx="490.8" cy="123.9" r="2.2"/><circle cx="491.5" cy="124.3" r="2.2"/><circle cx="492.2" cy="124.8" r="2.2"/><circle cx="493" cy="125.1" r="2.2"/><circle cx="493.8" cy="125.3" r="2.2"/><circle cx="494.5" cy="125.5" r="2.2"/><circle cx="495.2" cy="125.7" r="2.2"/><circle cx="496" cy="125.7" r="2.2"/><circle cx="496.8" cy="125.8" r="2.2"/><circle cx="497.5" cy="125.9" r="2.2"/><circle cx="498.2" cy="126" r="2.2"/><circle cx="499" cy="126" r="2.2"/><circle cx="499.8" cy="126" r="2.2"/><circle cx="500.5" cy="126" r="2.2"/><circle cx="501.2" cy="126" r="2.2"/><circle cx="502" cy="126.3" r="2.2"/><circle cx="502.8" cy="126" r="2.2"/><circle cx="503.5" cy="126.2" r="2.2"/><circle cx="504.2" cy="126.3" r="2.2"/><circle cx="505" cy="126.2" r="2.2"/><circle cx="505.8" cy="126.4" r="2.2"/><circle cx="506.5" cy="126.5" r="2.2"/><circle cx="507.2" cy="126.4" r="2.2"/><circle cx="508" cy="126.5" r="2.2"/><circle cx="508.8" cy="126.4" r="2.2"/><circle cx="509.5" cy="126.6" r="2.2"/><circle cx="510.2" cy="126.6" r="2.2"/><circle cx="511" cy="126.6" r="2.2"/><circle cx="511.8" cy="126.7" r="2.2"/><circle cx="512.5" cy="126.7" r="2.2"/><circle cx="513.2" cy="126.8" r="2.2"/><circle cx="514" cy="126.7" r="2.2"/><circle cx="514.8" cy="126.6" r="2.2"/><circle cx="515.5" cy="126.7" r="2.2"/><circle cx="516.2" cy="126.8" r="2.2"/><circle cx="517" cy="126.6" r="2.2"/><circle cx="517.8" cy="126.9" r="2.2"/><circle cx="518.5" cy="126.8" r="2.2"/><circle cx="519.2" cy="126.8" r="2.2"/><circle cx="520" cy="126.8" r="2.2"/><circle cx="520.8" cy="126.9" r="2.2"/><circle cx="521.5" cy="126.9" r="2.2"/><circle cx="522.2" cy="126.8" r="2.2"/><circle cx="523" cy="126.9" r="2.2"/><circle cx="523.8" cy="126.7" r="2.2"/><circle cx="524.5" cy="127" r="2.2"/><circle cx="525.2" cy="126.8" r="2.2"/><circle cx="526" cy="126.8" r="2.2"/><circle cx="526.8" cy="126.9" r="2.2"/><circle cx="527.5" cy="126.9" r="2.2"/><circle cx="528.2" cy="127" r="2.2"/><circle cx="529" cy="126.9" r="2.2"/><circle cx="529.8" cy="127" r="2.2"/><circle cx="530.5" cy="126.9" r="2.2"/><circle cx="531.2" cy="127.2" r="2.2"/><circle cx="532" cy="127" r="2.2"/><circle cx="532.8" cy="127.1" r="2.2"/><circle cx="533.5" cy="126.9" r="2.2"/><circle cx="534.2" cy="127" r="2.2"/><circle cx="320.5" cy="126.5" r="2.2"/></g>
<circle cx="534.3" cy="127.0" r="2.9" fill="#000"/>
<polyline points="433.5,127.2 438,127 441,126.7 444,126 446.5,125 448.5,123.9 451,122.1 453,120.3 458,115.3 460,113.7 461.5,112.7 462.5,112.2 463.5,111.9 464.5,111.8 465.5,111.9 466.5,112.1 467.5,112.5 469,113.4 471.5,115.4 476,119.9 478.5,122.1 481,124 483,125.1 485.5,126 488.5,126.7 491.5,127.1 496,127.2" stroke="#ff00ff" stroke-width="1.2" fill="none"/>
<polyline points="462,127.2 463,127 463.5,126.8 464,126.5 464.5,126 465,125.3 465.5,124.3 466,123 466.5,121.2 467,118.9 468,112.9 470,98.7 470.5,95.9 471,94 471.5,93 472,93.1 472.5,94.3 473,96.4 474,102.8 475.5,113.6 476.5,119.4 477,121.6 477.5,123.3 478,124.6 478.5,125.5 479,126.2 479.5,126.6 480,126.9 480.5,127.1 481.5,127.2" stroke="#0000ff" stroke-width="1.2" fill="none"/>
<polyline points="409.5,127.3 458.5,127.3" stroke="#77ac30" stroke-width="1.2" fill="none"/>
<polyline points="466.5,127.2 467.5,127.1 468.5,126.8 469.5,126.1 470,125.6 470.5,124.9 471,123.9 472,121.1 472.5,119.1 473.5,114.1 476,97.7 477,92.1 477.5,90.1 478,88.9 478.5,88.5 479,88.9 479.5,90.1 480,92.1 481,97.7 483.5,114.1 484.5,119.1 485,121.1 486,123.9 486.5,124.9 487,125.6 487.5,126.1 488.5,126.8 489.5,127.1 490.5,127.2" stroke="#77ac30" stroke-width="1.2" fill="none"/>
<polyline points="320.5,127.3 394.5,127.3 401.5,127.2 406,127 410.5,126.4 412.5,126 414.5,125.4 416.5,124.7 418.5,123.9 425,120.7 427.5,119.6 429,119.1 430.5,118.7 433,118.5 434.5,118.6 436,118.8 439,119.6 441.5,120.6 449,124 453,125.4 457,126.3 461.5,126.9 466.5,127.2 473.5,127.3 537,127.3" stroke="#ff0000" stroke-width="1.8" fill="none"/>
<line x1="444.7" y1="91.8" x2="444.7" y2="114.7" stroke="#e8903a" stroke-width="1.4"/>
<polygon points="320.5,184.6 338.4,184.4 362.9,183.7 375.5,183 386.6,182.1 392.7,181.2 399.4,179.7 401.6,179 408.2,176.4 413.9,174.8 417.1,174 419.5,173.7 424.4,173.4 442.8,173 446,172.3 454.7,169.3 456.7,168.7 459.8,168 461,167.6 460.8,167.7 460.8,168 461.2,168.4 461.7,168.6 462.8,168.5 463.7,168 464.8,168 465.8,165.4 466.5,162.1 468.2,148.8 468.8,145.8 469.5,143.1 470.7,139.7 469.8,138.4 469.2,136.9 469.8,135.6 470.1,135.2 470.5,134.9 472,134.1 473.3,133.8 474,133.7 476.5,133.9 479.1,134.4 480.6,135.2 480.9,135.9 481,137.4 480.8,139.5 480.2,140.4 480.8,142 481.5,145.4 482.5,150.8 484.5,165 486.2,176.4 486.5,177.4 487.5,179.8 488.8,180.3 490,180.4 490.9,180.3 491.6,180 493.3,181 495.2,181.9 496.8,182.4 498.5,182.7 507.4,183.3 516.9,183.7 526.8,183.9 537.5,184 537.5,190.4 516.4,190.1 506.6,189.7 497.7,189.2 495.2,188.8 492.8,188.1 490.2,186.9 487.8,185.5 487.4,185.2 487,183.3 487.1,181.9 487.5,179.8 486.5,177.4 486.2,176.4 484.5,165 482.5,150.8 481.5,145.4 480.8,142 480.2,140.4 477.5,140.2 477,140.4 476.6,140.7 476.4,141 476.9,141.2 475.3,140.9 474,140.9 474.6,140.7 473.3,141 472.2,140.1 470.8,139.7 469.8,142.3 468.8,145.8 468.2,148.8 466.5,162.1 465.8,165.4 464.8,168 465.3,169 465.2,173.1 464.7,173.7 462.6,174.6 457.5,175.9 448.5,178.9 446.3,179.5 444.3,179.9 441.9,180.1 423.9,180.5 420,180.7 417.9,181 410.3,183 403.9,185.3 401.1,186.2 394.1,187.6 387.9,188.6 376.5,189.5 363.6,190.1 338.8,190.8 320.5,191" fill="#000"/>
<circle cx="320.50" cy="187.80" r="3.21" fill="#000"/><circle cx="537.50" cy="187.20" r="3.23" fill="#000"/>
<g fill="#fff" stroke="#000" stroke-width="1.25"><circle cx="320.5" cy="187.6" r="2.2"/><circle cx="321.2" cy="187.8" r="2.2"/><circle cx="322" cy="187.7" r="2.2"/><circle cx="322.8" cy="187.9" r="2.2"/><circle cx="323.5" cy="187.7" r="2.2"/><circle cx="324.2" cy="187.6" r="2.2"/><circle cx="325" cy="187.8" r="2.2"/><circle cx="325.8" cy="187.8" r="2.2"/><circle cx="326.5" cy="187.8" r="2.2"/><circle cx="327.2" cy="187.7" r="2.2"/><circle cx="328" cy="187.8" r="2.2"/><circle cx="328.8" cy="187.6" r="2.2"/><circle cx="329.5" cy="187.7" r="2.2"/><circle cx="330.2" cy="187.7" r="2.2"/><circle cx="331" cy="187.7" r="2.2"/><circle cx="331.8" cy="187.8" r="2.2"/><circle cx="332.5" cy="187.7" r="2.2"/><circle cx="333.2" cy="187.7" r="2.2"/><circle cx="334" cy="187.7" r="2.2"/><circle cx="334.8" cy="187.5" r="2.2"/><circle cx="335.5" cy="187.6" r="2.2"/><circle cx="336.2" cy="187.6" r="2.2"/><circle cx="337" cy="187.6" r="2.2"/><circle cx="337.8" cy="187.6" r="2.2"/><circle cx="338.5" cy="187.4" r="2.2"/><circle cx="339.2" cy="187.6" r="2.2"/><circle cx="340" cy="187.6" r="2.2"/><circle cx="340.8" cy="187.5" r="2.2"/><circle cx="341.5" cy="187.4" r="2.2"/><circle cx="342.2" cy="187.5" r="2.2"/><circle cx="343" cy="187.4" r="2.2"/><circle cx="343.8" cy="187.5" r="2.2"/><circle cx="344.5" cy="187.4" r="2.2"/><circle cx="345.2" cy="187.5" r="2.2"/><circle cx="346" cy="187.4" r="2.2"/><circle cx="346.8" cy="187.5" r="2.2"/><circle cx="347.5" cy="187.2" r="2.2"/><circle cx="348.2" cy="187.3" r="2.2"/><circle cx="349" cy="187.4" r="2.2"/><circle cx="349.8" cy="187.2" r="2.2"/><circle cx="350.5" cy="187.3" r="2.2"/><circle cx="351.2" cy="187.2" r="2.2"/><circle cx="352" cy="187.3" r="2.2"/><circle cx="352.8" cy="187.1" r="2.2"/><circle cx="353.5" cy="187.2" r="2.2"/><circle cx="354.2" cy="187.2" r="2.2"/><circle cx="355" cy="187.1" r="2.2"/><circle cx="355.8" cy="187.1" r="2.2"/><circle cx="356.5" cy="187.3" r="2.2"/><circle cx="357.2" cy="187.1" r="2.2"/><circle cx="358" cy="187" r="2.2"/><circle cx="358.8" cy="187.1" r="2.2"/><circle cx="359.5" cy="187.1" r="2.2"/><circle cx="360.2" cy="187.1" r="2.2"/><circle cx="361" cy="187.1" r="2.2"/><circle cx="361.8" cy="186.9" r="2.2"/><circle cx="362.5" cy="187" r="2.2"/><circle cx="363.2" cy="187" r="2.2"/><circle cx="364" cy="186.9" r="2.2"/><circle cx="364.8" cy="186.9" r="2.2"/><circle cx="365.5" cy="186.6" r="2.2"/><circle cx="366.2" cy="186.7" r="2.2"/><circle cx="367" cy="186.9" r="2.2"/><circle cx="367.8" cy="186.6" r="2.2"/><circle cx="368.5" cy="186.6" r="2.2"/><circle cx="369.2" cy="186.7" r="2.2"/><circle cx="370" cy="186.6" r="2.2"/><circle cx="370.8" cy="186.7" r="2.2"/><circle cx="371.5" cy="186.4" r="2.2"/><circle cx="372.2" cy="186.5" r="2.2"/><circle cx="373" cy="186.5" r="2.2"/><circle cx="373.8" cy="186.3" r="2.2"/><circle cx="374.5" cy="186.3" r="2.2"/><circle cx="375.2" cy="186.4" r="2.2"/><circle cx="376" cy="186.3" r="2.2"/><circle cx="376.8" cy="186.2" r="2.2"/><circle cx="377.5" cy="185.9" r="2.2"/><circle cx="378.2" cy="186.1" r="2.2"/><circle cx="379" cy="186.1" r="2.2"/><circle cx="379.8" cy="186" r="2.2"/><circle cx="380.5" cy="185.9" r="2.2"/><circle cx="381.2" cy="186.1" r="2.2"/><circle cx="382" cy="185.8" r="2.2"/><circle cx="382.8" cy="185.7" r="2.2"/><circle cx="383.5" cy="185.7" r="2.2"/><circle cx="384.2" cy="185.6" r="2.2"/><circle cx="385" cy="185.5" r="2.2"/><circle cx="385.8" cy="185.5" r="2.2"/><circle cx="386.5" cy="185.5" r="2.2"/><circle cx="387.2" cy="185.3" r="2.2"/><circle cx="388" cy="185.1" r="2.2"/><circle cx="388.8" cy="185.1" r="2.2"/><circle cx="389.5" cy="185.1" r="2.2"/><circle cx="390.2" cy="184.9" r="2.2"/><circle cx="391" cy="184.9" r="2.2"/><circle cx="391.8" cy="184.7" r="2.2"/><circle cx="392.5" cy="184.5" r="2.2"/><circle cx="393.2" cy="184.4" r="2.2"/><circle cx="394" cy="184.4" r="2.2"/><circle cx="394.8" cy="184.3" r="2.2"/><circle cx="395.5" cy="184" r="2.2"/><circle cx="396.2" cy="183.9" r="2.2"/><circle cx="397" cy="183.6" r="2.2"/><circle cx="397.8" cy="183.4" r="2.2"/><circle cx="398.5" cy="183.4" r="2.2"/><circle cx="399.2" cy="183.2" r="2.2"/><circle cx="400" cy="183" r="2.2"/><circle cx="400.8" cy="182.8" r="2.2"/><circle cx="401.5" cy="182.6" r="2.2"/><circle cx="402.2" cy="182.3" r="2.2"/><circle cx="403" cy="182.1" r="2.2"/><circle cx="403.8" cy="181.9" r="2.2"/><circle cx="404.5" cy="181.5" r="2.2"/><circle cx="405.2" cy="181.3" r="2.2"/><circle cx="406" cy="180.8" r="2.2"/><circle cx="406.8" cy="180.5" r="2.2"/><circle cx="407.5" cy="180.4" r="2.2"/><circle cx="408.2" cy="180.2" r="2.2"/><circle cx="409" cy="179.8" r="2.2"/><circle cx="409.8" cy="179.6" r="2.2"/><circle cx="410.5" cy="179.3" r="2.2"/><circle cx="411.2" cy="179.2" r="2.2"/><circle cx="412" cy="179" r="2.2"/><circle cx="412.8" cy="178.6" r="2.2"/><circle cx="413.5" cy="178.5" r="2.2"/><circle cx="414.2" cy="178.3" r="2.2"/><circle cx="415" cy="178.1" r="2.2"/><circle cx="415.8" cy="177.8" r="2.2"/><circle cx="416.5" cy="177.8" r="2.2"/><circle cx="417.2" cy="177.5" r="2.2"/><circle cx="418" cy="177.6" r="2.2"/><circle cx="418.8" cy="177.3" r="2.2"/><circle cx="419.5" cy="177.1" r="2.2"/><circle cx="420.2" cy="177.3" r="2.2"/><circle cx="421" cy="177.2" r="2.2"/><circle cx="421.8" cy="177" r="2.2"/><circle cx="422.5" cy="177.2" r="2.2"/><circle cx="423.2" cy="176.9" r="2.2"/><circle cx="424" cy="177" r="2.2"/><circle cx="424.8" cy="177" r="2.2"/><circle cx="425.5" cy="176.7" r="2.2"/><circle cx="426.2" cy="177" r="2.2"/><circle cx="427" cy="176.9" r="2.2"/><circle cx="427.8" cy="176.9" r="2.2"/><circle cx="428.5" cy="176.8" r="2.2"/><circle cx="429.2" cy="176.8" r="2.2"/><circle cx="430" cy="176.7" r="2.2"/><circle cx="430.8" cy="176.7" r="2.2"/><circle cx="431.5" cy="176.7" r="2.2"/><circle cx="432.2" cy="176.7" r="2.2"/><circle cx="433" cy="176.9" r="2.2"/><circle cx="433.8" cy="176.6" r="2.2"/><circle cx="434.5" cy="176.7" r="2.2"/><circle cx="435.2" cy="176.7" r="2.2"/><circle cx="436" cy="176.7" r="2.2"/><circle cx="436.8" cy="176.8" r="2.2"/><circle cx="437.5" cy="176.8" r="2.2"/><circle cx="438.2" cy="176.7" r="2.2"/><circle cx="439" cy="176.6" r="2.2"/><circle cx="439.8" cy="176.7" r="2.2"/><circle cx="440.5" cy="176.7" r="2.2"/><circle cx="441.2" cy="176.7" r="2.2"/><circle cx="442" cy="176.6" r="2.2"/><circle cx="442.8" cy="176.4" r="2.2"/><circle cx="443.5" cy="176.6" r="2.2"/><circle cx="444.2" cy="176.4" r="2.2"/><circle cx="445" cy="176.2" r="2.2"/><circle cx="445.8" cy="176" r="2.2"/><circle cx="446.5" cy="175.8" r="2.2"/><circle cx="447.2" cy="175.5" r="2.2"/><circle cx="448" cy="175.4" r="2.2"/><circle cx="448.8" cy="175.1" r="2.2"/><circle cx="449.5" cy="174.8" r="2.2"/><circle cx="450.2" cy="174.5" r="2.2"/><circle cx="451" cy="174.3" r="2.2"/><circle cx="451.8" cy="174.1" r="2.2"/><circle cx="452.5" cy="173.8" r="2.2"/><circle cx="453.2" cy="173.5" r="2.2"/><circle cx="454" cy="173.1" r="2.2"/><circle cx="454.8" cy="173" r="2.2"/><circle cx="455.5" cy="172.7" r="2.2"/><circle cx="456.2" cy="172.4" r="2.2"/><circle cx="457" cy="172.2" r="2.2"/><circle cx="457.8" cy="172.1" r="2.2"/><circle cx="458.5" cy="171.9" r="2.2"/><circle cx="459.2" cy="171.9" r="2.2"/><circle cx="460" cy="171.6" r="2.2"/><circle cx="460.8" cy="171.5" r="2.2"/><circle cx="461.5" cy="171.2" r="2.2"/><circle cx="462.2" cy="170.8" r="2.2"/><circle cx="463" cy="170.5" r="2.2"/><circle cx="463.8" cy="169.6" r="2.2"/><circle cx="464.5" cy="168.6" r="2.2"/><circle cx="465.2" cy="166.8" r="2.2"/><circle cx="466" cy="164.5" r="2.2"/><circle cx="466.8" cy="160.7" r="2.2"/><circle cx="467.5" cy="154.8" r="2.2"/><circle cx="468.2" cy="148.8" r="2.2"/><circle cx="469" cy="144.8" r="2.2"/><circle cx="469.8" cy="142.4" r="2.2"/><circle cx="470.5" cy="140.3" r="2.2"/><circle cx="471.2" cy="139" r="2.2"/><circle cx="472" cy="138.3" r="2.2"/><circle cx="472.8" cy="137.7" r="2.2"/><circle cx="473.5" cy="137.4" r="2.2"/><circle cx="474.2" cy="137.5" r="2.2"/><circle cx="475" cy="137.3" r="2.2"/><circle cx="475.8" cy="137.4" r="2.2"/><circle cx="476.5" cy="137.5" r="2.2"/><circle cx="477.2" cy="137.6" r="2.2"/><circle cx="478" cy="137.8" r="2.2"/><circle cx="478.8" cy="138.2" r="2.2"/><circle cx="479.5" cy="139" r="2.2"/><circle cx="480.2" cy="140.4" r="2.2"/><circle cx="481" cy="143" r="2.2"/><circle cx="481.8" cy="146.6" r="2.2"/><circle cx="482.5" cy="150.8" r="2.2"/><circle cx="483.2" cy="155.7" r="2.2"/><circle cx="484" cy="161.4" r="2.2"/><circle cx="484.8" cy="166.7" r="2.2"/><circle cx="485.5" cy="171.5" r="2.2"/><circle cx="486.2" cy="176.3" r="2.2"/><circle cx="487" cy="178.7" r="2.2"/><circle cx="487.8" cy="180.3" r="2.2"/><circle cx="488.5" cy="181.3" r="2.2"/><circle cx="489.2" cy="182.4" r="2.2"/><circle cx="490" cy="182.9" r="2.2"/><circle cx="490.8" cy="183.5" r="2.2"/><circle cx="491.5" cy="183.8" r="2.2"/><circle cx="492.2" cy="184.2" r="2.2"/><circle cx="493" cy="184.5" r="2.2"/><circle cx="493.8" cy="184.9" r="2.2"/><circle cx="494.5" cy="185" r="2.2"/><circle cx="495.2" cy="185.4" r="2.2"/><circle cx="496" cy="185.7" r="2.2"/><circle cx="496.8" cy="185.8" r="2.2"/><circle cx="497.5" cy="185.9" r="2.2"/><circle cx="498.2" cy="185.9" r="2.2"/><circle cx="499" cy="186.1" r="2.2"/><circle cx="499.8" cy="186" r="2.2"/><circle cx="500.5" cy="186.2" r="2.2"/><circle cx="501.2" cy="186.2" r="2.2"/><circle cx="502" cy="186.1" r="2.2"/><circle cx="502.8" cy="186.4" r="2.2"/><circle cx="503.5" cy="186.3" r="2.2"/><circle cx="504.2" cy="186.4" r="2.2"/><circle cx="505" cy="186.4" r="2.2"/><circle cx="505.8" cy="186.4" r="2.2"/><circle cx="506.5" cy="186.4" r="2.2"/><circle cx="507.2" cy="186.6" r="2.2"/><circle cx="508" cy="186.5" r="2.2"/><circle cx="508.8" cy="186.6" r="2.2"/><circle cx="509.5" cy="186.6" r="2.2"/><circle cx="510.2" cy="186.5" r="2.2"/><circle cx="511" cy="186.6" r="2.2"/><circle cx="511.8" cy="186.7" r="2.2"/><circle cx="512.5" cy="186.7" r="2.2"/><circle cx="513.2" cy="186.9" r="2.2"/><circle cx="514" cy="186.7" r="2.2"/><circle cx="514.8" cy="186.8" r="2.2"/><circle cx="515.5" cy="186.7" r="2.2"/><circle cx="516.2" cy="186.8" r="2.2"/><circle cx="517" cy="186.9" r="2.2"/><circle cx="517.8" cy="186.7" r="2.2"/><circle cx="518.5" cy="186.8" r="2.2"/><circle cx="519.2" cy="187" r="2.2"/><circle cx="520" cy="187" r="2.2"/><circle cx="520.8" cy="187" r="2.2"/><circle cx="521.5" cy="187" r="2.2"/><circle cx="522.2" cy="187.2" r="2.2"/><circle cx="523" cy="187" r="2.2"/><circle cx="523.8" cy="187" r="2.2"/><circle cx="524.5" cy="187.2" r="2.2"/><circle cx="525.2" cy="187.1" r="2.2"/><circle cx="526" cy="187.1" r="2.2"/><circle cx="526.8" cy="187.2" r="2.2"/><circle cx="527.5" cy="187.1" r="2.2"/><circle cx="528.2" cy="187.2" r="2.2"/><circle cx="529" cy="187.2" r="2.2"/><circle cx="529.8" cy="187.1" r="2.2"/><circle cx="530.5" cy="187.2" r="2.2"/><circle cx="531.2" cy="187.2" r="2.2"/><circle cx="532" cy="187.1" r="2.2"/><circle cx="532.8" cy="187.1" r="2.2"/><circle cx="533.5" cy="187.3" r="2.2"/><circle cx="534.2" cy="187.2" r="2.2"/><circle cx="320.5" cy="187.8" r="2.2"/></g>
<circle cx="534.3" cy="187.2" r="2.9" fill="#000"/>
<polyline points="434,188.1 437.5,188 440.5,187.7 443,187.2 445,186.6 447,185.7 449,184.5 451,183.2 455.5,179.8 457.5,178.5 459.5,177.7 460.5,177.5 461.5,177.4 462.5,177.5 463.5,177.7 465.5,178.5 467.5,179.8 472,183.2 474,184.5 476,185.7 478,186.6 480,187.2 482.5,187.7 485.5,188 489,188.1" stroke="#ff00ff" stroke-width="1.2" fill="none"/>
<polyline points="466.5,188.1 467.5,188 468.5,187.6 469.5,186.9 470,186.3 470.5,185.5 471,184.5 472,181.4 472.5,179.2 473.5,173.8 476,155.8 477,149.6 477.5,147.5 478,146.2 478.5,145.7 479,146.2 479.5,147.5 480,149.6 481,155.8 483.5,173.8 484.5,179.2 485,181.4 486,184.5 486.5,185.5 487,186.3 487.5,186.9 488.5,187.6 489.5,188 490.5,188.1" stroke="#77ac30" stroke-width="1.2" fill="none"/>
<polyline points="399.5,188.2 450,188.2" stroke="#0000ff" stroke-width="1.2" fill="none"/>
<polyline points="461.5,188.1 462.5,188 463,187.8 463.5,187.5 464,187 464.5,186.4 465,185.4 465.5,184.1 466,182.4 466.5,180.2 467.5,174.3 469,163.4 470,157 470.5,154.8 471,153.6 471.5,153.5 472,154.5 472.5,156.5 473,159.3 475,173.7 476,179.7 476.5,182 477,183.8 477.5,185.2 478,186.2 478.5,186.9 479,187.4 479.5,187.7 480,187.9 481,188.1" stroke="#0000ff" stroke-width="1.2" fill="none"/>
<polyline points="320.5,188.2 382.5,188.2 390,188.1 395,187.9 399.5,187.5 404,186.7 408.5,185.6 415.5,183.4 418.5,182.5 421.5,181.9 424.5,181.7 427.5,181.9 431,182.5 434,183.4 441,185.6 445.5,186.8 450,187.5 455,187.9 460,188.1 467.5,188.2 537,188.2" stroke="#ff0000" stroke-width="1.8" fill="none"/>
<line x1="431" y1="152.3" x2="431" y2="175.2" stroke="#e8903a" stroke-width="1.4"/>
<polygon points="320.5,245.3 351.7,245 358.8,244.8 366.2,244.2 370,243.7 374.5,242.8 387.4,239.6 397.5,236.8 405.7,235.3 408.9,234.9 411.9,234.7 427.5,235 433,234.8 439.4,234.3 443.7,233.8 447.6,233 451.5,231.8 452.6,231.4 453.5,230.8 455.1,230.7 456.8,230.2 458.2,230.5 459,227.6 460,222 461.5,209.7 462.5,203.5 463.2,200.1 463.1,198.1 462.7,195.5 462.9,194.5 464,193.9 465.5,193.6 467.1,194 468.1,194.6 468.3,195.6 468.4,197 468.6,197.4 468.9,197.6 469.4,197.6 469.9,197.2 470.2,198.2 470.4,198.5 470.8,198.6 471.2,198.5 471.3,198.1 470.9,197.9 470,197.6 469.1,197.8 469.9,197.3 471,196.9 472.8,196.4 474.2,196.2 475,196.3 476.4,196.7 477.5,197.3 478.2,197.9 478.7,198.6 479.2,199.1 479.2,200.7 478.9,204 479,204.6 480.2,207.9 481.5,212.4 485.2,232.4 486.5,236.6 487.5,239.2 488.2,239.4 489.2,239.3 490.1,238.8 490.6,238.3 491.1,238.5 493.3,239.8 495.6,240.6 501,241.7 507.1,242.5 523.9,243.6 537.5,243.9 537.5,250.5 529.9,250.3 521.6,250 509.3,249.3 503.6,248.7 498.4,248 493.7,247 491,246.2 488.4,244.9 487.1,244 486.4,243.1 486.4,242.1 487.5,239.2 486.5,236.6 485.2,232.4 481.5,212.4 480.2,207.9 479,204.6 478.1,203.9 477,203.4 475.8,203.4 475.3,203.5 474.8,203.9 474.3,203.5 473.5,203.2 474.3,203.4 473,203.7 471.9,204.3 470.6,204.7 469.5,204.7 468.1,204.4 467.2,203.9 466.8,203.1 466.6,202 466.3,201.7 465.6,201.7 465.6,200.2 465.4,199.7 465.1,199.5 464.7,199.4 464.2,199.7 463.9,200.2 464.4,200.5 465.5,200.8 466.5,200.6 467.1,200.3 466.8,199.7 466.2,199.3 465.5,199.1 464.3,199.4 463.2,200.1 462.8,202.2 461.5,209.7 460,222 459,227.6 458.2,230.5 459.2,231.8 458.8,234.5 458.2,235.9 458,236.3 457.6,236.6 455.9,237.7 453.7,238.6 450.2,239.7 446.4,240.6 443.1,241 437.5,241.5 431.9,241.9 427,242 412.3,241.7 409.8,241.9 406.8,242.2 399,243.5 389.1,246.2 376,249.2 371,250.1 366.8,250.7 359.2,251.2 351.8,251.5 320.5,251.7" fill="#000"/>
<circle cx="320.50" cy="248.50" r="3.22" fill="#000"/><circle cx="537.50" cy="247.20" r="3.26" fill="#000"/>
<g fill="#fff" stroke="#000" stroke-width="1.25"><circle cx="320.5" cy="248.6" r="2.2"/><circle cx="321.2" cy="248.4" r="2.2"/><circle cx="322" cy="248.6" r="2.2"/><circle cx="322.8" cy="248.4" r="2.2"/><circle cx="323.5" cy="248.6" r="2.2"/><circle cx="324.2" cy="248.5" r="2.2"/><circle cx="325" cy="248.6" r="2.2"/><circle cx="325.8" cy="248.5" r="2.2"/><circle cx="326.5" cy="248.6" r="2.2"/><circle cx="327.2" cy="248.5" r="2.2"/><circle cx="328" cy="248.6" r="2.2"/><circle cx="328.8" cy="248.5" r="2.2"/><circle cx="329.5" cy="248.7" r="2.2"/><circle cx="330.2" cy="248.4" r="2.2"/><circle cx="331" cy="248.6" r="2.2"/><circle cx="331.8" cy="248.5" r="2.2"/><circle cx="332.5" cy="248.5" r="2.2"/><circle cx="333.2" cy="248.4" r="2.2"/><circle cx="334" cy="248.5" r="2.2"/><circle cx="334.8" cy="248.3" r="2.2"/><circle cx="335.5" cy="248.3" r="2.2"/><circle cx="336.2" cy="248.5" r="2.2"/><circle cx="337" cy="248.3" r="2.2"/><circle cx="337.8" cy="248.5" r="2.2"/><circle cx="338.5" cy="248.4" r="2.2"/><circle cx="339.2" cy="248.4" r="2.2"/><circle cx="340" cy="248.4" r="2.2"/><circle cx="340.8" cy="248.4" r="2.2"/><circle cx="341.5" cy="248.4" r="2.2"/><circle cx="342.2" cy="248.4" r="2.2"/><circle cx="343" cy="248.4" r="2.2"/><circle cx="343.8" cy="248.5" r="2.2"/><circle cx="344.5" cy="248.5" r="2.2"/><circle cx="345.2" cy="248.5" r="2.2"/><circle cx="346" cy="248.4" r="2.2"/><circle cx="346.8" cy="248.3" r="2.2"/><circle cx="347.5" cy="248.2" r="2.2"/><circle cx="348.2" cy="248.4" r="2.2"/><circle cx="349" cy="248.4" r="2.2"/><circle cx="349.8" cy="248.3" r="2.2"/><circle cx="350.5" cy="248.4" r="2.2"/><circle cx="351.2" cy="248.4" r="2.2"/><circle cx="352" cy="248.3" r="2.2"/><circle cx="352.8" cy="248.3" r="2.2"/><circle cx="353.5" cy="248.3" r="2.2"/><circle cx="354.2" cy="248.1" r="2.2"/><circle cx="355" cy="248.1" r="2.2"/><circle cx="355.8" cy="248.1" r="2.2"/><circle cx="356.5" cy="248.2" r="2.2"/><circle cx="357.2" cy="248" r="2.2"/><circle cx="358" cy="248" r="2.2"/><circle cx="358.8" cy="247.9" r="2.2"/><circle cx="359.5" cy="248" r="2.2"/><circle cx="360.2" cy="247.9" r="2.2"/><circle cx="361" cy="248" r="2.2"/><circle cx="361.8" cy="247.9" r="2.2"/><circle cx="362.5" cy="247.8" r="2.2"/><circle cx="363.2" cy="247.7" r="2.2"/><circle cx="364" cy="247.7" r="2.2"/><circle cx="364.8" cy="247.6" r="2.2"/><circle cx="365.5" cy="247.7" r="2.2"/><circle cx="366.2" cy="247.3" r="2.2"/><circle cx="367" cy="247.4" r="2.2"/><circle cx="367.8" cy="247.4" r="2.2"/><circle cx="368.5" cy="247.3" r="2.2"/><circle cx="369.2" cy="247" r="2.2"/><circle cx="370" cy="247" r="2.2"/><circle cx="370.8" cy="247" r="2.2"/><circle cx="371.5" cy="246.7" r="2.2"/><circle cx="372.2" cy="246.5" r="2.2"/><circle cx="373" cy="246.4" r="2.2"/><circle cx="373.8" cy="246.2" r="2.2"/><circle cx="374.5" cy="246.2" r="2.2"/><circle cx="375.2" cy="245.9" r="2.2"/><circle cx="376" cy="246" r="2.2"/><circle cx="376.8" cy="245.7" r="2.2"/><circle cx="377.5" cy="245.4" r="2.2"/><circle cx="378.2" cy="245.3" r="2.2"/><circle cx="379" cy="245" r="2.2"/><circle cx="379.8" cy="245" r="2.2"/><circle cx="380.5" cy="244.9" r="2.2"/><circle cx="381.2" cy="244.6" r="2.2"/><circle cx="382" cy="244.5" r="2.2"/><circle cx="382.8" cy="244.1" r="2.2"/><circle cx="383.5" cy="244.1" r="2.2"/><circle cx="384.2" cy="244" r="2.2"/><circle cx="385" cy="243.6" r="2.2"/><circle cx="385.8" cy="243.6" r="2.2"/><circle cx="386.5" cy="243.4" r="2.2"/><circle cx="387.2" cy="243" r="2.2"/><circle cx="388" cy="242.9" r="2.2"/><circle cx="388.8" cy="242.7" r="2.2"/><circle cx="389.5" cy="242.7" r="2.2"/><circle cx="390.2" cy="242.3" r="2.2"/><circle cx="391" cy="242.1" r="2.2"/><circle cx="391.8" cy="242" r="2.2"/><circle cx="392.5" cy="241.7" r="2.2"/><circle cx="393.2" cy="241.5" r="2.2"/><circle cx="394" cy="241.3" r="2.2"/><circle cx="394.8" cy="241.2" r="2.2"/><circle cx="395.5" cy="240.8" r="2.2"/><circle cx="396.2" cy="240.8" r="2.2"/><circle cx="397" cy="240.4" r="2.2"/><circle cx="397.8" cy="240.2" r="2.2"/><circle cx="398.5" cy="240.1" r="2.2"/><circle cx="399.2" cy="240" r="2.2"/><circle cx="400" cy="239.6" r="2.2"/><circle cx="400.8" cy="239.7" r="2.2"/><circle cx="401.5" cy="239.4" r="2.2"/><circle cx="402.2" cy="239.3" r="2.2"/><circle cx="403" cy="239.3" r="2.2"/><circle cx="403.8" cy="239.1" r="2.2"/><circle cx="404.5" cy="239.1" r="2.2"/><circle cx="405.2" cy="238.9" r="2.2"/><circle cx="406" cy="239" r="2.2"/><circle cx="406.8" cy="238.7" r="2.2"/><circle cx="407.5" cy="238.5" r="2.2"/><circle cx="408.2" cy="238.4" r="2.2"/><circle cx="409" cy="238.4" r="2.2"/><circle cx="409.8" cy="238.4" r="2.2"/><circle cx="410.5" cy="238.3" r="2.2"/><circle cx="411.2" cy="238.3" r="2.2"/><circle cx="412" cy="238.2" r="2.2"/><circle cx="412.8" cy="238.2" r="2.2"/><circle cx="413.5" cy="238.2" r="2.2"/><circle cx="414.2" cy="238.2" r="2.2"/><circle cx="415" cy="238.2" r="2.2"/><circle cx="415.8" cy="238.3" r="2.2"/><circle cx="416.5" cy="238.3" r="2.2"/><circle cx="417.2" cy="238.2" r="2.2"/><circle cx="418" cy="238.2" r="2.2"/><circle cx="418.8" cy="238.3" r="2.2"/><circle cx="419.5" cy="238.4" r="2.2"/><circle cx="420.2" cy="238.2" r="2.2"/><circle cx="421" cy="238.4" r="2.2"/><circle cx="421.8" cy="238.5" r="2.2"/><circle cx="422.5" cy="238.4" r="2.2"/><circle cx="423.2" cy="238.4" r="2.2"/><circle cx="424" cy="238.6" r="2.2"/><circle cx="424.8" cy="238.6" r="2.2"/><circle cx="425.5" cy="238.5" r="2.2"/><circle cx="426.2" cy="238.6" r="2.2"/><circle cx="427" cy="238.6" r="2.2"/><circle cx="427.8" cy="238.4" r="2.2"/><circle cx="428.5" cy="238.7" r="2.2"/><circle cx="429.2" cy="238.4" r="2.2"/><circle cx="430" cy="238.4" r="2.2"/><circle cx="430.8" cy="238.3" r="2.2"/><circle cx="431.5" cy="238.4" r="2.2"/><circle cx="432.2" cy="238.2" r="2.2"/><circle cx="433" cy="238.3" r="2.2"/><circle cx="433.8" cy="238.3" r="2.2"/><circle cx="434.5" cy="238.2" r="2.2"/><circle cx="435.2" cy="238.1" r="2.2"/><circle cx="436" cy="238.2" r="2.2"/><circle cx="436.8" cy="238" r="2.2"/><circle cx="437.5" cy="238.1" r="2.2"/><circle cx="438.2" cy="237.9" r="2.2"/><circle cx="439" cy="237.9" r="2.2"/><circle cx="439.8" cy="237.8" r="2.2"/><circle cx="440.5" cy="237.7" r="2.2"/><circle cx="441.2" cy="237.7" r="2.2"/><circle cx="442" cy="237.5" r="2.2"/><circle cx="442.8" cy="237.5" r="2.2"/><circle cx="443.5" cy="237.5" r="2.2"/><circle cx="444.2" cy="237.3" r="2.2"/><circle cx="445" cy="237.1" r="2.2"/><circle cx="445.8" cy="237" r="2.2"/><circle cx="446.5" cy="236.9" r="2.2"/><circle cx="447.2" cy="236.8" r="2.2"/><circle cx="448" cy="236.6" r="2.2"/><circle cx="448.8" cy="236.4" r="2.2"/><circle cx="449.5" cy="236.2" r="2.2"/><circle cx="450.2" cy="236" r="2.2"/><circle cx="451" cy="235.7" r="2.2"/><circle cx="451.8" cy="235.3" r="2.2"/><circle cx="452.5" cy="235.3" r="2.2"/><circle cx="453.2" cy="234.9" r="2.2"/><circle cx="454" cy="234.6" r="2.2"/><circle cx="454.8" cy="234.2" r="2.2"/><circle cx="455.5" cy="233.8" r="2.2"/><circle cx="456.2" cy="233" r="2.2"/><circle cx="457" cy="232.4" r="2.2"/><circle cx="457.8" cy="231.3" r="2.2"/><circle cx="458.5" cy="229.6" r="2.2"/><circle cx="459.2" cy="226.2" r="2.2"/><circle cx="460" cy="222" r="2.2"/><circle cx="460.8" cy="216.1" r="2.2"/><circle cx="461.5" cy="209.7" r="2.2"/><circle cx="462.2" cy="205.1" r="2.2"/><circle cx="463" cy="201.1" r="2.2"/><circle cx="463.8" cy="199.1" r="2.2"/><circle cx="464.5" cy="197.9" r="2.2"/><circle cx="465.2" cy="197.3" r="2.2"/><circle cx="466" cy="197.4" r="2.2"/><circle cx="466.8" cy="198.1" r="2.2"/><circle cx="467.5" cy="199.3" r="2.2"/><circle cx="468.2" cy="199.8" r="2.2"/><circle cx="469" cy="200.8" r="2.2"/><circle cx="469.8" cy="201.2" r="2.2"/><circle cx="470.5" cy="201" r="2.2"/><circle cx="471.2" cy="200.6" r="2.2"/><circle cx="472" cy="200.3" r="2.2"/><circle cx="472.8" cy="200" r="2.2"/><circle cx="473.5" cy="199.8" r="2.2"/><circle cx="474.2" cy="199.8" r="2.2"/><circle cx="475" cy="199.9" r="2.2"/><circle cx="475.8" cy="200.4" r="2.2"/><circle cx="476.5" cy="201.1" r="2.2"/><circle cx="477.2" cy="201.7" r="2.2"/><circle cx="478" cy="202.8" r="2.2"/><circle cx="478.8" cy="204.1" r="2.2"/><circle cx="479.5" cy="205.8" r="2.2"/><circle cx="480.2" cy="207.9" r="2.2"/><circle cx="481" cy="210.5" r="2.2"/><circle cx="481.8" cy="213.5" r="2.2"/><circle cx="482.5" cy="217.6" r="2.2"/><circle cx="483.2" cy="221.7" r="2.2"/><circle cx="484" cy="225.9" r="2.2"/><circle cx="484.8" cy="230.2" r="2.2"/><circle cx="485.5" cy="233.4" r="2.2"/><circle cx="486.2" cy="235.8" r="2.2"/><circle cx="487" cy="238" r="2.2"/><circle cx="487.8" cy="239.6" r="2.2"/><circle cx="488.5" cy="240.5" r="2.2"/><circle cx="489.2" cy="241.2" r="2.2"/><circle cx="490" cy="241.8" r="2.2"/><circle cx="490.8" cy="242.2" r="2.2"/><circle cx="491.5" cy="242.6" r="2.2"/><circle cx="492.2" cy="243.1" r="2.2"/><circle cx="493" cy="243.3" r="2.2"/><circle cx="493.8" cy="243.4" r="2.2"/><circle cx="494.5" cy="244" r="2.2"/><circle cx="495.2" cy="244" r="2.2"/><circle cx="496" cy="244.1" r="2.2"/><circle cx="496.8" cy="244.3" r="2.2"/><circle cx="497.5" cy="244.4" r="2.2"/><circle cx="498.2" cy="244.7" r="2.2"/><circle cx="499" cy="244.6" r="2.2"/><circle cx="499.8" cy="244.7" r="2.2"/><circle cx="500.5" cy="245" r="2.2"/><circle cx="501.2" cy="245" r="2.2"/><circle cx="502" cy="245.3" r="2.2"/><circle cx="502.8" cy="245.2" r="2.2"/><circle cx="503.5" cy="245.3" r="2.2"/><circle cx="504.2" cy="245.5" r="2.2"/><circle cx="505" cy="245.6" r="2.2"/><circle cx="505.8" cy="245.7" r="2.2"/><circle cx="506.5" cy="245.7" r="2.2"/><circle cx="507.2" cy="246" r="2.2"/><circle cx="508" cy="245.8" r="2.2"/><circle cx="508.8" cy="245.9" r="2.2"/><circle cx="509.5" cy="246" r="2.2"/><circle cx="510.2" cy="246" r="2.2"/><circle cx="511" cy="246" r="2.2"/><circle cx="511.8" cy="246.1" r="2.2"/><circle cx="512.5" cy="246.1" r="2.2"/><circle cx="513.2" cy="246.1" r="2.2"/><circle cx="514" cy="246.2" r="2.2"/><circle cx="514.8" cy="246.2" r="2.2"/><circle cx="515.5" cy="246.4" r="2.2"/><circle cx="516.2" cy="246.3" r="2.2"/><circle cx="517" cy="246.6" r="2.2"/><circle cx="517.8" cy="246.6" r="2.2"/><circle cx="518.5" cy="246.6" r="2.2"/><circle cx="519.2" cy="246.6" r="2.2"/><circle cx="520" cy="246.6" r="2.2"/><circle cx="520.8" cy="246.8" r="2.2"/><circle cx="521.5" cy="246.7" r="2.2"/><circle cx="522.2" cy="246.8" r="2.2"/><circle cx="523" cy="246.7" r="2.2"/><circle cx="523.8" cy="246.9" r="2.2"/><circle cx="524.5" cy="246.8" r="2.2"/><circle cx="525.2" cy="246.9" r="2.2"/><circle cx="526" cy="246.8" r="2.2"/><circle cx="526.8" cy="246.9" r="2.2"/><circle cx="527.5" cy="247" r="2.2"/><circle cx="528.2" cy="247" r="2.2"/><circle cx="529" cy="247" r="2.2"/><circle cx="529.8" cy="247.1" r="2.2"/><circle cx="530.5" cy="247.1" r="2.2"/><circle cx="531.2" cy="247.2" r="2.2"/><circle cx="532" cy="246.9" r="2.2"/><circle cx="532.8" cy="247.2" r="2.2"/><circle cx="533.5" cy="247.2" r="2.2"/><circle cx="534.2" cy="247" r="2.2"/><circle cx="320.5" cy="248.5" r="2.2"/></g>
<circle cx="534.3" cy="247.2" r="2.9" fill="#000"/>
<polyline points="395,249 404.5,248.9 411.5,248.5 417.5,248 423,247.1 427.5,246.1 432.5,244.6 437,243.1 447,239.3 451.5,237.8 454,237.2 456.5,236.7 459,236.4 461.5,236.3 464,236.4 466.5,236.7 469,237.2 471.5,237.8 476,239.3 486,243.1 490.5,244.6 495.5,246.1 500,247.1 505.5,248 511.5,248.5 518.5,248.9 528,249" stroke="#ff00ff" stroke-width="1.2" fill="none"/>
<polyline points="455,249 456.5,248.9 457.5,248.8 458.5,248.4 459.5,247.8 460.5,246.8 461,246.1 462,244.2 463,241.5 464.5,235.9 467.5,221.2 468.5,217 469,215.3 469.5,214.1 470,213.3 470.5,212.9 471,213.1 471.5,213.7 472,214.8 472.5,216.3 473.5,220.3 476,232.6 477,237.1 478,240.9 479,243.7 480,245.8 480.5,246.5 481.5,247.6 482.5,248.3 483.5,248.7 484.5,248.9 486,249" stroke="#edb120" stroke-width="1.2" fill="none"/>
<polyline points="455.5,249 456.5,248.7 457,248.5 457.5,248 458,247.3 458.5,246.2 459.5,243 461.5,233.4 462,231.4 462.5,230.2 463,229.7 463.5,230.2 464,231.4 464.5,233.4 466.5,243 467.5,246.2 468,247.3 468.5,248 469,248.5 469.5,248.7 470.5,249" stroke="#0000ff" stroke-width="1.2" fill="none"/>
<polyline points="362.5,249.1 460.5,249.1" stroke="#77ac30" stroke-width="1.2" fill="none"/>
<polyline points="468.5,249 470,248.8 471,248.4 472,247.5 473,245.9 473.5,244.7 474.5,241.5 476.5,233 477.5,229.2 478,227.9 478.5,227.1 479,226.9 479.5,227.3 480,228.3 480.5,229.8 483,240.4 484,243.9 484.5,245.2 485.5,247.1 486.5,248.2 487.5,248.7 489,249" stroke="#77ac30" stroke-width="1.2" fill="none"/>
<polyline points="320.5,249.1 341,249.1 352,248.9 360.5,248.5 367.5,247.9 374,246.9 380,245.6 385.5,244 396.5,240.6 401.5,239.3 404,238.8 406.5,238.4 409,238.2 411.5,238.1 413.5,238.1 416,238.3 418.5,238.7 421,239.1 426,240.4 438.5,244.3 445,246 448.5,246.8 452,247.4 455.5,247.9 459.5,248.3 467.5,248.8 478.5,249 537,249.1" stroke="#ff0000" stroke-width="1.8" fill="none"/>
<line x1="420.8" y1="211.8" x2="420.8" y2="235.8" stroke="#e8903a" stroke-width="1.4"/>
<polygon points="320.5,305.8 331.7,305.6 346.1,305 355,304.3 362.6,303.4 365.6,302.9 369.3,301.8 373.9,300.3 379.5,298.1 382,297.3 386.9,296.3 390.5,295.9 393,295.8 395.3,296.1 407.4,298.4 416.3,299.7 425.4,300.4 435.8,300.8 442.7,300.9 446.9,300.6 451,300 455.7,299.2 457.8,298.5 459.8,297.6 460.2,298 460.6,298.1 461.5,298 462.5,297.7 463.5,297.8 464,297.4 464.8,295.1 470.2,266.2 471,263.3 471.8,261.2 470.7,259.9 470.9,258.9 471.3,256.4 471.7,255.8 472.5,255.4 473.4,255.1 474.5,254.9 476.2,255.1 478,255.7 479.1,256.1 479.9,257.1 479.7,258.5 478.8,260.4 478.8,261.1 479.8,263.7 480.8,267.9 485.2,290.3 486.5,295.9 487.8,300.2 488.5,301.9 489,302.3 490.8,302.8 491.9,302.6 493.3,302.9 494,303.3 496.2,304.4 497.6,304.9 498.7,305.1 507.6,305.6 516.8,305.9 537.5,306.2 537.5,312.6 516.4,312.3 506.9,312 497.9,311.5 495.9,311.2 493.8,310.5 491,309.3 489.2,308.1 488.1,306 488.5,302.5 488.5,301.9 487.8,300.2 487.2,298.6 486,293.8 481,269.1 480,264.7 479.5,262.8 478.8,261.1 478.2,260.7 477.3,260.7 476.3,261 475.6,261.8 475.9,262.5 474.5,262.1 475.1,262 475.8,261.7 475.7,261.5 475.3,261.2 474.9,261.1 474.1,261.2 473.3,261.7 471.8,261.2 471.5,261.8 470.2,266.2 465,293.9 464.5,296 464,297.4 464,298.1 464.5,299 464.4,301.4 464.2,302.7 463.8,303.3 462.9,303.8 461.4,304.5 459.6,305.2 456.4,306 450.5,307 446,307.5 442,307.7 432.6,307.5 407.1,306.7 399.1,306.1 393.5,305.4 390.6,305.4 383.4,306.2 375.8,308.1 368.3,309.6 364.2,310.2 354.3,311 344.9,311.5 330.8,312 320.5,312.2" fill="#000"/>
<circle cx="320.50" cy="309.00" r="3.23" fill="#000"/><circle cx="537.50" cy="309.40" r="3.22" fill="#000"/>
<g fill="#fff" stroke="#000" stroke-width="1.25"><circle cx="320.5" cy="308.9" r="2.2"/><circle cx="321.2" cy="308.9" r="2.2"/><circle cx="322" cy="309" r="2.2"/><circle cx="322.8" cy="309.1" r="2.2"/><circle cx="323.5" cy="309" r="2.2"/><circle cx="324.2" cy="309.1" r="2.2"/><circle cx="325" cy="309.2" r="2.2"/><circle cx="325.8" cy="308.8" r="2.2"/><circle cx="326.5" cy="308.9" r="2.2"/><circle cx="327.2" cy="308.8" r="2.2"/><circle cx="328" cy="308.9" r="2.2"/><circle cx="328.8" cy="308.8" r="2.2"/><circle cx="329.5" cy="308.8" r="2.2"/><circle cx="330.2" cy="308.9" r="2.2"/><circle cx="331" cy="308.9" r="2.2"/><circle cx="331.8" cy="308.8" r="2.2"/><circle cx="332.5" cy="308.8" r="2.2"/><circle cx="333.2" cy="308.7" r="2.2"/><circle cx="334" cy="308.7" r="2.2"/><circle cx="334.8" cy="308.7" r="2.2"/><circle cx="335.5" cy="308.7" r="2.2"/><circle cx="336.2" cy="308.7" r="2.2"/><circle cx="337" cy="308.5" r="2.2"/><circle cx="337.8" cy="308.6" r="2.2"/><circle cx="338.5" cy="308.7" r="2.2"/><circle cx="339.2" cy="308.5" r="2.2"/><circle cx="340" cy="308.4" r="2.2"/><circle cx="340.8" cy="308.6" r="2.2"/><circle cx="341.5" cy="308.4" r="2.2"/><circle cx="342.2" cy="308.2" r="2.2"/><circle cx="343" cy="308.4" r="2.2"/><circle cx="343.8" cy="308.4" r="2.2"/><circle cx="344.5" cy="308.3" r="2.2"/><circle cx="345.2" cy="308.4" r="2.2"/><circle cx="346" cy="308.3" r="2.2"/><circle cx="346.8" cy="308.2" r="2.2"/><circle cx="347.5" cy="308" r="2.2"/><circle cx="348.2" cy="308" r="2.2"/><circle cx="349" cy="308.1" r="2.2"/><circle cx="349.8" cy="308.1" r="2.2"/><circle cx="350.5" cy="307.9" r="2.2"/><circle cx="351.2" cy="307.9" r="2.2"/><circle cx="352" cy="307.9" r="2.2"/><circle cx="352.8" cy="307.7" r="2.2"/><circle cx="353.5" cy="307.6" r="2.2"/><circle cx="354.2" cy="307.7" r="2.2"/><circle cx="355" cy="307.7" r="2.2"/><circle cx="355.8" cy="307.5" r="2.2"/><circle cx="356.5" cy="307.3" r="2.2"/><circle cx="357.2" cy="307.5" r="2.2"/><circle cx="358" cy="307.3" r="2.2"/><circle cx="358.8" cy="307.4" r="2.2"/><circle cx="359.5" cy="307.2" r="2.2"/><circle cx="360.2" cy="307.2" r="2.2"/><circle cx="361" cy="307.1" r="2.2"/><circle cx="361.8" cy="307" r="2.2"/><circle cx="362.5" cy="307" r="2.2"/><circle cx="363.2" cy="306.9" r="2.2"/><circle cx="364" cy="306.8" r="2.2"/><circle cx="364.8" cy="306.7" r="2.2"/><circle cx="365.5" cy="306.5" r="2.2"/><circle cx="366.2" cy="306.4" r="2.2"/><circle cx="367" cy="306.2" r="2.2"/><circle cx="367.8" cy="306" r="2.2"/><circle cx="368.5" cy="305.9" r="2.2"/><circle cx="369.2" cy="305.6" r="2.2"/><circle cx="370" cy="305.5" r="2.2"/><circle cx="370.8" cy="305.3" r="2.2"/><circle cx="371.5" cy="305.2" r="2.2"/><circle cx="372.2" cy="304.9" r="2.2"/><circle cx="373" cy="304.7" r="2.2"/><circle cx="373.8" cy="304.4" r="2.2"/><circle cx="374.5" cy="304.3" r="2.2"/><circle cx="375.2" cy="304.2" r="2.2"/><circle cx="376" cy="303.9" r="2.2"/><circle cx="376.8" cy="303.7" r="2.2"/><circle cx="377.5" cy="303.3" r="2.2"/><circle cx="378.2" cy="303" r="2.2"/><circle cx="379" cy="302.9" r="2.2"/><circle cx="379.8" cy="302.5" r="2.2"/><circle cx="380.5" cy="302.3" r="2.2"/><circle cx="381.2" cy="302.2" r="2.2"/><circle cx="382" cy="301.9" r="2.2"/><circle cx="382.8" cy="301.9" r="2.2"/><circle cx="383.5" cy="301.5" r="2.2"/><circle cx="384.2" cy="301.5" r="2.2"/><circle cx="385" cy="301.2" r="2.2"/><circle cx="385.8" cy="301.2" r="2.2"/><circle cx="386.5" cy="301" r="2.2"/><circle cx="387.2" cy="301" r="2.2"/><circle cx="388" cy="300.9" r="2.2"/><circle cx="388.8" cy="300.8" r="2.2"/><circle cx="389.5" cy="300.8" r="2.2"/><circle cx="390.2" cy="300.8" r="2.2"/><circle cx="391" cy="300.6" r="2.2"/><circle cx="391.8" cy="300.7" r="2.2"/><circle cx="392.5" cy="300.6" r="2.2"/><circle cx="393.2" cy="300.6" r="2.2"/><circle cx="394" cy="300.9" r="2.2"/><circle cx="394.8" cy="300.6" r="2.2"/><circle cx="395.5" cy="300.8" r="2.2"/><circle cx="396.2" cy="300.9" r="2.2"/><circle cx="397" cy="301.1" r="2.2"/><circle cx="397.8" cy="301.2" r="2.2"/><circle cx="398.5" cy="301.7" r="2.2"/><circle cx="399.2" cy="301.5" r="2.2"/><circle cx="400" cy="301.7" r="2.2"/><circle cx="400.8" cy="301.8" r="2.2"/><circle cx="401.5" cy="301.8" r="2.2"/><circle cx="402.2" cy="302" r="2.2"/><circle cx="403" cy="302.2" r="2.2"/><circle cx="403.8" cy="302.2" r="2.2"/><circle cx="404.5" cy="302.3" r="2.2"/><circle cx="405.2" cy="302.4" r="2.2"/><circle cx="406" cy="302.3" r="2.2"/><circle cx="406.8" cy="302.5" r="2.2"/><circle cx="407.5" cy="302.6" r="2.2"/><circle cx="408.2" cy="302.7" r="2.2"/><circle cx="409" cy="302.7" r="2.2"/><circle cx="409.8" cy="302.8" r="2.2"/><circle cx="410.5" cy="302.9" r="2.2"/><circle cx="411.2" cy="303" r="2.2"/><circle cx="412" cy="303.1" r="2.2"/><circle cx="412.8" cy="303.1" r="2.2"/><circle cx="413.5" cy="303.2" r="2.2"/><circle cx="414.2" cy="303.1" r="2.2"/><circle cx="415" cy="303.2" r="2.2"/><circle cx="415.8" cy="303.4" r="2.2"/><circle cx="416.5" cy="303.3" r="2.2"/><circle cx="417.2" cy="303.5" r="2.2"/><circle cx="418" cy="303.4" r="2.2"/><circle cx="418.8" cy="303.5" r="2.2"/><circle cx="419.5" cy="303.6" r="2.2"/><circle cx="420.2" cy="303.6" r="2.2"/><circle cx="421" cy="303.6" r="2.2"/><circle cx="421.8" cy="303.6" r="2.2"/><circle cx="422.5" cy="303.7" r="2.2"/><circle cx="423.2" cy="304" r="2.2"/><circle cx="424" cy="303.6" r="2.2"/><circle cx="424.8" cy="303.8" r="2.2"/><circle cx="425.5" cy="303.8" r="2.2"/><circle cx="426.2" cy="304" r="2.2"/><circle cx="427" cy="303.9" r="2.2"/><circle cx="427.8" cy="303.8" r="2.2"/><circle cx="428.5" cy="304.1" r="2.2"/><circle cx="429.2" cy="303.9" r="2.2"/><circle cx="430" cy="304" r="2.2"/><circle cx="430.8" cy="304" r="2.2"/><circle cx="431.5" cy="304" r="2.2"/><circle cx="432.2" cy="304.1" r="2.2"/><circle cx="433" cy="304.2" r="2.2"/><circle cx="433.8" cy="304.2" r="2.2"/><circle cx="434.5" cy="304.1" r="2.2"/><circle cx="435.2" cy="304.3" r="2.2"/><circle cx="436" cy="304.2" r="2.2"/><circle cx="436.8" cy="304.3" r="2.2"/><circle cx="437.5" cy="304.3" r="2.2"/><circle cx="438.2" cy="304.3" r="2.2"/><circle cx="439" cy="304.2" r="2.2"/><circle cx="439.8" cy="304.3" r="2.2"/><circle cx="440.5" cy="304.3" r="2.2"/><circle cx="441.2" cy="304.3" r="2.2"/><circle cx="442" cy="304.2" r="2.2"/><circle cx="442.8" cy="304.4" r="2.2"/><circle cx="443.5" cy="304.2" r="2.2"/><circle cx="444.2" cy="304.3" r="2.2"/><circle cx="445" cy="304.2" r="2.2"/><circle cx="445.8" cy="304.2" r="2.2"/><circle cx="446.5" cy="303.9" r="2.2"/><circle cx="447.2" cy="304.1" r="2.2"/><circle cx="448" cy="303.9" r="2.2"/><circle cx="448.8" cy="303.7" r="2.2"/><circle cx="449.5" cy="303.7" r="2.2"/><circle cx="450.2" cy="303.8" r="2.2"/><circle cx="451" cy="303.5" r="2.2"/><circle cx="451.8" cy="303.3" r="2.2"/><circle cx="452.5" cy="303.2" r="2.2"/><circle cx="453.2" cy="303.2" r="2.2"/><circle cx="454" cy="302.9" r="2.2"/><circle cx="454.8" cy="302.8" r="2.2"/><circle cx="455.5" cy="302.7" r="2.2"/><circle cx="456.2" cy="302.7" r="2.2"/><circle cx="457" cy="302.4" r="2.2"/><circle cx="457.8" cy="302.3" r="2.2"/><circle cx="458.5" cy="301.9" r="2.2"/><circle cx="459.2" cy="301.6" r="2.2"/><circle cx="460" cy="301.4" r="2.2"/><circle cx="460.8" cy="301.1" r="2.2"/><circle cx="461.5" cy="300.5" r="2.2"/><circle cx="462.2" cy="300.1" r="2.2"/><circle cx="463" cy="299.2" r="2.2"/><circle cx="463.8" cy="297.9" r="2.2"/><circle cx="464.5" cy="296" r="2.2"/><circle cx="465.2" cy="292.5" r="2.2"/><circle cx="466" cy="288.4" r="2.2"/><circle cx="466.8" cy="284.5" r="2.2"/><circle cx="467.5" cy="280.5" r="2.2"/><circle cx="468.2" cy="276.6" r="2.2"/><circle cx="469" cy="272.6" r="2.2"/><circle cx="469.8" cy="268.7" r="2.2"/><circle cx="470.5" cy="265" r="2.2"/><circle cx="471.2" cy="262.5" r="2.2"/><circle cx="472" cy="260.8" r="2.2"/><circle cx="472.8" cy="259.7" r="2.2"/><circle cx="473.5" cy="259" r="2.2"/><circle cx="474.2" cy="258.7" r="2.2"/><circle cx="475" cy="258.6" r="2.2"/><circle cx="475.8" cy="258.5" r="2.2"/><circle cx="476.5" cy="259" r="2.2"/><circle cx="477.2" cy="259.2" r="2.2"/><circle cx="478" cy="259.7" r="2.2"/><circle cx="478.8" cy="261" r="2.2"/><circle cx="479.5" cy="262.8" r="2.2"/><circle cx="480.2" cy="265.8" r="2.2"/><circle cx="481" cy="269.2" r="2.2"/><circle cx="481.8" cy="272.8" r="2.2"/><circle cx="482.5" cy="276.4" r="2.2"/><circle cx="483.2" cy="280.2" r="2.2"/><circle cx="484" cy="284" r="2.2"/><circle cx="484.8" cy="287.9" r="2.2"/><circle cx="485.5" cy="291.4" r="2.2"/><circle cx="486.2" cy="294.9" r="2.2"/><circle cx="487" cy="297.7" r="2.2"/><circle cx="487.8" cy="300.1" r="2.2"/><circle cx="488.5" cy="301.9" r="2.2"/><circle cx="489.2" cy="303.3" r="2.2"/><circle cx="490" cy="304.2" r="2.2"/><circle cx="490.8" cy="305" r="2.2"/><circle cx="491.5" cy="305.8" r="2.2"/><circle cx="492.2" cy="306.2" r="2.2"/><circle cx="493" cy="306.6" r="2.2"/><circle cx="493.8" cy="306.9" r="2.2"/><circle cx="494.5" cy="307.2" r="2.2"/><circle cx="495.2" cy="307.6" r="2.2"/><circle cx="496" cy="307.8" r="2.2"/><circle cx="496.8" cy="307.9" r="2.2"/><circle cx="497.5" cy="308.2" r="2.2"/><circle cx="498.2" cy="308.3" r="2.2"/><circle cx="499" cy="308.2" r="2.2"/><circle cx="499.8" cy="308.5" r="2.2"/><circle cx="500.5" cy="308.5" r="2.2"/><circle cx="501.2" cy="308.4" r="2.2"/><circle cx="502" cy="308.5" r="2.2"/><circle cx="502.8" cy="308.5" r="2.2"/><circle cx="503.5" cy="308.6" r="2.2"/><circle cx="504.2" cy="308.7" r="2.2"/><circle cx="505" cy="308.6" r="2.2"/><circle cx="505.8" cy="308.6" r="2.2"/><circle cx="506.5" cy="308.8" r="2.2"/><circle cx="507.2" cy="308.8" r="2.2"/><circle cx="508" cy="308.8" r="2.2"/><circle cx="508.8" cy="308.9" r="2.2"/><circle cx="509.5" cy="309" r="2.2"/><circle cx="510.2" cy="308.8" r="2.2"/><circle cx="511" cy="309" r="2.2"/><circle cx="511.8" cy="308.9" r="2.2"/><circle cx="512.5" cy="309" r="2.2"/><circle cx="513.2" cy="309.1" r="2.2"/><circle cx="514" cy="308.9" r="2.2"/><circle cx="514.8" cy="309.1" r="2.2"/><circle cx="515.5" cy="309.1" r="2.2"/><circle cx="516.2" cy="309.1" r="2.2"/><circle cx="517" cy="309.1" r="2.2"/><circle cx="517.8" cy="309.1" r="2.2"/><circle cx="518.5" cy="309.1" r="2.2"/><circle cx="519.2" cy="309.2" r="2.2"/><circle cx="520" cy="309.3" r="2.2"/><circle cx="520.8" cy="309.2" r="2.2"/><circle cx="521.5" cy="309.1" r="2.2"/><circle cx="522.2" cy="309.4" r="2.2"/><circle cx="523" cy="309.4" r="2.2"/><circle cx="523.8" cy="309.3" r="2.2"/><circle cx="524.5" cy="309.2" r="2.2"/><circle cx="525.2" cy="309.3" r="2.2"/><circle cx="526" cy="309.3" r="2.2"/><circle cx="526.8" cy="309.3" r="2.2"/><circle cx="527.5" cy="309.5" r="2.2"/><circle cx="528.2" cy="309.4" r="2.2"/><circle cx="529" cy="309.4" r="2.2"/><circle cx="529.8" cy="309.3" r="2.2"/><circle cx="530.5" cy="309.3" r="2.2"/><circle cx="531.2" cy="309.3" r="2.2"/><circle cx="532" cy="309.4" r="2.2"/><circle cx="532.8" cy="309.4" r="2.2"/><circle cx="533.5" cy="309.4" r="2.2"/><circle cx="534.2" cy="309.4" r="2.2"/><circle cx="320.5" cy="309.0" r="2.2"/></g>
<circle cx="534.3" cy="309.4" r="2.9" fill="#000"/>
<polyline points="320.5,310 431.5,310 443,309.8 448,309.5 452,308.8 456,307.7 462.5,305.5 465,304.7 467.5,304.2 470,304 472.5,304.2 475,304.7 477.5,305.5 484,307.7 486.5,308.5 488.5,308.9 491,309.3 493.5,309.6 496.5,309.8 500.5,309.9" stroke="#ff00ff" stroke-width="1.2" fill="none"/>
<polyline points="462.5,309.9 464,309.6 464.5,309.3 465,308.9 465.5,308.3 466,307.4 466.5,306.1 467,304.5 467.5,302.3 468.5,296.5 470.5,281.8 471,278.7 471.5,276.3 472,274.9 472.5,274.5 473,275.3 473.5,277.1 474,279.8 476.5,297.8 477.5,303.2 478,305.2 478.5,306.7 479,307.8 479.5,308.6 480,309.1 481,309.7 482.5,309.9" stroke="#0000ff" stroke-width="1.2" fill="none"/>
<polyline points="469,309.9 470.5,309.6 471.5,309 472,308.5 472.5,307.7 473,306.6 473.5,305.2 474.5,301.1 475,298.4 478,277.3 478.5,274.8 479,273 479.5,272.3 480,272.6 480.5,274 481,276.2 482,282.6 484,297.1 485,302.5 485.5,304.5 486,306.1 486.5,307.3 487,308.2 487.5,308.8 488.5,309.5 489.5,309.8 490.5,309.9" stroke="#77ac30" stroke-width="1.2" fill="none"/>
<polyline points="320.5,310 358.5,310 364,309.9 368,309.8 371.5,309.5 375,309 378.5,308.2 387,306.1 389.5,305.7 392,305.6 394.5,305.7 397,306.1 406,308.3 410,309.1 414,309.6 419,309.9 430.5,310 537.5,310" stroke="#4dbeee" stroke-width="1.5" fill="none"/>
<polyline points="320.5,308.9 345.5,307.8 385.5,305.4 400,304.7 416,304.2 431,304 438,304.2 445,304.7 452,305.4 474,308 481.5,308.6 489,309.1 498,309.5 508,309.8 537,310" stroke="#ff0000" stroke-width="1.8" fill="none"/>
<line x1="408.4" y1="276.2" x2="408.4" y2="299" stroke="#e8903a" stroke-width="1.4"/>
<line x1="202.9" y1="5.5" x2="202.9" y2="310.0" stroke="#ff0000" stroke-width="1.5" stroke-dasharray="5.6 2.9" stroke-dashoffset="1.5"/>
<line x1="479.1" y1="5.5" x2="479.1" y2="310.0" stroke="#ff0000" stroke-width="1.5" stroke-dasharray="5.6 2.9" stroke-dashoffset="1.5"/>
<g font-family="Liberation Sans, sans-serif" font-size="15.0" fill="#1a1a1a">
<text x="18.86" y="328.5" textLength="26.27" lengthAdjust="spacingAndGlyphs">50.5</text>
<text x="62.06" y="328.5" textLength="26.27" lengthAdjust="spacingAndGlyphs">51.5</text>
<text x="105.26" y="328.5" textLength="26.27" lengthAdjust="spacingAndGlyphs">52.5</text>
<text x="148.46" y="328.5" textLength="26.27" lengthAdjust="spacingAndGlyphs">53.5</text>
<text x="191.66" y="328.5" textLength="26.27" lengthAdjust="spacingAndGlyphs">54.5</text>
<text x="234.86" y="328.5" textLength="26.27" lengthAdjust="spacingAndGlyphs">55.5</text>
<text x="19.69" y="315.20" textLength="7.51" lengthAdjust="spacingAndGlyphs">0</text>
<text x="19.69" y="264.45" textLength="7.51" lengthAdjust="spacingAndGlyphs">1</text>
<text x="19.69" y="213.70" textLength="7.51" lengthAdjust="spacingAndGlyphs">2</text>
<text x="19.69" y="162.95" textLength="7.51" lengthAdjust="spacingAndGlyphs">3</text>
<text x="19.69" y="112.20" textLength="7.51" lengthAdjust="spacingAndGlyphs">4</text>
<text x="19.69" y="61.45" textLength="7.51" lengthAdjust="spacingAndGlyphs">5</text>
<text x="19.69" y="10.70" textLength="7.51" lengthAdjust="spacingAndGlyphs">6</text>
<text x="307.36" y="328.5" textLength="26.27" lengthAdjust="spacingAndGlyphs">28.5</text>
<text x="361.49" y="328.5" textLength="26.27" lengthAdjust="spacingAndGlyphs">29.5</text>
<text x="415.61" y="328.5" textLength="26.27" lengthAdjust="spacingAndGlyphs">30.5</text>
<text x="469.74" y="328.5" textLength="26.27" lengthAdjust="spacingAndGlyphs">31.5</text>
<text x="523.86" y="328.5" textLength="26.27" lengthAdjust="spacingAndGlyphs">32.5</text>
<text x="308.19" y="315.20" textLength="7.51" lengthAdjust="spacingAndGlyphs">0</text>
<text x="308.19" y="264.45" textLength="7.51" lengthAdjust="spacingAndGlyphs">1</text>
<text x="308.19" y="213.70" textLength="7.51" lengthAdjust="spacingAndGlyphs">2</text>
<text x="308.19" y="162.95" textLength="7.51" lengthAdjust="spacingAndGlyphs">3</text>
<text x="308.19" y="112.20" textLength="7.51" lengthAdjust="spacingAndGlyphs">4</text>
<text x="308.19" y="61.45" textLength="7.51" lengthAdjust="spacingAndGlyphs">5</text>
<text x="308.19" y="10.70" textLength="7.51" lengthAdjust="spacingAndGlyphs">6</text>
</g>
<g font-family="Liberation Sans, sans-serif" font-size="16.5" fill="#000">
<text x="35" y="23.8" textLength="33" lengthAdjust="spacingAndGlyphs">20%</text>
<text x="35" y="82.7" textLength="33" lengthAdjust="spacingAndGlyphs">30%</text>
<text x="35" y="143.2" textLength="33" lengthAdjust="spacingAndGlyphs">40%</text>
<text x="35" y="202.7" textLength="33" lengthAdjust="spacingAndGlyphs">50%</text>
<text x="35" y="273.6" textLength="33" lengthAdjust="spacingAndGlyphs">60%</text>
<text x="226.2" y="23.3" textLength="20.3" lengthAdjust="spacingAndGlyphs">(a)</text>
<text x="514.4" y="23.3" textLength="20.8" lengthAdjust="spacingAndGlyphs">(b)</text>
</g>
<g font-family="Liberation Sans, sans-serif" font-size="15" fill="#000">
<text x="174.6" y="142">A</text>
<text x="125" y="173">B</text>
<text x="455.3" y="141">C</text>
<text x="440.8" y="168.3">D</text>
<text x="404" y="175.4">E</text>
<text x="63.8" y="296.6">M</text>
</g>
<g font-family="Liberation Serif, serif" fill="#1a1a1a"><text x="100.0" y="345.6" font-size="14.6" textLength="10.4" lengthAdjust="spacingAndGlyphs">Q</text><text x="112.3" y="350.2" font-size="10" textLength="5.4" lengthAdjust="spacingAndGlyphs">Z</text><text x="112.3" y="341.4" font-size="10" textLength="14.8" lengthAdjust="spacingAndGlyphs">224</text><line x1="122.5" y1="332.4" x2="127.1" y2="332.4" stroke="#1a1a1a" stroke-width="0.6"/><text x="132.9" y="346.3" font-size="14.2" textLength="27.2" lengthAdjust="spacingAndGlyphs">(nm</text><text x="160.5" y="341.3" font-size="10" textLength="11.5" lengthAdjust="spacingAndGlyphs">&#8722;1</text><text x="174.0" y="346.3" font-size="14.2" textLength="4.9" lengthAdjust="spacingAndGlyphs">)</text></g>
<g font-family="Liberation Serif, serif" fill="#1a1a1a"><text x="388.6" y="345.6" font-size="14.6" textLength="10.4" lengthAdjust="spacingAndGlyphs">Q</text><text x="400.90000000000003" y="350.2" font-size="10" textLength="5.4" lengthAdjust="spacingAndGlyphs">Z</text><text x="400.90000000000003" y="341.4" font-size="10" textLength="14.8" lengthAdjust="spacingAndGlyphs">220</text><line x1="406.40000000000003" y1="332.4" x2="411.00000000000006" y2="332.4" stroke="#1a1a1a" stroke-width="0.6"/><text x="421.5" y="346.3" font-size="14.2" textLength="27.2" lengthAdjust="spacingAndGlyphs">(nm</text><text x="449.1" y="341.3" font-size="10" textLength="11.5" lengthAdjust="spacingAndGlyphs">&#8722;1</text><text x="462.6" y="346.3" font-size="14.2" textLength="4.9" lengthAdjust="spacingAndGlyphs">)</text></g>
<g font-family="Liberation Serif, serif" font-size="16.5" fill="#1a1a1a" text-anchor="middle">
<text transform="translate(12.6,158) rotate(-90)" textLength="136" lengthAdjust="spacingAndGlyphs">Intensity (arb. unit.)</text>
<text transform="translate(301.1,158) rotate(-90)" textLength="136" lengthAdjust="spacingAndGlyphs">Intensity (arb. unit.)</text>
</g>
</svg></body></html>
